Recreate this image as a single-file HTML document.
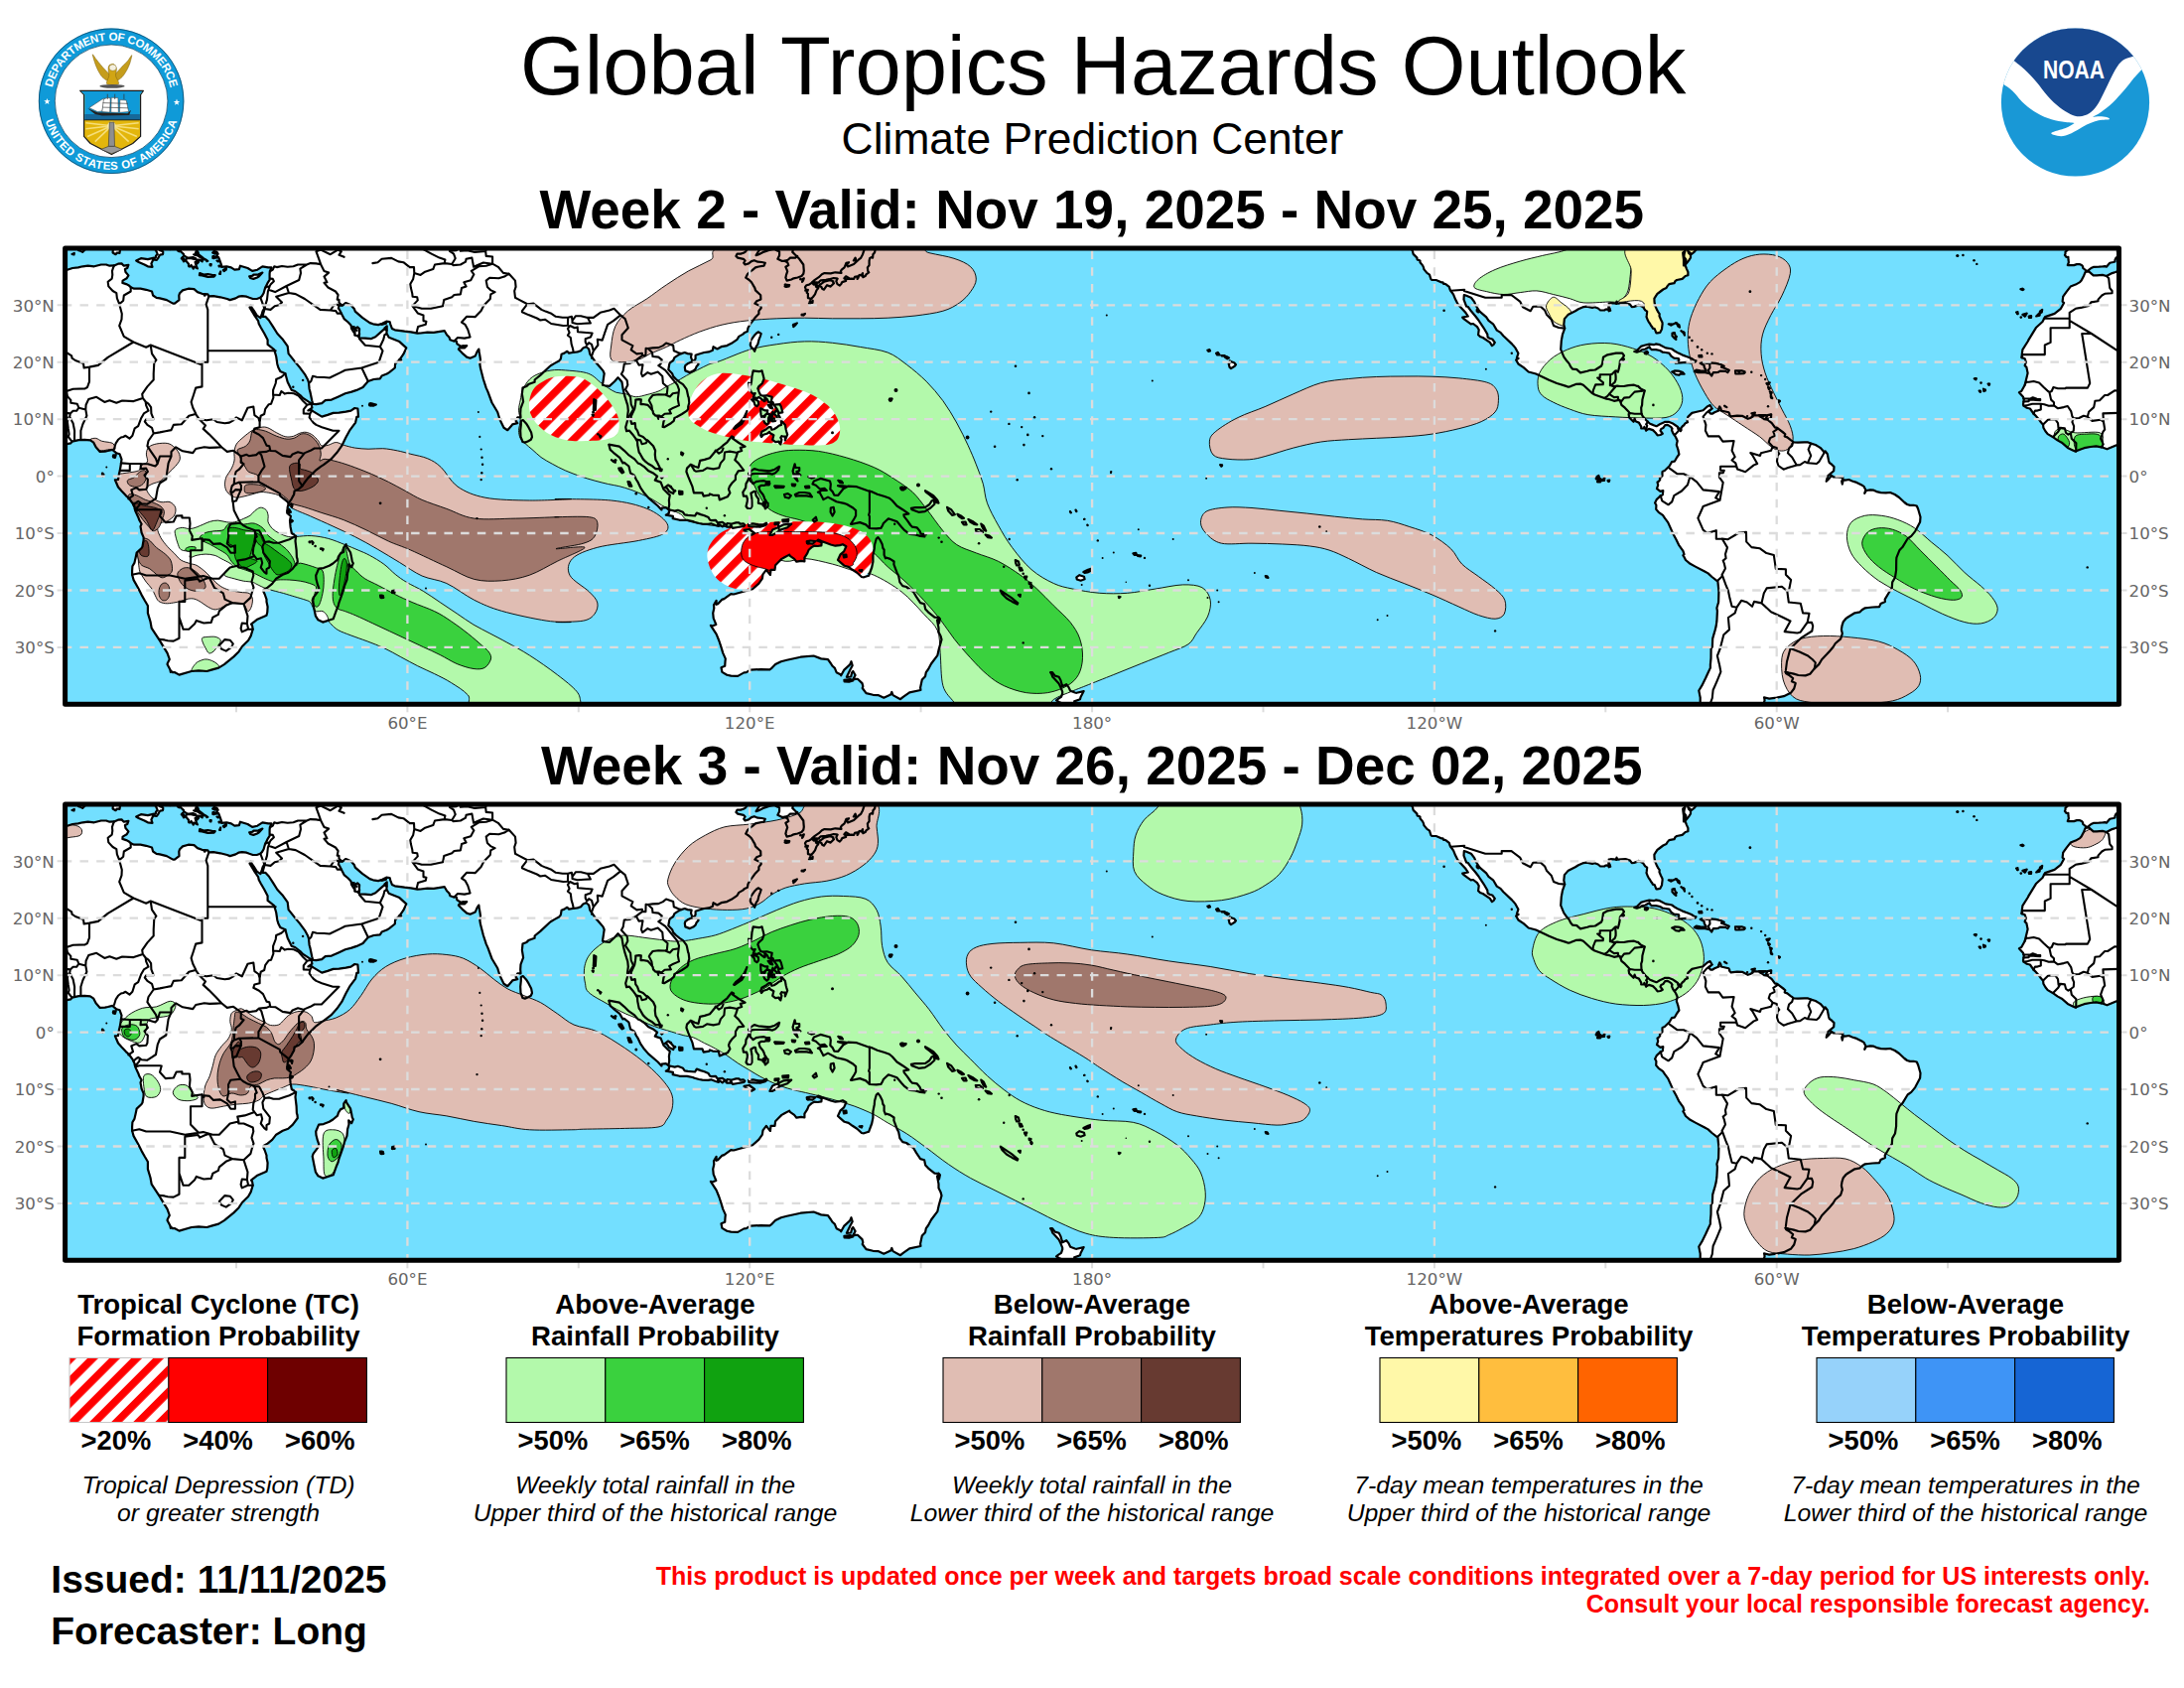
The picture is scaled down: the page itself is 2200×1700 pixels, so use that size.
<!DOCTYPE html>
<html lang="en"><head><meta charset="utf-8"><title>Global Tropics Hazards Outlook</title>
<style>
html,body{margin:0;padding:0;background:#fff}
svg{display:block}
text{font-family:"Liberation Sans",Arial,Helvetica,sans-serif;fill:#000}
.dv{font-family:"DejaVu Sans","Liberation Sans",sans-serif;fill:#666666;font-size:16.67px}
.b{font-weight:700}
.i{font-style:italic}
.m{text-anchor:middle}
.e{text-anchor:end}
</style></head><body>
<svg width="2200" height="1700" viewBox="0 0 2200 1700" xmlns="http://www.w3.org/2000/svg" xmlns:xlink="http://www.w3.org/1999/xlink">
<defs>
<clipPath id="mc"><rect x="65.6" y="249.9" width="2068.9" height="459.4"/></clipPath>
<pattern id="hz" width="15.6" height="15.6" patternUnits="userSpaceOnUse" patternTransform="rotate(-45)"><rect width="15.6" height="15.6" fill="#fff"/><rect y="0" width="15.6" height="7.6" fill="#ff0000"/></pattern>
<path id="L" d="M31.7 274 35.1 273.4 39.7 277.4 43.2 277.4 48.9 276.9 53 278 58.7 275.1 62.2 274 66.2 272.3 73.1 270 78.8 269.4 83.4 268.3 88.6 267.7 94.9 268.3 101.8 266.5 107 266.5 110.4 267.7 115 267.4 119 265.7 122.5 265.4 124.8 267.7 129.4 266.8 128.2 270 125.9 271.1 126.5 274 129.4 277.4 127.7 280.3 123.6 282.6 123.4 284.9 127.1 286.1 129.4 287.2 131.7 289.2 135.1 290.7 141.5 290.7 147.2 291.8 153 293.5 154.1 297.5 157.6 299.8 161 300.4 167.9 302.1 174.2 305.6 175.9 305.6 180.5 302.1 180.3 297.5 181.1 295.2 184 292.4 189.7 290.7 195.5 291.2 198.9 294.1 203.5 295.8 209.3 296.4 210.4 298.4 215 298.1 221.9 299.3 228.8 301 231.7 302.1 237.4 300.4 240.3 298.7 243.8 298.1 248.4 298.7 251.2 299.8 254.7 301 258.7 301 262.1 299.8 263.9 298.1 265.6 295.2 266.7 291.2 267.9 288.4 269.6 284.9 271.6 281.8 271.6 275.7 271.9 272.9 273.6 269.4 270.2 269.4 264.4 268.3 259.3 271.7 254.1 272.9 249.5 270 242 267.7 240.9 271.1 236.3 271.7 232.8 269.4 228.2 268.3 223.1 268.8 223.1 267.1 221.9 263.7 220.2 259.1 217.3 259.6 219.6 255.6 218.5 253.9 215.6 252.8 216.2 249.9 217.9 247 220.8 215.4 410.4 203.9 640.3 203.9 812.7 215.4 809.8 244.1 802.9 249.9 798.9 250.7 798.3 253.9 801.2 256.8 804.7 260.2 806.4 262.5 809.3 266.5 809.5 269.4 809.8 272.9 809.3 275.7 807.5 278 803.5 279.5 799.5 280.3 797.2 281.5 792.6 282.6 791.4 279.7 792 276.9 793.2 273.4 792.6 271.7 791.4 268.8 794.3 267.1 793.2 264.2 790.3 262.8 787.4 262.8 783.4 260.8 785.1 257.3 785.1 253.3 782.3 252.2 780 250.7 775.4 251.6 769.6 253.6 764.4 256.2 761.6 257.1 763.9 253.3 766.2 249.9 767.9 245.9 761 244.7 757 248.7 754.1 249.9 752.7 250.7 751.2 253.3 748.9 254.8 746 255.6 742.6 255.6 741.4 257.9 743.2 259.6 748.9 260.8 750.6 262.5 749.2 264.8 750.6 266.5 754.1 265.4 757 263.1 759.8 262.2 763.3 263.7 767.3 264 770.8 264.8 769.6 267.7 764.4 268.5 761 269.4 757.5 272.3 755.8 273.4 752.9 276.3 751.2 279.7 754.7 282 757 284.3 760.4 290.1 761 292.4 766.2 297.3 766.4 301.6 762.1 303.3 760.4 305.6 763.9 307.3 766.4 307.9 766.7 310.2 764.4 313.1 764.4 315.9 761 319.4 758.1 323.4 755.8 326.3 753.5 330.3 752.9 333.7 750.1 334.9 748.3 336.6 744.3 338.9 742.6 341.8 736.8 345.8 732.3 348.1 726.5 349.2 722.5 351.5 718.5 349.2 717.9 352.7 713.9 354.4 709.3 355 703.5 356.7 700.6 357.8 700.6 361.3 699.5 363 697.2 363 696 359.6 696.6 356.7 692.6 356.1 689.7 355 686.3 356.1 682.8 357.8 679.4 360.1 678.2 363 674.8 365.3 674.2 367 673.3 372.2 677.1 376.2 678.2 379.1 681.1 382 684.6 384.8 688 387.1 691.4 391.7 692 393.5 693.2 399.2 693.7 400.3 694.3 405.5 693.2 409.5 693.2 411.8 692 413.6 686.9 417 681.1 420.2 679.4 421 678.8 423.9 675.9 426.2 669 430.2 667.6 429.9 668.5 424.5 669.6 422.2 666.2 419.9 664.4 418.7 660.4 418.7 658.1 416.4 657.5 413.6 655.2 410.7 652.4 407.8 647.8 407 645.5 407.2 645.5 405.5 645.8 402.4 643.7 402.1 640.3 402.6 640.3 404.9 640 407.2 639.2 411.8 635.7 419.3 635.4 423.9 636.3 426.8 639.7 426.2 640.3 431.4 642 433.7 643.7 438.3 647.8 440 650.6 442.8 652.9 444 658.1 449.2 660.1 453.8 659.8 457.8 660.4 462.9 662.1 465.8 664.4 470.4 665 471.8 660.4 472.1 657 469.3 652.9 467 650.6 465.2 647.8 462.4 644.9 457.2 643.7 455.5 642.3 448.6 642 444.6 640.3 441.7 637.4 437.7 634 433.7 631.1 434.2 630.2 430.2 632.3 422.7 632 419.9 632.8 413.6 632.3 408.4 629.4 399.2 627.7 392.3 626.5 384.8 624.2 382 622.5 380.2 619 384.3 613.9 388.9 609.3 388.3 607 387.7 608.1 380.2 608.7 376.2 607.5 373.4 603.5 368.8 599.5 364.2 594.3 356.7 593.2 351.5 590.3 349.2 587.4 350.4 585.1 353.3 581.7 354.4 577.1 355 573.1 355.6 571.3 353.8 568.5 355.6 565.6 356.7 565 360.7 563.9 363 558.7 365.9 554.7 368.2 553.5 369.3 544.3 377.9 538.6 382.5 538.6 384.8 535.1 386 532.3 387.1 530.5 388.9 526.5 390.6 525.9 396.9 527.1 404.4 524.5 411.3 524.2 416.4 524.5 420.4 521.3 420.4 519.6 423.9 521.3 426.2 516.2 427.3 515 429.1 511.3 433.2 507.5 430.8 503.5 422.5 501.2 415 495.5 405.5 491.5 394.6 489.7 390.6 486.9 382 484 370.8 483.4 367 484 362.4 483.4 358.4 482.8 355 482.3 351.5 480.5 354.4 478.8 358.4 473.6 360.7 470.2 359.6 465.6 355.6 461.9 351.8 462.7 350.4 467.9 350.4 470.2 348.1 464.2 348.7 460.4 346.4 459.8 343.5 457 343.5 453.5 342.3 452.4 339.5 450.1 337.2 448.4 334.3 447.8 333.2 436.9 334.9 430.5 334.6 423.6 335.5 420.5 335.7 413.9 334.3 407.5 333.7 397.8 332.3 394.9 330.9 393.2 326.3 392.6 324 389.2 323.7 385.1 325.7 381.1 327.1 375.9 326.3 372.5 325.1 365 319.9 357.8 313.6 357 311.3 353.5 307.3 348.4 305 344.9 307.6 341.5 307.6 340.9 310.8 341.5 311 343.8 315.4 344.3 316.5 346.6 321.1 350.7 324.5 353.5 327.4 354.1 330.9 355.8 333.7 357.3 336 357.5 337.5 357.5 333.2 358.7 330.3 360.1 329.4 362.1 331.4 361.9 334.3 362.1 336.6 360.4 338.3 362.1 340.3 367.9 340.6 373.6 341.2 378.2 339.2 383.4 334.6 387.1 331.4 388.9 329.1 389.7 328.3 389.7 332.6 389.4 335.5 391.7 339.8 402.4 344.1 409.3 350.4 406.4 356.7 402.4 362.4 398.1 366.5 397.8 370.5 392 375.1 389.7 376.5 384.6 378.5 382.8 381.4 376.5 382 370.8 384 365.6 390 359.3 392.9 354.1 394.6 347.8 396.3 341.5 399.2 334 402.6 327.7 403.2 324.2 406.1 318.5 407.2 315.3 407 314.2 403.2 312.4 394.6 311.6 391.7 311 385.4 310.1 382.5 307 376.8 301.8 369.9 296.6 363.6 290.6 356.1 289.7 348.7 284.3 341.2 279.4 336 275.1 329.1 270.8 322.5 267.3 318.8 264.4 318.8 266.5 311.3 266.7 309.9 264.7 313.1 263.9 315.9 262.4 320.2 258.7 317.6 255.8 312.8 253.5 309.6 252.7 307.6 251.5 309.6 253.2 312.5 255.8 316.8 260.1 323.1 260.7 326 262.7 329.7 266.2 335.7 269.6 342.3 269.6 346.9 276.2 352.1 278.2 359 279.4 367 280.3 369.9 282.3 373.9 287.4 376.2 289.7 384.8 292.3 390 293.8 392.9 297.2 394 302.4 398 305.2 400.9 311.3 404.9 313.6 406.7 314.4 410.7 310.4 413.3 313.6 413 315.6 414.4 324.2 419.6 330 417.9 335.7 415.9 341.5 415.6 348.4 414.7 353.5 413.6 357.3 411 360.4 411.5 361 419.6 359.3 419.9 358.1 425.6 352.1 433.7 348.4 440.5 344.3 448.9 339.2 456.1 333.4 462.4 326.2 467.8 323.1 469.8 318.5 473.3 310.1 481.6 306.4 486.5 304.7 489.1 300.7 492.8 296.6 494.5 296.1 498 294.6 500.6 293.5 502.9 290.9 506.3 290.3 508.9 289.7 510.6 289.2 516.6 291.5 518.7 292.9 519.8 292 524.4 292.6 530.7 293.8 537 296.6 538.8 298.1 539.9 297.5 544.8 298.6 554 298.9 561.2 299.5 562.9 299.8 566 294.9 572.6 290.3 576.7 284.8 578.7 278.2 582.7 274.2 587.9 269.6 591.6 265.9 593.6 265.3 595.6 266.7 598.5 268.5 603.6 268.5 605.9 269.6 611.1 269.3 616.6 268.5 619.7 259.3 623.7 253 628.6 254.1 630.1 254.7 633.8 252.7 640.4 250.1 645 244 651 240.6 656.2 235.4 661.4 225.9 669.1 220.2 672.6 213 674.6 208.4 676 200.1 675.4 192.9 676 180.5 679.6 176.2 677.2 173.9 677.2 171.9 675.4 171.9 676.9 171.3 674.3 168.5 669.1 169 667.4 170.8 664 168.5 657.6 162.4 647.6 160.1 643.8 152.7 632.7 151.5 626 148.9 617.4 148.9 611.4 148.9 610 145.8 604.8 142.6 599.1 139.2 592.2 134.6 584.1 133.1 578.7 133.1 574.9 133.4 570.3 135.4 566.9 136.6 561.7 137.7 556.6 142.6 552 143.5 550.5 144.6 543.9 144.6 541.1 142.6 536.5 141.5 530.1 142.6 527.8 140.3 523.8 139.4 521.2 136.3 514.6 135.7 511.5 133.7 507.2 130 502 126.8 499.1 122.5 494.5 119 490.5 115.9 483.3 119 483 119.9 477.3 120.8 473.9 121.6 469 122.5 462.7 120.5 457.2 117.3 456.3 114.4 453.8 113.3 452.9 108.7 454 105.8 454.6 100.7 454.9 96.6 450.3 94.3 445.7 90.9 443.4 85.1 442.8 79.4 443.1 72.5 444.6 71.3 446.3 64.5 447.7 58.4 450.3 53.5 452.3 47.8 450.3 42.6 449.4 36.9 450 30.5 451.2 27.7 452.3 21.3 454.6 18.5 453.2 13.9 450.9 7.8 445.7 3.5 443.4 0.1 440.8 -6.2 437.1 -8.5 434.2 -10.5 430.8 -10.8 427.9 -13.1 425 -15.4 421.9 -18.9 418.1 -20.6 416.4 -24.1 411.5 -27.5 410.7 -30.4 408.7 -30.9 407.2 -30.1 402.4 -30.9 399.8 -35 395.2 -32.7 394 -29.2 387.7 -26.4 375.7 -27.5 369.9 -29.2 368.2 -28.1 364.7 -29.2 361.3 -32.4 360.1 -32.1 356.7 -31.5 352.1 -26.1 343.5 -25.2 341.8 -17.7 329.7 -11.4 324 -8.8 319.1 0.7 315.9 7 310.8 10.1 305 8.7 303.6 9.3 298.7 12.4 294.1 16.8 288.6 21.9 286.6 26.2 284.1 27.7 282.6 30.3 277.4ZM2100.6 274 2104.1 273.4 2108.7 277.4 2112.1 277.4 2117.9 276.9 2121.9 278 2127.6 275.1 2131.1 274 2135.1 272.3 2142 270 2147.7 269.4 2152.3 268.3 2157.5 267.7 2163.8 268.3 2170.7 266.5 2175.9 266.5 2179.3 267.7 2183.9 267.4 2188 265.7 2191.4 265.4 2193.7 267.7 2198.3 266.8 2197.2 270 2194.9 271.1 2195.4 274 2198.3 277.4 2196.6 280.3 2192.6 282.6 2192.3 284.9 2196 286.1 2198.3 287.2 2200.6 289.2 2204.1 290.7 2210.4 290.7 2216.1 291.8 2221.9 293.5 2223 297.5 2226.5 299.8 2229.9 300.4 2236.8 302.1 2243.1 305.6 2244.9 305.6 2249.5 302.1 2249.2 297.5 2250 295.2 2252.9 292.4 2258.7 290.7 2264.4 291.2 2267.9 294.1 2272.4 295.8 2278.2 296.4 2279.3 298.4 2283.9 298.1 2290.8 299.3 2297.7 301 2300.6 302.1 2306.4 300.4 2309.2 298.7 2312.7 298.1 2317.3 298.7 2320.1 299.8 2323.6 301 2327.6 301 2331.1 299.8 2332.8 298.1 2334.5 295.2 2335.7 291.2 2336.8 288.4 2338.5 284.9 2340.5 281.8 2340.5 275.7 2340.8 272.9 2342.6 269.4 2339.1 269.4 2333.4 268.3 2328.2 271.7 2323 272.9 2318.4 270 2311 267.7 2309.8 271.1 2305.2 271.7 2301.8 269.4 2297.2 268.3 2292 268.8 2292 267.1 2290.8 263.7 2289.1 259.1 2286.2 259.6 2288.5 255.6 2287.4 253.9 2284.5 252.8 2285.1 249.9 2286.8 247 2289.7 215.4 2479.3 203.9 2709.2 203.9 2881.6 215.4 2878.8 244.1 2871.9 249.9 2867.8 250.7 2867.3 253.9 2870.1 256.8 2873.6 260.2 2875.3 262.5 2878.2 266.5 2878.5 269.4 2878.8 272.9 2878.2 275.7 2876.5 278 2872.4 279.5 2868.4 280.3 2866.1 281.5 2861.5 282.6 2860.4 279.7 2860.9 276.9 2862.1 273.4 2861.5 271.7 2860.4 268.8 2863.2 267.1 2862.1 264.2 2859.2 262.8 2856.3 262.8 2852.3 260.8 2854 257.3 2854 253.3 2851.2 252.2 2848.9 250.7 2844.3 251.6 2838.5 253.6 2833.4 256.2 2830.5 257.1 2832.8 253.3 2835.1 249.9 2836.8 245.9 2829.9 244.7 2825.9 248.7 2823 249.9 2821.6 250.7 2820.1 253.3 2817.8 254.8 2815 255.6 2811.5 255.6 2810.4 257.9 2812.1 259.6 2817.8 260.8 2819.6 262.5 2818.1 264.8 2819.6 266.5 2823 265.4 2825.9 263.1 2828.8 262.2 2832.2 263.7 2836.2 264 2839.7 264.8 2838.5 267.7 2833.4 268.5 2829.9 269.4 2826.5 272.3 2824.7 273.4 2821.9 276.3 2820.1 279.7 2823.6 282 2825.9 284.3 2829.3 290.1 2829.9 292.4 2835.1 297.3 2835.4 301.6 2831.1 303.3 2829.3 305.6 2832.8 307.3 2835.4 307.9 2835.7 310.2 2833.4 313.1 2833.4 315.9 2829.9 319.4 2827 323.4 2824.7 326.3 2822.4 330.3 2821.9 333.7 2819 334.9 2817.3 336.6 2813.2 338.9 2811.5 341.8 2805.8 345.8 2801.2 348.1 2795.4 349.2 2791.4 351.5 2787.4 349.2 2786.8 352.7 2782.8 354.4 2778.2 355 2772.4 356.7 2769.6 357.8 2769.6 361.3 2768.4 363 2766.1 363 2765 359.6 2765.5 356.7 2761.5 356.1 2758.6 355 2755.2 356.1 2751.7 357.8 2748.3 360.1 2747.2 363 2743.7 365.3 2743.1 367 2742.3 372.2 2746 376.2 2747.2 379.1 2750 382 2753.5 384.8 2756.9 387.1 2760.4 391.7 2760.9 393.5 2762.1 399.2 2762.7 400.3 2763.2 405.5 2762.1 409.5 2762.1 411.8 2760.9 413.6 2755.8 417 2750 420.2 2748.3 421 2747.7 423.9 2744.9 426.2 2738 430.2 2736.5 429.9 2737.4 424.5 2738.5 422.2 2735.1 419.9 2733.4 418.7 2729.3 418.7 2727 416.4 2726.5 413.6 2724.2 410.7 2721.3 407.8 2716.7 407 2714.4 407.2 2714.4 405.5 2714.7 402.4 2712.7 402.1 2709.2 402.6 2709.2 404.9 2708.9 407.2 2708.1 411.8 2704.6 419.3 2704.3 423.9 2705.2 426.8 2708.6 426.2 2709.2 431.4 2710.9 433.7 2712.7 438.3 2716.7 440 2719.6 442.8 2721.9 444 2727 449.2 2729 453.8 2728.8 457.8 2729.3 462.9 2731.1 465.8 2733.4 470.4 2733.9 471.8 2729.3 472.1 2725.9 469.3 2721.9 467 2719.6 465.2 2716.7 462.4 2713.8 457.2 2712.7 455.5 2711.2 448.6 2710.9 444.6 2709.2 441.7 2706.3 437.7 2702.9 433.7 2700 434.2 2699.2 430.2 2701.2 422.7 2700.9 419.9 2701.7 413.6 2701.2 408.4 2698.3 399.2 2696.6 392.3 2695.4 384.8 2693.1 382 2691.4 380.2 2688 384.3 2682.8 388.9 2678.2 388.3 2675.9 387.7 2677 380.2 2677.6 376.2 2676.5 373.4 2672.4 368.8 2668.4 364.2 2663.2 356.7 2662.1 351.5 2659.2 349.2 2656.3 350.4 2654 353.3 2650.6 354.4 2646 355 2642 355.6 2640.3 353.8 2637.4 355.6 2634.5 356.7 2633.9 360.7 2632.8 363 2627.6 365.9 2623.6 368.2 2622.4 369.3 2613.2 377.9 2607.5 382.5 2607.5 384.8 2604 386 2601.2 387.1 2599.5 388.9 2595.4 390.6 2594.9 396.9 2596 404.4 2593.4 411.3 2593.1 416.4 2593.4 420.4 2590.3 420.4 2588.5 423.9 2590.3 426.2 2585.1 427.3 2583.9 429.1 2580.2 433.2 2576.5 430.8 2572.4 422.5 2570.1 415 2564.4 405.5 2560.4 394.6 2558.6 390.6 2555.8 382 2552.9 370.8 2552.3 367 2552.9 362.4 2552.3 358.4 2551.8 355 2551.2 351.5 2549.5 354.4 2547.7 358.4 2542.6 360.7 2539.1 359.6 2534.5 355.6 2530.8 351.8 2531.6 350.4 2536.8 350.4 2539.1 348.1 2533.1 348.7 2529.3 346.4 2528.8 343.5 2525.9 343.5 2522.4 342.3 2521.3 339.5 2519 337.2 2517.3 334.3 2516.7 333.2 2505.8 334.9 2499.5 334.6 2492.6 335.5 2489.4 335.7 2482.8 334.3 2476.5 333.7 2466.7 332.3 2463.8 330.9 2462.1 326.3 2461.5 324 2458.1 323.7 2454.1 325.7 2450 327.1 2444.9 326.3 2441.4 325.1 2433.9 319.9 2426.8 313.6 2425.9 311.3 2422.4 307.3 2417.3 305 2413.8 307.6 2410.4 307.6 2409.8 310.8 2410.4 311 2412.7 315.4 2413.2 316.5 2415.5 321.1 2419.6 324.5 2422.4 327.4 2423 330.9 2424.7 333.7 2426.2 336 2426.5 337.5 2426.5 333.2 2427.6 330.3 2429.1 329.4 2431.1 331.4 2430.8 334.3 2431.1 336.6 2429.3 338.3 2431.1 340.3 2436.8 340.6 2442.6 341.2 2447.2 339.2 2452.3 334.6 2456.1 331.4 2457.8 329.1 2458.7 328.3 2458.7 332.6 2458.4 335.5 2460.7 339.8 2471.3 344.1 2478.2 350.4 2475.3 356.7 2471.3 362.4 2467 366.5 2466.7 370.5 2460.9 375.1 2458.7 376.5 2453.5 378.5 2451.8 381.4 2445.4 382 2439.7 384 2434.5 390 2428.2 392.9 2423 394.6 2416.7 396.3 2410.4 399.2 2402.9 402.6 2396.6 403.2 2393.1 406.1 2387.4 407.2 2384.2 407 2383.1 403.2 2381.4 394.6 2380.5 391.7 2379.9 385.4 2379.1 382.5 2375.9 376.8 2370.7 369.9 2365.5 363.6 2359.5 356.1 2358.7 348.7 2353.2 341.2 2348.3 336 2344 329.1 2339.7 322.5 2336.2 318.8 2333.4 318.8 2335.4 311.3 2335.7 309.9 2333.7 313.1 2332.8 315.9 2331.4 320.2 2327.6 317.6 2324.7 312.8 2322.4 309.6 2321.6 307.6 2320.4 309.6 2322.2 312.5 2324.7 316.8 2329.1 323.1 2329.6 326 2331.6 329.7 2335.1 335.7 2338.5 342.3 2338.5 346.9 2345.1 352.1 2347.2 359 2348.3 367 2349.2 369.9 2351.2 373.9 2356.4 376.2 2358.7 384.8 2361.2 390 2362.7 392.9 2366.1 394 2371.3 398 2374.2 400.9 2380.2 404.9 2382.5 406.7 2383.4 410.7 2379.3 413.3 2382.5 413 2384.5 414.4 2393.1 419.6 2398.9 417.9 2404.6 415.9 2410.4 415.6 2417.3 414.7 2422.4 413.6 2426.2 411 2429.3 411.5 2429.9 419.6 2428.2 419.9 2427 425.6 2421 433.7 2417.3 440.5 2413.2 448.9 2408.1 456.1 2402.3 462.4 2395.1 467.8 2392 469.8 2387.4 473.3 2379.1 481.6 2375.3 486.5 2373.6 489.1 2369.6 492.8 2365.5 494.5 2365 498 2363.5 500.6 2362.4 502.9 2359.8 506.3 2359.2 508.9 2358.7 510.6 2358.1 516.6 2360.4 518.7 2361.8 519.8 2361 524.4 2361.5 530.7 2362.7 537 2365.5 538.8 2367 539.9 2366.4 544.8 2367.6 554 2367.8 561.2 2368.4 562.9 2368.7 566 2363.8 572.6 2359.2 576.7 2353.8 578.7 2347.2 582.7 2343.1 587.9 2338.5 591.6 2334.8 593.6 2334.2 595.6 2335.7 598.5 2337.4 603.6 2337.4 605.9 2338.5 611.1 2338.3 616.6 2337.4 619.7 2328.2 623.7 2321.9 628.6 2323 630.1 2323.6 633.8 2321.6 640.4 2319 645 2313 651 2309.5 656.2 2304.3 661.4 2294.9 669.1 2289.1 672.6 2281.9 674.6 2277.3 676 2269 675.4 2261.8 676 2249.5 679.6 2245.1 677.2 2242.9 677.2 2240.8 675.4 2240.8 676.9 2240.3 674.3 2237.4 669.1 2238 667.4 2239.7 664 2237.4 657.6 2231.4 647.6 2229.1 643.8 2221.6 632.7 2220.4 626 2217.9 617.4 2217.9 611.4 2217.9 610 2214.7 604.8 2211.5 599.1 2208.1 592.2 2203.5 584.1 2202 578.7 2202 574.9 2202.3 570.3 2204.3 566.9 2205.5 561.7 2206.6 556.6 2211.5 552 2212.4 550.5 2213.5 543.9 2213.5 541.1 2211.5 536.5 2210.4 530.1 2211.5 527.8 2209.2 523.8 2208.4 521.2 2205.2 514.6 2204.6 511.5 2202.6 507.2 2198.9 502 2195.7 499.1 2191.4 494.5 2188 490.5 2184.8 483.3 2188 483 2188.8 477.3 2189.7 473.9 2190.6 469 2191.4 462.7 2189.4 457.2 2186.2 456.3 2183.4 453.8 2182.2 452.9 2177.6 454 2174.7 454.6 2169.6 454.9 2165.6 450.3 2163.3 445.7 2159.8 443.4 2154.1 442.8 2148.3 443.1 2141.4 444.6 2140.3 446.3 2133.4 447.7 2127.3 450.3 2122.5 452.3 2116.7 450.3 2111.5 449.4 2105.8 450 2099.5 451.2 2096.6 452.3 2090.3 454.6 2087.4 453.2 2082.8 450.9 2076.8 445.7 2072.5 443.4 2069 440.8 2062.7 437.1 2060.4 434.2 2058.4 430.8 2058.1 427.9 2055.8 425 2053.5 421.9 2050 418.1 2048.3 416.4 2044.9 411.5 2041.4 410.7 2038.5 408.7 2038 407.2 2038.8 402.4 2038 399.8 2033.9 395.2 2036.2 394 2039.7 387.7 2042.6 375.7 2041.4 369.9 2039.7 368.2 2040.8 364.7 2039.7 361.3 2036.5 360.1 2036.8 356.7 2037.4 352.1 2042.9 343.5 2043.7 341.8 2051.2 329.7 2057.5 324 2060.1 319.1 2069.6 315.9 2075.9 310.8 2079.1 305 2077.6 303.6 2078.2 298.7 2081.4 294.1 2085.7 288.6 2090.8 286.6 2095.2 284.1 2096.6 282.6 2099.2 277.4ZM1419.6 247.3 1421.3 249.9 1423 253 1423.6 255.9 1427.4 259.6 1427.6 261.4 1430.5 262.5 1430.5 264.2 1433.1 267.4 1434 269.4 1434.5 271.4 1437.4 274.9 1440 276.6 1441.4 281.2 1442.3 281.8 1446.6 282 1448.9 282.9 1451.8 284.3 1453.5 284.3 1454.1 285.8 1455.2 285.8 1456.9 286.6 1459.8 288.9 1460.7 291.8 1461.5 293 1464.1 296.7 1466.1 301.6 1467.9 305 1469.3 307.3 1474.2 312.5 1476.5 315.1 1478.8 318.5 1473.2 319.7 1474.2 320.8 1481.7 326.3 1484 326 1488 329.1 1489.7 332 1489.1 337.2 1490.9 338.9 1493.7 340 1500.9 344.9 1502.9 348.2 1504.4 347.2 1505.8 344.9 1503.2 341.5 1500.6 340.9 1498.6 339.5 1498.3 336.6 1494.6 330.3 1491.1 325.1 1489.4 322.5 1486.5 318.8 1481.9 313.3 1478.8 309 1477.1 308.5 1474.5 301.6 1474.8 297 1476.5 297.5 1481.9 299.8 1485.1 303.9 1486.8 307.9 1489.7 312.5 1491.1 314.2 1497.2 319.4 1499.5 322.8 1504.1 326.3 1507.8 332.6 1511.5 334.9 1514.4 338.3 1523 346.4 1526.5 350.4 1529.4 355.8 1527.9 360.4 1529.6 361 1527.1 362.4 1529.4 366.5 1534.8 370.2 1539.7 374.5 1547.2 376.5 1550.9 378.2 1560.4 382.8 1568.2 386 1576.8 388.6 1579.9 389.7 1582.2 389.1 1587.4 386.9 1592 386.6 1594.9 387.7 1603.5 395.8 1606.4 397.5 1612.7 399.7 1618.2 401.6 1621.3 402.2 1625.9 403.8 1629.6 403.2 1631.7 402.9 1632.5 405.2 1633.4 407.8 1636.8 410.7 1640.9 415 1641.7 416.7 1640.6 417 1641.1 420.4 1645.5 424.8 1646.6 421.6 1646.9 422.3 1648 424.5 1650.9 425.6 1653.2 429.6 1653.2 431.4 1655.8 431.5 1656.4 429.9 1658.1 433.5 1661 431.9 1665 433.1 1667.9 436 1669.6 438.3 1672.5 438 1674.8 436.7 1672.5 433.8 1673.3 431.9 1675.3 431.1 1677.3 428.2 1679.9 427.9 1683.4 430.2 1684.5 431.6 1684 433.3 1685.4 436.5 1686.8 438.3 1688 440.3 1689.7 444 1688.8 448 1690.3 452.6 1691.4 457.5 1688.8 461.2 1686.8 464.7 1684 465.2 1681.7 469.3 1676.8 474 1674.5 474.9 1674.5 479.2 1671.9 481.7 1672.3 483 1670.6 485.1 1669.5 485.6 1670.2 488.5 1669 492.2 1672.5 494.8 1675.3 494 1674.8 498.3 1672.2 499.7 1668.7 503.1 1667.1 506.5 1668.4 508.8 1668.2 512.9 1670.7 515.8 1675 518.9 1677.2 522.1 1680.2 526.1 1682.8 531.9 1685.3 537.4 1688.4 543.3 1691.1 548.8 1695.4 554.8 1696.5 558.3 1695.4 559.4 1696.6 561.2 1698 564 1702.6 567.8 1707.8 570.6 1716.7 575.2 1720.6 577.4 1724.5 581 1730.4 585.7 1731.4 595.6 1731.1 606.5 1729.4 612.3 1729.9 615.4 1729.4 625.5 1728.6 630.9 1727.5 635.1 1725.2 643.1 1724.9 651.3 1723.6 653.3 1723.5 662.8 1722.9 669.3 1722.9 672.6 1720.7 677.2 1718.3 682.5 1714.4 690.4 1711.3 695.5 1712.1 699.6 1712.7 702.4 1712.7 708.5 1711 711 1711 738 1772.5 738 1773.6 715.4 1777.1 712.5 1776.5 709.3 1777.6 705.3 1777.1 702.4 1782.2 703.6 1789.7 702.7 1796.9 701.2 1803.9 697.8 1807.2 693.5 1808.7 688.1 1804.9 686.3 1806.1 683.2 1801.8 679.7 1799.2 678.3 1798.3 676.6 1802.1 677.6 1806.9 678.6 1811.5 680 1818.7 680.4 1823.3 678.7 1827.7 673.4 1832.2 669.1 1835.1 664.2 1840.3 658.8 1842.9 655.9 1846.5 651.8 1848.8 648 1854.2 643.3 1855.8 638.1 1854.9 634.1 1855.5 630.1 1856.7 626.3 1859.2 623.2 1861.5 621.5 1868.4 617.3 1873.6 616.3 1875.6 614.3 1878.8 612.3 1881.7 612 1886.2 611.5 1893.1 611.1 1894.4 608.1 1898.9 605.9 1898.7 603.6 1903.1 596.2 1905.8 592.2 1906.2 586.4 1909 581.5 1910.1 574.1 1910.2 564.6 1910.4 561.6 1913.3 554.3 1916.4 551.1 1921.6 542.5 1925.3 539.9 1929.2 535.1 1934.1 525.8 1934.5 520.7 1932.2 512.8 1930.8 509.5 1927.6 508.8 1924 508.9 1921.1 508 1918.4 506 1913.1 501 1908.7 498 1904.1 496 1899.8 496.3 1894.6 496.1 1890.3 495.1 1887.4 493.7 1884 493.4 1880 494 1878.2 496.8 1879.4 493.4 1877.6 489.9 1875.9 488.8 1871.3 486.5 1869.4 485.6 1865.8 484.5 1862.4 483 1858.7 483.6 1856.9 483 1855.8 487.6 1855.2 484.8 1855.8 483.6 1856.4 481 1851.2 480.5 1847.2 480.5 1844.9 479 1842.6 481.9 1839.7 484.8 1841.1 479.4 1844.9 476.2 1847.2 474.1 1847.5 470.1 1844.9 467.5 1842.6 465.8 1842 463.5 1840.8 457.2 1838.5 454.3 1837.7 455.5 1834 451.2 1831.9 449.9 1828.8 448 1824.2 446.6 1821.3 445.4 1817.6 445.4 1811 445.7 1806.9 445.4 1805.2 444 1804.1 443.4 1800.3 440.4 1797.7 439.4 1798.3 437.4 1796.9 436 1790.8 431.4 1788 430.5 1784.8 426.2 1780.5 422.7 1777.1 422.2 1774.8 420.4 1772.5 419.3 1776.5 418.9 1779.1 418 1771.9 418.1 1771 418.3 1765.3 418.4 1765.7 419.5 1763 421 1760.7 421.8 1754.9 418.8 1749.9 418.7 1743.7 419.4 1742 417.6 1742.2 416.8 1741.4 415.3 1734.7 413.8 1733.7 413.3 1733.4 411.1 1732.2 409.5 1731 412.4 1731.4 413.6 1727.1 415.3 1724.8 416.7 1723.3 416.6 1722.5 415.9 1721 414.4 1724.6 411.5 1722.6 408.1 1719.7 409.5 1715.6 413.3 1708.1 415 1704.4 415.9 1700.3 419.9 1699.5 423.9 1700 425.3 1697.7 426.2 1696 428.5 1695.3 428.8 1693.3 431.2 1693.6 433.1 1692.9 434.2 1691.7 431.9 1690.4 430.7 1689.9 429.8 1688 428.5 1684.5 426.2 1680.8 424.8 1676.8 424.8 1675.3 425.8 1671.9 427.3 1669 429.1 1667.9 429.1 1665 427.9 1662.1 426.8 1660.1 425 1657.3 422.2 1654.6 419 1653.5 416.8 1653.2 410.7 1654.1 407.8 1654.4 402.6 1655.3 399 1656.7 393.5 1652.6 391.4 1650 388.9 1648.3 388.6 1646 387.7 1640.3 388.2 1635.7 389 1631.9 389 1629.1 388.6 1625.3 389.3 1623.6 388.3 1624.2 387.1 1626.8 384.8 1627.6 382.1 1627.6 379.1 1627.1 374.2 1628.2 373.4 1629.8 374.7 1630.5 372.2 1631.4 368.5 1631.9 363.6 1634.1 361.1 1636 358.1 1634.2 355.6 1627.9 355.6 1619.3 357.3 1615 359.7 1614.2 365.6 1613.2 368.5 1606.9 372.5 1602.1 372.8 1598.9 373.8 1592 375.4 1589.7 373.4 1588.6 372.2 1584.2 371.7 1582.1 369.3 1580.5 365.9 1578.3 363.6 1575.3 359.3 1572.2 351.8 1572.8 343.2 1573.9 337.2 1576.2 330.6 1575.3 326.8 1575.9 321.1 1579.4 317.1 1586.8 313.3 1590 311.3 1595.2 309.1 1598.3 308.6 1604.1 309.9 1606.4 309.3 1609.8 310.5 1612.1 312.5 1616.1 312.5 1617.3 311.6 1619.6 311.3 1620.7 313.3 1622.2 312.8 1621.6 310.8 1620.2 309 1621.3 307.3 1620.7 305.6 1622.5 305.2 1625.6 305.3 1628.2 305.9 1628.5 303.6 1629.4 305.6 1633.4 305.3 1637.4 305.1 1642 306.6 1643.8 309.2 1646 308.9 1649.8 307.6 1650.6 306.9 1653.8 308.5 1655.2 309.3 1657.2 312.3 1659.2 313.6 1658.7 317.9 1658.5 319 1659.2 320.8 1660 322.8 1660.7 324.1 1662.1 326 1663 327.7 1664.4 329.5 1664.8 330.7 1666.7 331.1 1668.4 335.3 1669.6 335.3 1672.2 334.9 1672.7 334 1674 331.6 1674.2 329.6 1674.6 326.3 1674.5 324.8 1673 321.8 1671.5 318.3 1671.7 316.2 1670.2 314.2 1669.6 312.9 1669 311.9 1667.3 307.9 1666.7 305.3 1666.5 303.3 1666.4 300.7 1669.6 295.7 1670.7 295 1675.3 291.5 1678.5 290.1 1679.4 288.4 1681.3 286.1 1686.5 285.2 1687.4 283.2 1689.1 282 1694.6 280.9 1697.7 278 1700.4 277.3 1700.4 274 1700 273.1 1698.9 270.6 1697.9 268 1697.7 267.5 1696 267.4 1696 264.2 1696 261.4 1695.4 256.8 1695.2 254.5 1697.5 252.5 1696.6 255.6 1696.3 258.5 1698.3 261.4 1698 264.2 1697.9 266.4 1700 263.7 1701.5 261.9 1703 259.5 1703 256.8 1701.2 255 1700.3 252.8 1702.3 254.5 1703.9 256 1706.8 253.6 1708.7 251.3 1709.2 247.3 1709.2 215.4 1419.6 215.4ZM15.6 238.4 70.8 238.4 70.5 245.9 68.5 247.3 65.6 250.2 64.5 251.9 63.9 253 64.5 254.8 66.2 256.5 66.9 257.2 65 258.5 62.7 259.6 61.6 261.7 61.6 263.5 59.9 264 56.4 264.8 55.3 266 53 268.7 51.5 268.1 48.4 268.5 45.5 268.7 40.3 268.8 37.4 270 34.9 272.2 33.4 272.9 31.7 271.8 29.4 270 29.1 268.3 28 267.1 25.7 266 23.1 266.1 20.2 267.1 14.2 267.1 13.9 267 15 264.2 14.6 261.7 14.5 258.8 12.7 259 11.3 257.3 11 256.9 11.6 255.6 11.6 253.6 13.5 252.2 14.6 249ZM2084.5 238.4 2139.7 238.4 2139.4 245.9 2137.4 247.3 2134.5 250.2 2133.4 251.9 2132.8 253 2133.4 254.8 2135.1 256.5 2135.8 257.2 2133.9 258.5 2131.6 259.6 2130.5 261.7 2130.5 263.5 2128.8 264 2125.3 264.8 2124.2 266 2121.9 268.7 2120.4 268.1 2117.3 268.5 2114.4 268.7 2109.2 268.8 2106.4 270 2103.8 272.2 2102.3 272.9 2100.6 271.8 2098.3 270 2098 268.3 2096.9 267.1 2094.6 266 2092 266.1 2089.1 267.1 2083.1 267.1 2082.8 267 2083.9 264.2 2083.5 261.7 2083.4 258.8 2081.6 259 2080.2 257.3 2079.9 256.9 2080.5 255.6 2080.5 253.6 2082.4 252.2 2083.5 249ZM150.7 238.4 150.7 246.1 151.8 248.2 153.5 249.7 155.5 249.6 156.3 251 157.7 253.6 158.7 256.2 157 257.5 157 259.1 155.8 259.9 155.5 260.8 155.7 261.7 157.9 261.8 159.3 259.9 160.7 257.3 161.3 256.6 163.9 256.2 164.2 255.2 164.2 253.3 161.3 252.2 160.4 251.3 161.6 249 162.4 247.9 164.4 247.1 166.7 248.2 169 249.6 171.2 251 171.9 249 169 246.1 169 238.4ZM176.5 238.4 177.4 247.3 176.5 247.9 179.1 249.3 180.5 250.6 182 252.8 182.8 254 184.9 255.9 184.9 256.8 186.9 258.5 188.6 259.4 190.6 259.5 194.3 259.1 197.2 260.2 197.5 261.5 192.6 260.1 190.5 260.1 188.3 260.2 186.9 261.8 188 263.5 190 265.7 190 267.7 190.3 268.3 191.7 268.4 192.6 267 194.8 270.6 195.3 268.5 198.9 270.4 198.1 268.8 197.2 266.2 196.6 264 198.6 265.4 200.1 263.7 198.6 263.4 197.8 261.9 199.8 261.5 201.4 261.8 203.7 263.4 203.5 261.3 203.8 260.2 202.4 259.5 201.2 258.8 199.5 257.6 198.4 257.3 196.6 256.9 195.2 256.3 197.5 255.9 196.9 254.8 197.5 253.6 198.4 255 199.8 254.8 198.9 253 197.2 251.6 195.8 249.9 195.5 248.4 197.2 246.4 200.1 250.2 200.7 248.7 203.4 250.2 203 248.2 205.8 249.2 204.7 246.4 215 244.7 215 238.4ZM884.5 541.1 882.8 542.5 881.1 548.5 880.8 552.2 879.4 559.4 879.4 565.7 878.2 571.5 875.1 579.8 870.2 581.3 867.9 581 863.3 576.7 858.7 573.8 854.7 570.9 850.6 569.8 846.6 566.3 844 564 846.6 558.3 850.1 555.4 852.4 550.2 848.9 548.2 846 549.1 841.4 549.7 836.8 548.5 832.2 546.8 827.7 545.1 824.2 543.6 823.1 544.5 827.7 546.2 827.4 549.4 823.6 550 820.2 549.7 817.6 551.1 814.7 553.7 813.3 557.1 810.4 561.7 810.4 565.5 807 564.9 802.4 565.7 800.1 562.9 795.5 559.7 795.2 558.6 790.3 561.2 787.4 562.9 784 566.3 781.1 569.2 780.5 573.8 776.5 573.8 775.9 579 773.6 576.1 771.9 573.8 768.5 578.4 767.9 582.7 764.4 587.6 758.1 593.3 747.2 596.2 739.1 598.5 736.3 598.2 729.4 603.1 727.1 603.9 723.1 608.2 721.6 608.8 721.6 604.8 719 609.4 719.3 612.6 718.2 617.4 718.7 622.6 721.3 628.9 717.3 630.6 715.9 629.8 721.6 638.7 724.2 645 726.5 651.9 728.2 657.6 730.8 663.4 730.5 666.5 730.2 670.8 726.5 672.3 727.4 676.9 732.3 679.7 736.3 680.6 743.2 680.9 749.5 677.4 751.8 677.2 755.8 674.6 766.2 674.1 775.4 674.3 777.7 672.6 781.1 669.1 786.8 666.2 792.6 664.8 806.4 661.7 819.6 660.5 827.1 663.4 834 664.2 836.8 668 838.6 670.8 840.9 672.9 842.6 677.2 846.6 679.2 847.2 680.3 850.1 674.9 856.1 669.4 857.5 666.2 858.7 670.3 856.4 674.6 852.9 681.8 857.2 681.5 858.1 677.4 859.3 676 861.6 680 859.3 684.1 862.1 683.8 863.9 683.8 868.5 688.1 869.3 691.2 868.7 693 872.5 698.1 879.4 699.8 884.5 700.1 890.3 702.7 897.2 699.6 898.3 697 899.5 700.1 907 704.2 909.8 701.9 916.2 697.3 927.4 695 927.1 692.4 928.8 684.6 932 681.2 932.8 677.2 935.1 674 938 668.5 944.3 660.2 945.8 653.6 948.5 644.1 947.5 640.4 945.5 636.4 945.5 632.4 944 624.6 946 622 941.4 621.7 935.1 616.6 932.2 613.4 931.1 608.2 927.1 607.1 923.1 601.1 920.2 596.2 917.6 594.5 913 591 909.3 590.2 906.4 586.4 905.2 580.1 903.5 576.7 900.4 568.3 900.6 565.5 896.6 562.9 893.2 561.7 892 562.3 890.6 558.9 890.6 553.7 889.4 552 888.6 547.9 886.6 543.9ZM819.9 484.5 826.5 481.9 836 484.5 836.8 487.6 836.3 492.8 838.6 495.1 840.3 498.6 844.3 498.8 849.5 492.2 854.1 489.7 863 490.2 874.2 494.2 877.7 495.1 883.7 497.7 891.2 500 896 501.7 898.9 504.3 903.5 509.5 909.3 513.2 915.3 517.5 910.4 518.4 910.7 520.1 913.9 524.1 917.3 529 919 530.7 923.6 531.3 926.5 534.7 927.6 537.6 932.8 538.5 929.9 539.3 931.4 540.5 927.1 539.9 921.9 538.5 916.2 537.9 911.3 534.2 908.1 530.7 903.5 525.3 897.8 523.2 894.9 522.4 892 525 889.7 527.3 889.1 529 887.4 531.9 882.8 532.4 875.9 532 872.2 528.4 866.2 526.1 858.7 527.8 857 527.8 861 521.5 862.1 519.2 862.1 514.1 859.3 511.5 852.9 507.7 850.1 506.9 842.6 505.2 834 500.6 829.4 503.1 825.9 496.5 823.9 495.7 827.7 494 832.8 494 830.5 491.9 825.9 492.5 821.9 488.8 818.5 487.4ZM695.8 467.8 699.8 469.8 703.5 471 705.2 463.8 709.8 462.9 715 461.2 720.8 454.3 725.9 450.9 727.7 449.2 732.5 445.3 737.1 439.4 739.1 440.5 738 441.7 744.3 446 750.6 449.7 745.8 450.9 747.2 454 743.2 455.2 741.4 460.6 740.3 463.2 743.7 466.4 749.2 473.6 743.7 474.4 740.9 479 740.9 483 737.1 486.8 734.8 490.2 734 492.8 735.4 496.3 732.8 500.3 724.8 503.4 723.9 498.8 717.9 498.6 715 497.4 714.4 498.6 708.7 499.7 707.5 496.3 702.9 496.3 698.9 496.3 697.5 490.2 695.5 485.3 693.2 479.9 691.4 475 692 471.6ZM613.3 447.7 623.9 449.7 628.8 453.8 632.8 457.8 639.2 462.4 642.6 466.4 644.9 467.3 648.6 469.8 652.9 473.9 657.5 476.2 662.1 479.6 659.8 483.6 665.6 485.6 668.5 492.8 672.5 496.8 674.8 498.6 673.9 503.7 674.2 508.3 673.3 513.2 670.8 511.2 666.7 511.5 666.4 513.5 662.7 509.5 653.2 501.4 648.3 495.7 645.5 491.7 642.3 485.1 640.9 483 638.9 478.7 635.1 476.4 633.4 469.5 628.8 465.8 627.4 466.4 624.2 460.9 617.9 455.8 614.7 452.9ZM674.8 513.5 679.7 514.6 682.8 513.8 688 515.8 689.7 518.4 692.9 518.9 700.1 519.5 701.8 516.6 705.8 518.1 709.6 519.2 713.6 520.9 715 523.5 716.2 524.1 720.8 523.8 723.1 526.7 723.9 529.9 720.8 529 716.2 527.3 713.3 527.8 707.5 527.6 704.1 527 699.5 525.8 697.8 525 692 523.8 690 523.8 684.6 523.8 677.7 522.1 677.9 519.8 670.8 518.7 673.9 516.9 673.6 516.1ZM759.8 472.1 763.9 473.3 769.6 473.9 775.4 474.4 780.5 472.7 783.1 471 785.1 469.8 784 473.3 781.1 476.2 778.2 477.6 773.1 476.7 766.7 477 761 477 757 477.3 755.5 480.2 755.8 484.2 758.7 487.1 761.6 485.1 765 484.5 769.6 484.2 771.9 485.1 775.1 485.1 774.2 487.1 770.2 488.8 766.7 488.8 764.4 490.5 765.6 494.5 768.5 498 769.6 500.3 770.2 502.3 771.9 504.9 770.8 506.9 766.7 507.5 763.9 506.6 764.1 502.6 761.6 499.1 761 495.1 759.8 494.8 756.4 496.8 757.3 501.4 757.5 506 757.5 510 756.4 511.8 752.9 511.8 751.5 510 751.8 508.9 752.7 504.9 752.9 502.6 752.1 499.7 748.9 499.7 748.3 495.7 748.9 494.8 751.2 491.1 751.5 487.1 753.5 483.6 754.4 480.2 754.1 476.7 756.4 474.4ZM348.6 548.2 348.9 550.2 353 556.3 354.1 561.4 354.7 565.2 355.8 567.2 354.1 571.2 351.2 568.3 351.5 572.3 350.1 577.2 349.5 583.8 346.9 590.4 346.1 593.9 343.5 601.4 341.5 606.8 340.6 610.5 339.2 613.7 335.7 623.3 325.1 626.6 320.5 624.3 317.9 620.3 316.5 613.7 314.7 604.5 315.6 601.9 319.9 596.2 321.3 592.7 319.9 588.7 318.5 583.3 318.2 579.5 321.1 572.6 325.9 572.1 331.7 569.8 335.4 567.5 340 563.7 340.9 560.6 343.2 557.1 346.1 556 346.3 551.4ZM526.8 423.1 524.8 423.9 524.8 427.9 524.2 433.7 524.5 439.8 526.5 445 528.8 445.6 531.7 444.5 534.8 442.8 536 440 535.1 435.4 532.5 430.4 530 426.4ZM1058.1 677.2 1060.1 677.2 1062.7 680.6 1066.7 681.8 1068.5 685.2 1070.2 691.2 1074.2 689.2 1076.5 692.1 1078.2 695.8 1082.8 697.5 1084.5 697.8 1091.7 696.1 1088.6 701.9 1088 704.2 1082.2 706.4 1083.4 707.3 1080.5 711.6 1073 718.5 1070.2 716.8 1071.3 713.9 1072.5 710.5 1071.3 709 1066.7 707 1064.1 705.3 1065.9 703.9 1069 701.9 1070.2 698.4 1070.2 696.7 1068.5 692.4 1066.7 688.6 1062.1 683.5 1060.4 681.8 1059.3 678.9ZM1058.1 712.2 1059.8 713.9 1067.3 715.1 1067.3 720.8 1054.1 720.8ZM817.9 284.6 815 286.6 812.4 287.2 811 289.2 811.8 291.5 811.3 292.7 813.9 291.8 812.7 294.7 813.9 295.8 813.9 300.1 815.9 300.5 816.4 301.6 819 299 821 296.4 822.5 292.4 824.2 290.4 821.9 288.6 822.8 286.3 819.6 286.6ZM824.2 288.1 828.2 285.2 830 283.8 836 282.3 839.4 283.2 839.1 284.1 840 285.2 836.7 288.6 833.1 287.2 830 291.7 828.2 290.7 827.4 288.9ZM817.9 284.3 820.8 281.8 824.8 279.2 827.9 276.3 830.5 275.1 836.8 275.4 841.4 274.3 847.5 274.9 846.9 273.1 847.8 271.7 850.6 269.4 852.4 264.8 855 264.2 852.9 266.8 854.1 268.5 860.1 266 864.7 261.7 867 259.9 869 256.2 870.5 251.6 868.5 250.5 870.2 248.7 870.2 238.4 878.8 238.4 879.1 247 880.5 248.7 881.5 251.9 881.1 254.2 879.4 256.2 879.1 259.6 877.7 259.1 876.2 259.9 875.6 262.5 875.6 267.1 873.9 269.4 874.2 272.9 875.2 274.4 872.5 276.3 871.9 277.7 869.3 279.2 869 276.9 869 275.1 868.2 276.3 868.2 277.7 866.2 276.9 865.3 277.2 865 278.3 864.1 280.6 863.6 280.9 863.6 278.3 861 278.9 860 280.9 857.2 280.6 853.1 281 855 280 852.1 278.3 850.4 280.3 852.1 281.5 852.1 282.9 848.3 284.1 847.2 286.1 845.9 287.6 843.5 286.1 842.3 283.2 843.7 280.6 842.6 280.4 839.7 280 835.4 281.2 832 281.8 826.8 282.3 825.4 283.5 824.8 284.6 821.6 284.3 819.9 284.7ZM764.1 334.3 765.3 335.2 766.7 336 766 338.3 764.6 341.8 763.3 346.9 761.8 348.9 760.1 353.8 758.7 351.2 756.8 349.8 755.8 347.5 756.1 345.2 756.1 343.2 758.1 340.3 760.4 337.2 762.1 335.5ZM699.5 364.5 703.2 365 703.5 367 701.5 369.3 700.6 371.6 698.3 373.6 694.9 375.1 690.3 373.4 689.8 369.9 690.3 368.2 693.2 365.9 696 364.7ZM790.6 288.4 792.6 286.9 795.2 287.2 794.6 288.4 792 288.9ZM808.1 283.8 809 282.6 809.8 280.3 808.7 280.9ZM859.8 262.5 861.6 259.6 862.1 261.1 861.3 262.5ZM758.7 373.4 764.7 374.2 767.6 373.4 769.6 381.4 767.9 386 764.4 389.1 763.3 391.2 764.7 394.9 766.2 398 768.5 398.6 772.5 398.3 777.7 399.8 777.1 403.2 776.8 404.1 778.8 405.5 778.8 407.5 777.4 407 775.9 405.5 774.2 404.9 772.8 402.1 770.2 399.8 770.8 403.8 769.9 404.1 764.4 399.8 762.7 401.2 761.3 400.6 758.7 400.3 760.7 396 758.4 396.6 756.7 394.6 755 391.4 754.1 385.7 756.4 387.4 757 384.3 757.5 378.8 758.4 375.1ZM757 402.4 760.7 402.1 763.9 404.1 764.1 407.2 762.4 409.2 760.4 407.8 759.6 404.9ZM739.1 431.6 741.4 428.8 746 425 749.5 420.4 752.4 414.1 751.2 417.6 750.1 422.2 747.2 426.8 743.2 429.6 740 431.9ZM766.2 411.3 770.2 413.3 773.3 413.3 772.5 416.7 770.2 418.4 767 419.9 766.4 417ZM769 422.5 771.6 417 774.2 416.7 775.6 417.3 773.6 422.2 774.2 426.2 772.5 427.6 770.2 425.6ZM774.2 425.3 776.2 420.2 778.5 414.7 777.9 419.3 775.9 423.3ZM777.1 423.6 779.4 421.3 781.7 422.2 781.1 423.9 778.2 424.5ZM780 417 781.4 413.6 784 414.7 784.3 418.1 785.7 420.4 784.8 421.9 782.8 421.9 782.5 419.3ZM779.4 407.5 785.7 407.2 786.8 409.5 788.3 415.3 784.5 415.9 783.7 413.8 782.3 411.3ZM773.6 407.8 776.5 407.8 778.2 411.5 775.9 410.7ZM786.8 423.3 790.9 427.9 791.7 432.5 792.3 434.8 793.2 437.7 790.9 443.4 790.9 439.7 788 439.4 787.4 439.1 786.3 440.8 787.4 442.8 786.3 447.4 785.1 446.3 784.8 444.6 781.1 445.1 778.2 442.8 779.4 438.3 775.4 436 775.1 434.8 772.5 436.8 769 437.7 767 440 766.2 438.3 767.3 434.8 771.9 432.2 774.5 430.2 776.5 430.2 777.4 432.8 779.7 432.2 782 430.8 784.5 428.8 787.1 427.9ZM723.3 526.4 727.7 525.8 730.5 527.8 727.7 530.4 724.2 527.8ZM731.4 529.9 732.5 527 736.3 527.6 735.7 530.7 732.3 530.7ZM736.6 527.8 741.4 526.4 744.3 526.4 745.5 527.6 748.9 527.3 750.4 528.7 749.5 529.9 746.6 530.4 743.2 531 738 531.9 736.8 530.1ZM754.1 527.8 758.7 527.3 763.9 528.4 768.5 528.4 771.9 526.7 772.5 527.6 770.8 529.3 765.6 530.7 759.8 530.4 754.4 530.1ZM749.5 533.9 754.7 533 760.1 537 757 538.8 751.8 535.9ZM775.4 539 778.2 533.6 783.4 531.3 789.1 528.4 797.2 527.6 793.2 531.3 786.3 533.6 781.7 537 778.2 538.8ZM788.3 523.5 794.3 523.2 794 525.3 788.6 525.3ZM780.5 526.7 784.5 526.4 784.3 527.8 780.5 528.1ZM798.6 474.4 800.6 467.3 801.5 471 805.2 471 805.2 473.9 802.4 475 806.4 478.5 803.5 477.9 800.9 477.3 803.5 484.5 800.6 481.3 799.5 477.9ZM800.9 498 805.2 496 810.4 496 815.6 496.8 817.9 500.3 812.7 499.4 807 499.1 801.8 499.7ZM790 498 793.7 497.1 796.9 499.1 794.9 501.7 790.9 500.8ZM669.9 490.8 673.1 488.5 675.9 490.5 679.1 494.5 678.2 497.1 674.2 495.1 671.9 491.7ZM684 494.5 687.4 495.1 687.4 497.7 684.3 497.7ZM623.3 471.6 625.9 471.3 628.2 475.6 626.5 476.4 623.9 473.3ZM632.5 485.1 634.3 485.3 636.3 489.7 634 489.7ZM615.9 463.2 618.5 464.4 619.9 465.8 617.9 465ZM836.8 511.5 839.7 510.9 840.6 515.8 838.6 519.5 836.6 515.8ZM818.7 523.8 821.9 520.7 822.8 524.1 820.2 525.5ZM844.3 483.9 847.5 484.5 848.9 486.5 846.3 486.2ZM844 489.1 848.9 489.4 852.4 489.9 848.3 490.5ZM814.4 480.2 817.9 479.6 820.2 481 817.3 481.6ZM811 489.9 815 489.7 815.3 491.1 811.6 491.4ZM780.2 489.4 785.7 489.7 789.7 489.9 789.1 490.8 781.1 491.1ZM797.8 487.6 801.2 487.9 800.6 489.4 798.1 489.1ZM771.6 486.8 775.4 486.8 774.8 488.5 771.9 488.5ZM770.5 504.9 773.6 506.6 773.6 510 770.8 512.3 770.2 510ZM768.7 506.3 771 506.9 770.2 510.3 768.5 508.9ZM917.9 511.8 921.9 511.2 927.6 511.2 932.2 510.9 936.3 508 938.6 504.3 940.9 503.7 941.4 507.7 937.4 511.5 931.7 515.2 925.4 515.8 918.5 513.2ZM932 494.2 935.1 496 940.3 499.1 944.3 503.7 945.5 506.6 943.2 506 941.4 502.6 936.8 498.6 932.8 495.7ZM954.1 510.9 958.1 513.2 961.8 518.1 959.3 518.9 955.2 514.6ZM907.8 491.1 912.7 491.1 912.1 492.2 908.1 492.2ZM964.4 517.8 967.9 519.5 971 521.8 969 522.1 965.6 519.8ZM969 525.8 972.5 525.5 973.6 528.4 970.8 528.4ZM975.4 523 980.5 525.5 984.3 528.4 981.1 527.8 977.1 525.5ZM982.8 533 986.8 533 990 535.9 986.8 536.5 983.4 535.3ZM988.3 527.6 990.9 529.6 993.2 534.7 990.9 533.6 989.1 530.1ZM992.6 538.5 996.6 539.6 998.9 541.6 994.9 541.1ZM1022.8 564 1025.9 565.5 1026.8 568.9 1024.2 569.5 1023.1 566.9ZM1026.5 571.2 1028.8 572.1 1029.9 574.4 1027.6 574.6ZM1032 580.7 1034.3 580.7 1034 581.8 1032.2 581.8ZM1036.6 586.7 1038.6 587 1038 588.7 1036.8 588.1ZM1038.3 591 1039.7 591.3 1039.1 592.4ZM1007.8 594.7 1012.7 597.9 1019 602.2 1025.3 607.4 1024.8 608.5 1019.6 605.9 1013.9 602.5 1009.3 597.9ZM1025.9 599.1 1027.9 598.8 1027.6 600.8ZM1084.3 581.3 1087.4 579.2 1092 580.7 1092.6 583.3 1088.6 584.7 1084.8 583.5ZM1091.4 576.1 1096 573.8 1099.8 572.6 1099.5 574.6 1095.5 576.4 1092.6 576.9ZM1141.4 557.4 1144.3 556.8 1144.9 558.6 1142.6 558.9ZM1145.7 559.1 1149.2 559.7 1148.9 560.3 1146 560ZM1238.6 369.9 1240 371.1 1243.7 368.8 1244.9 367.3 1243.2 365.3 1240.3 364.2 1238.6 363.3 1239.1 365.3 1237.7 366.2ZM1234 359.6 1235.4 359 1238 360.4 1236.3 361.3 1234.8 360.4ZM1225.1 355.8 1226.8 355 1228.5 357.3 1225.9 357.3ZM1216.4 352.7 1218.4 352.1 1219 353.5 1217.3 353.8ZM1230.5 358.1 1233.7 358.1 1233.4 358.7 1230.8 358.5ZM1608.7 479.9 1610.4 479 1611.5 482.5 1612.1 485.3 1609 485.3 1609.8 483ZM1614.4 482.8 1616.1 482.8 1616.1 483.9 1614.4 483.9ZM1607.8 481.3 1609 481.3 1609 482.5 1607.8 482.5ZM1619.6 483.9 1621.3 483.6 1620.7 485.1ZM1646.3 354 1648.9 353 1652.9 348.9 1656.4 347.8 1661.3 346.6 1665.9 347.2 1667.9 346.4 1671.9 347.2 1677.9 350.4 1682.2 351 1684.2 351.5 1687.4 353.8 1690.6 355.6 1694.9 357.6 1697.2 358.4 1699.5 359.3 1703.8 361 1706.4 362.7 1708.5 363.3 1707.8 364.5 1702.6 365.3 1698.6 364.9 1692.6 365.3 1687.8 365.6 1691.4 362.7 1690.9 361 1686.3 360.7 1683.4 358.7 1681.4 355.6 1677.6 355 1674.9 354.7 1672.2 353 1667.9 352.1 1663.8 352.1 1662.4 351 1661.5 349.2 1657.5 351.5 1655.2 352.1 1654.1 352.1 1651.8 353.8 1648.9 354.7ZM1656.9 354.7 1659.2 353.8 1660.1 355.3 1658.7 356.4 1656.9 356.1ZM1684.2 374.5 1686.8 373.4 1690.9 373.6 1695.2 375.1 1696.6 376.7 1693.2 376.5 1691.1 377.8 1688 377.1 1685.4 375.1ZM1712.7 365.9 1715.9 365 1719.6 366 1722.7 365.4 1728.2 365.9 1732.8 366.8 1736.8 368.8 1734 369.6 1735.7 370.2 1741.8 372.8 1740.3 375.1 1738.3 373.9 1732.8 373.6 1730.5 375 1728.8 375.1 1725.9 375.1 1724.2 378.5 1722.2 376.1 1717.6 375.1 1710.7 375.1 1706.7 374.2 1708.7 372.5 1712.7 373.4 1714.4 373.6 1717 373.4 1718.7 373.1 1716.7 369.9 1716.7 367.9 1714.4 366.8ZM1748 373.4 1754.6 373.4 1757.5 374.2 1756.7 376.2 1751.8 376.5 1748.3 376.5ZM1778.8 421.6 1780.5 418.1 1784.2 417.3 1784 421.3 1781.1 421.9ZM1684.5 335.5 1686.8 335.2 1687.7 338.3 1688.3 341.8 1686.3 340.3 1684.5 338.3ZM1680.8 326.3 1684.5 326.5 1686.8 326 1682.8 327.4ZM1687.7 325.1 1691.4 327.1 1692 329.7 1690.3 328.6 1688.8 325.4ZM1711.3 358.1 1714.1 357.8 1714.4 359.3 1711.5 359.3ZM1693.4 333.2 1696.6 334.9 1696.9 337.7 1696 335.5ZM137.2 262.5 142 260.2 148.9 261.1 155.3 259.6 152.4 265.4 153.5 268.8 148.9 268.3 145.5 266.5 139.7 264ZM112.4 244.4 113.9 250.5 113.6 254.5 116.5 256.2 117.9 254.5 120.5 254.8 121.3 249.9 121.9 246.4 118.5 242.7 115 244.7ZM200.9 277.2 201.2 275.1 205.3 276.6 209.3 276.2 213.6 276.9 216.7 277.2 215.6 278.6 209.3 279 203.5 277.4ZM251.2 278.3 254.7 277.7 255.3 276.6 260.4 276.3 264.4 274.6 261 278.3 259 279.5 255.3 280.9 252.1 280ZM197.5 256.5 199.5 255.5 201.2 257.1 205 260.2 207 261.4 205.3 261.4 203.5 259.4 201.2 258.8 199.2 257.3ZM224.8 272 228 270.3 227.7 271.7 225.7 273.1ZM214.2 254.5 216.2 253.3 218.5 255 216.2 255.6ZM214.4 258.2 215.9 258.2 215.6 260.2 214.4 259.9ZM218.5 262.5 221.1 262.8 219.6 263.4ZM209.6 250.2 211.6 249.9 211.3 251 209.8 251ZM182.8 260.2 184 258.8 185.1 260.8 183.7 261.1ZM184.3 261.9 186 262.8 185.1 263.4ZM178.5 251.3 180.3 251 181.1 253.3 179.7 253ZM211.6 266 212.7 266.2 212.4 267.4 211.6 267.1ZM207.6 261.7 209.3 262.8 208.4 263.1ZM220.5 267.7 222.8 268 220.8 268.5ZM221.1 276 222.2 273.4 221.9 276ZM79.1 252.2 83.4 250.2 85.4 251.6 83.1 253.9 81.1 252.8ZM72.5 255.9 74.8 255 74.5 256.5ZM87.4 249.6 90.3 250.2 88.6 250.7ZM372.2 407.5 375.9 406.7 378.8 407.5 375.9 408.7ZM290.9 512.6 291.7 513.5 292.9 515.8 291.5 516.4ZM293.5 507.7 294.6 508.3 294 510.9ZM293.5 523.8 294.9 524.7 293.8 525.5ZM314.2 545.1 315.6 546.5 315 547.9ZM324.5 552.5 325.7 553.1 325.1 554.3ZM383.1 599.6 385.7 599.9 386.3 601.9 384 602.2ZM395.2 595 397.5 594.5 397.5 597 395.2 597ZM114.2 458.4 116.7 458.1 115.9 460.9 114.2 460.4ZM103 477.6 104.4 477.9 103.5 479.6ZM2037.4 316.8 2041.7 315.6 2039.7 318.5ZM2043.7 318.5 2046 318.2 2046 319.9 2044 319.9ZM2051.2 318.5 2054.9 314.8 2054.6 317.6ZM2054.9 313.6 2057.2 311.9 2056.9 313.3ZM2031.1 314.5 2032.5 314.2 2032.2 316.2ZM1998 391.7 1999.8 393.5 1998.3 394ZM1988.8 381.4 1990.8 381.1 1990.3 382.3ZM2002.6 386.6 2004.1 386.9 2003.5 387.8ZM1993.7 393.5 1994.9 393.5 1994.3 394.3ZM2035.4 291.2 2038.5 291.5 2037.4 292.1ZM355.5 329.1 356.7 329.1 356.4 331.1ZM383.4 326.5 388.6 324.8 388.9 325.7 385.1 326.8ZM402.4 361.9 404.1 362.4 402.9 363.6ZM598.3 402.1 600.4 403.2 599.8 413 597.8 413 598.1 407.8ZM596.6 417.6 597.8 417.9 597.5 419ZM603.8 438.3 605.5 439.4 604.7 440.5ZM662.4 419.6 663.6 420.2 663.3 421.9ZM686.3 455.5 688.3 456.6 687.4 458.4ZM799.2 329.1 800.9 326.3 802.9 325.4 800.9 327.7ZM808.4 317.1 811 315.9 809.5 317.6ZM815 305.3 816.4 305.3 815.9 306.2ZM817.6 305 818.7 302.7 818.5 305ZM896.9 403.5 898.6 401.5 897.8 403.2ZM1274.8 580.1 1276.5 580.4 1277.4 581.8 1275.3 581.5ZM1126.8 600.8 1128.5 601.1 1127.6 601.6ZM1229.1 468.1 1231.1 468.4 1230.2 469.5ZM850.4 684.9 856.4 684.1 859.3 685.5 855.2 686.6 850.6 686.3ZM813 545.1 816.2 544.5 821.3 545.1 818.5 547.7 815 547.1ZM812.7 545.4 814.7 545.9 813.9 547.7 813 547.1ZM849.5 558.9 852.4 558.6 852.7 560.9 850.1 561.4ZM865.6 574.4 868.5 574.1 867.9 575.5ZM945.5 621.7 946.9 623.2 946 627.5 944.9 626ZM664.4 472.7 666.7 472.7 666.4 474.1 665 474.1ZM665.9 480.5 667.9 480.2 666.7 481.6ZM1487.7 311.9 1489.4 312.8 1489.1 314.5 1487.7 313.3ZM1634.5 361.6 1636 361.6 1635.1 363ZM1764.4 416.4 1767.9 415.6 1767.3 417ZM1737.1 408.7 1739.4 410.1 1738 409.5ZM1779.4 386 1782.8 385.4 1780.8 387.7ZM1782.8 394.3 1784.8 395.2 1784 396.6ZM1781.1 390 1782.5 390.6 1781.9 392ZM1783.7 398.9 1784.5 399.2 1784 400.6ZM1791.7 403.2 1792.9 403.8 1792.3 404.7ZM1708.1 719.7 1712.1 719.7 1711.5 723.7Z"/>
<path id="B" d="M2121.9 278 2124.2 280.3 2124.8 286.1 2125.3 290.1 2127.6 293 2127.6 295.2 2120.2 295.8 2117.3 297.5 2113.5 301.6 2113.5 303.3 2106.4 304.4 2104.1 307.9 2096 309.9 2090.8 310.8 2084.7 314.8 2084.7 322.8M2058.8 320.7 2084.7 320.7M2036.5 360.1 2037.4 357.1 2059.8 357.1 2059.8 347.5 2065.6 344.9 2065.6 330.3 2084.7 330.3 2084.7 322.8M15.8 322.8 37.8 336 72.2 358.4 72.5 360.7 75.9 363 84 365.9 84.6 370.5 90 369.6 98.9 367.9 108.7 359.9 134.4 344.5M2084.7 322.8 2106.8 336 2141.1 358.4 2141.4 360.7 2144.9 363 2152.9 365.9 2153.5 370.5 2158.9 369.6 2167.9 367.9 2177.6 359.9 2203.3 344.5M2106.8 336 2097.2 336 2105.2 386 2102.9 390.6 2081.1 390.6 2080.5 391.2 2073 391.2 2068.4 390 2066.7 394 2064.4 394.9M2039.7 387.7 2040.8 384.8 2043.7 384.8 2048.6 384 2054.1 385.4 2058.4 389.7 2063 394 2064.4 394.9M2064.4 394.9 2065 397.5 2066.1 402.6 2069 405.2 2069 408.4M2038.3 401.5 2045.4 401.5 2047.7 400.3 2051.8 401.8 2055.2 402.1 2055.2 403.2 2050.6 402.9 2047.2 402.4 2043.7 402.9 2043.7 404.1 2038.3 404.5M2038.5 408.7 2042.6 408.1 2047.2 406.8 2055.8 406.8M2055.8 406.8 2059.2 407.2 2063.8 408.7 2069 408.4M2055.8 406.8 2055.8 412.4 2052.3 413.6 2050 413.6 2048.3 416.7M2058.1 427.6 2063 422.7 2070.2 422.2 2073 426.2 2073.6 431.9 2075.5 430.9M2075.5 430.9 2073 435.1 2068.4 439.8M2075.5 430.9 2079.9 431.4 2081.1 436 2083.4 437.7 2085.8 436.2M2085.8 436.2 2086.8 441.7 2091.4 446.3 2091.2 454.6M2085.8 436.2 2088.8 433.7 2089.1 429.1 2087.4 425 2088.7 421.2M2069 408.4 2073 411.3 2078.8 410.1 2082.8 409 2086.2 414.1 2087.4 419.3 2088.7 421.2M2088.7 421.2 2094.3 421 2098.9 418.7 2102.8 419.7M33.9 419.7 35.1 414.7 40.3 410.1 41.5 403.8 46.1 403.2 51.2 398 54.1 398 61.6 393.2 66.9 394M2102.8 419.7 2104.1 414.7 2109.2 410.1 2110.4 403.8 2115 403.2 2120.2 398 2123 398 2130.5 393.2 2135.8 394M2102.8 419.7 2107.5 423.9 2116.1 422.7 2119 425M2119 425 2120.2 432.5 2118.4 434.8 2116.1 441.7 2118.7 447.4 2116.7 450.3M50.1 425 49.5 416.4 64.7 415.9 65.6 415.9M2119 425 2118.4 416.4 2133.7 415.9 2134.5 415.9M65.6 415.9 68.5 422.2 67.9 425 68.8 431.9 69.6 437.1 68.8 440 72.5 444.6M2134.5 415.9 2137.4 422.2 2136.8 425 2137.7 431.9 2138.5 437.1 2137.7 440 2141.4 444.6M70.8 416.4 70.2 419.9 73.6 426.2 75.1 433.7 75 444M2139.7 416.4 2139.1 419.9 2142.6 426.2 2144 433.7 2143.9 444M65.6 415.9 70.8 416.4M2134.5 415.9 2139.7 416.4M70.8 416.4 73.6 413.8 77.1 413.8 79.4 410.7 86.3 412.4M2139.7 416.4 2142.6 413.8 2146 413.8 2148.3 410.7 2155.2 412.4M86.3 412.4 87.4 418.7 83.4 427.3 81.4 433.7 81.4 442.8M66.9 394 67.9 399.2 71.3 402.9 71.3 405.8 77.7 406.7 79.4 410.7M2135.8 394 2136.8 399.2 2140.3 402.9 2140.3 405.8 2146.6 406.7 2148.3 410.7M66.9 394 73.6 391.7 85.7 391.4 88 390 90 384.3 90 369.6M2135.8 394 2142.6 391.7 2154.6 391.4 2156.9 390 2158.9 384.3 2158.9 369.6M86.3 412.4 86.6 407.8 89.2 402.1 97.2 399.8 105.3 404.9 110.4 403.2 117.3 405.8 123.1 403.5 134.6 404.1 143.8 400.9M143.8 400.9 143.2 396.9 148.4 389.4 154.7 382.5 154.7 376.2 155.3 365.3 157.4 362.7 153 356.1 151.7 347.5M134.4 344.5 147.2 349.8 151.7 347.5M134.4 344.5 124.8 338.9 120.2 328 122.5 321.7 122.8 315.9 120.2 306.2M120.2 306.2 117.9 300.4 117.3 295.2 113.6 293 109.3 288.4 108.7 283.8 112.7 280.6 113.3 276.9 113 272.9 113.9 270 115 267.4M120.2 306.2 124.2 302.7 124.8 297.5 131.7 293.5 131.7 289.2M210.4 298.4 207.6 306.7 209.3 311.9 209.3 353.3M151.7 347.5 203.5 367.6 203.5 364.7 209.3 364.7 209.3 353.3M209.3 353.3 277.7 353.3M203.5 367.6 203.5 389.4 197.2 390.6 194.9 398 192.6 404.9 194.3 410.7 197.2 416.4 197 416.9M197 416.9 190.3 418.7 182.8 427.3 174.8 427.9 172.5 433.1 166.7 434.2 161 435.4 154.7 436.5M154.7 436.5 153 430.8 148.4 427.9 145.8 424.5 147.2 422.2 154.7 422.2 152.4 416.4 152.1 410.1 149.5 406.7 146.6 404.5M143.8 400.9 146.6 404.5M146.6 404.5 147.2 408.4 149.5 413.6 144.9 416.4 142 421.6 139.2 429.1 135.7 431.4 133.4 438.8 130.5 441.7 126.5 438.8 124.2 440 121.9 440.5 119 442.8 116.7 446.3 115 452M154.7 436.5 149.5 444 148.4 449.2 151.8 454.3 157 461.8 158.7 467M158.7 467 156.4 469.5 148.9 467.3 142 467 130.8 467 121.9 466.4M130.8 467 130.8 473.9 121.9 473.9M142 467 141.5 472.1 147.2 471.6 148.9 475 145.5 478.5 148.9 483 148.4 490.5 147.2 492.8 140.3 493.4 137.4 491.1 132.3 493.4 134 499.1 129.4 502.3M158.7 467 161 459.5 172.5 459.5M172.5 459.5 169.6 466.4 168.5 473.9 167.3 482.5 161 486.5 158.7 492.2 157 502 153.5 504.3 148.4 507.7 142.6 507.2 140.9 506M134.6 508.5 137.4 506 139.2 504.9 140.9 506 140.3 508.9 137.4 512.3 135.7 512.7M172.5 459.5 172.5 454.9 177.1 450.3 184 454.3 194.3 456.1 197.2 452 205.8 450.3 211 450.9 217.9 450.6 223.1 450.3M223.1 450.3 217.3 444 210.4 437.1 204.7 431.9 207 428.5 200.7 422.2 197 416.9M200.7 422.2 208.1 423.3 215 422.2 218.5 425 226.5 426.2 231.1 425.6 235.1 423.3 238 420.4 243.8 423.3 249.5 410.7 255.3 409.5 256.4 418.1 260.4 421 261.6 425M287.4 376.2 283.4 379.7 278.2 382 277.7 386 275.1 392.9 275.1 397.5M275.1 397.5 281.7 398 283.4 394 286.9 396.6 290.3 395.8 296.1 396.3 300.7 398.6 305.2 403.8 309.3 407.8 313.5 406.7M309.3 407.8 305.8 412.4 305.8 416.4 311.6 416.7 312.4 416.4 314.2 413.7M312.4 416.4 311.6 420.4 315.6 425.6 318.5 427.9 324.2 430.2 335.4 433.7 341.5 433.7 323.9 451.5 316.7 451.5 312.7 453.8 307 456.1 306.4 456.9M306.4 456.9 301.1 463.3 301.2 479.6 301.2 484.5 304.4 489.1M306.4 456.9 300.1 455.2 294.6 457.5 292.6 460.1 284.6 458.9 277.7 454.3 272.5 454 272.2 453.2M272.2 453.2 268.5 454.9 261 455.5M261 455.5 263.3 458.4 266.5 469.8 263.9 473.3 261.6 477.3 260.4 479 260.4 485.3M260.4 485.3 281.7 496.8 282.3 499.7 290.9 506.3M261 455.5 258.1 458.1 250.7 459.2 248.4 457.8 242.9 459.5M242.9 459.5 235.1 453.8 228.8 454.9 223.1 450.3M272.2 453.2 271.3 449.2 268.5 448.6 265 441.1 261 437.7 255.3 434.8 256.4 431.4 261.6 430.2 261.6 425M261.6 425 262.7 418.7 266.2 417 267.3 411.8 270.8 407.2 273.1 406.7 275.4 400.3 275.1 397.5M242.9 459.5 242.6 465.8 245.5 467.3 240.9 472.7 237.7 475 236.3 480.2 235.7 487.6M235.7 487.6 240.9 485.7 260.4 485.3M235.7 487.6 233.7 489.4 233.1 491.7 232.3 495.4M240.9 485.7 242.9 488.8 242.9 493.1M232.3 495.4 234.6 495.7 237.4 493.1 240.9 493.4 242.9 493.1M232.3 495.4 233.7 498.6 234.3 505.2M242.9 493.1 240.3 498.6 238 504.3 234.6 505.2M234.6 505.2 235.7 514.1 239.2 520.9 242.3 526.7M242.3 526.7 244.9 529 249.5 531.6 255 533.6M255 533.6 257 534.2 261 534.2 264.2 539.9 266.6 546M266.6 546 271.3 545.4 275.4 546.8 281.1 546.8 286.9 544.8 291.5 543.3 298.1 539.9M266.6 546 264.4 550.2 265.3 556.6 271.9 565.2 271.3 571.5 268.5 573.2 268.5 577.8 266.2 576.1 262.7 571.5 264.2 566.9 263 562.3 258.7 563.2 256.4 560M256.4 560 254.7 557.7 255.3 551.4 257 546.2 257 541.6 258.7 540.5 256.7 535.3 255 533.6M256.4 560 246.6 563.4 239.2 564.6 240.4 569.4M242.3 526.7 232.3 527.8 230 532.4 230.3 539.9 228.8 547.4 232.3 550.8 236.9 549.4 236.9 556.8 232.3 556.6 228.8 551.4 221.9 547.4 215 547.9 211 543.9 205.8 543.3 205.3 545.1 203.5 542.2M203.5 542.2 193.2 543.9 193.8 539.9 190.9 534.2 191.5 527.3 190.9 521.5 183.4 521.5 183.4 519.2 177.7 519.5 174.8 525.5 166.7 526.1 161 519.8 162.7 513.5 161 513.2 140.3 513.2 136.9 514.3M203.5 542.2 203.5 554.3 192 554.3 192 572.6 200.1 580.7M133.1 578.7 140.3 577.2 147.2 579.5 171.3 579.5 186.3 582.7 200.1 580.7M200.1 580.7 204.7 580.1 210.8 581.8M210.8 581.8 206.4 583.3 201.2 585.6 199.5 583 186.3 584.7 186.3 605.9 180.5 605.9 180.5 621.7M180.5 621.7 180.5 642.7 174.8 645.6 169 645.3 165.6 644.4 160.1 643.8M180.5 621.7 184.6 633.8 190.3 633.8 196.1 628.3 197.8 624.9 205.3 627.5 212.7 626.9 214.4 621.7 219.9 618.9 220.8 615.4 228.2 609.4 234.3 607.1M234.3 607.1 226.5 603.6 224.8 597.3 216.2 592.2 210.8 581.8M210.8 581.8 214.2 582.7 220.8 582.7 231.7 571.5 240.4 569.4M240.4 569.4 240.3 571.5 245.5 571.5 254.7 575.5 255.3 579.5 253.5 585.8 255.5 591.6 254.1 595.6 252.4 601.9 245.5 608.2M234.3 607.1 245.5 608.2M245.5 608.2 249.5 620.3 248.9 628.1M250.1 633.5 254.7 633.8M243.8 627.5 248.9 628.1 250.1 633.5 243.8 636.4 242.6 632.9ZM220.8 649.9 226.5 644.1 231.7 644.7 234.8 648.4 233.1 651.9 227.7 655.6 223.1 653.6ZM262.4 299.8 266.2 310.2M266.6 309.9 269 301.6 269.9 293.5 270.5 291.8M267.3 289.5 270.2 288.6 271.6 288.4M270.5 291.8 271.6 288.4M272.3 280.6 274.8 280.9 275.9 283.2 272.5 286.6 271.6 288.4M270.5 291.8 277.1 294.1 288.6 288M272 273.3 274.8 271.7 276.2 268.3 278.8 269.1 284 268 289.7 268.8 295.5 268.3 300.1 266.5 309 266.5M309 266.5 302.4 270.6 303 275.1 301.2 282 288.6 288M288.6 288 290.9 295 278.2 298.7 284 304.4 281.1 307.3 276.8 308.2 272.5 311.9 266.5 311M290.9 295 297.8 296.1 307 301 322.5 311.9 332.8 312.5M332.8 312.5 336.3 307.3 339.7 306.7 341.5 307.4M332.8 312.5 338.3 313.1 339.7 315.6 343.8 315.6M309 266.5 312.7 265.1 318.5 265.4 323.1 266.2M323.1 266.2 326.5 272.9 331.1 274.6 326.5 278.6 329.4 284.3 326.5 284.9 330.5 289.5 338 293.5 340.6 297 339.7 301.6 341.5 301.9 341.5 304.7 344.6 307.6M323.1 266.2 320.8 259.6 318.5 253.3 323.1 251.6M323.1 251.6 332.8 256.2 340.3 251.6 343.8 253.3 341.5 256.8 346.6 258.8M323.1 251.6 327.1 247M375.4 265.1 380.5 264.2 384.6 260.8 394.3 259.9 401.2 263.4 406.4 264.2 412.7 269.1 417 269.1 417.3 275.1M417.3 275.1 416.2 280.9 413.3 286.1 413.9 290.1 415.3 295.8 415.6 298.7 420.2 299.3 420.8 302.4 415.4 308.1M415.4 308.1 420.8 315.4 426.5 317.4 426.5 323.1 429.4 323.7 428.8 326.8 421.1 329.1 419.6 334.9M415.4 308.1 424.8 310.8 434 310.8 446.1 308.2 447.2 302.1 455.2 299.3 457.5 297 463.9 296.4 465 290.1 469.6 288.4 467.3 284.3 474.2 282.3 477.4 276.3 474.8 272.9 482.3 268.3 489.7 267.7 496.1 265.7M417.3 275.1 423.6 276.9 428.2 273.7 436.3 271.1 438 266.5 447.8 265.1M447.8 265.1 455.2 266 456.4 267.1 463.9 266.5 469 263.7 469.6 260.8 475.4 259.6 477.1 268.8 486.9 264.5 496.1 265.7M447.8 265.1 448.4 261.4 442.6 259.6 434.6 255.6 424.2 249.9 421.3 244.1M455.2 266 458.7 260.2 457 255.6 452.9 252.8 459.8 252.2 462.1 248.7 470.8 248.2 470.2 244.1M489.2 253 478.2 253.9 470.8 252.2 463.9 252.8 465 249.3 470.8 248.2M496.1 265.7 496.1 258.5 489.7 257.9 489.2 253 490.3 249.9 495.5 247M370.8 384 364.4 370.5M364.4 370.5 381.7 364.7 385.5 353.3 382.8 349.2M364.4 370.5 347.8 372.8 342.6 375.4 332 380.5 326.5 380 319 379.7 315 378.8 313.3 384 311.6 385.4M382.8 349.2 367.9 347.8 362.1 341.2M382.8 349.2 386.3 341.8 387.4 337.2 389.4 336.3M387.7 330 388.3 332.3 389.4 332.6M357.5 337.5 359.8 338.3 362.1 338M457.5 343.5 461 340 467.9 340.6 473.6 339.5 471.3 332 468.5 326.8 465 324.5 470.2 318.8 478.8 319.1 484.6 313.1 487.4 307.6 493.8 301 494.3 296.4 498.6 294.1 494.6 292.4 490.9 288.9 489.7 282.6 493.2 279.7 502.4 280.3 508.1 278.6 512.7 275.7M496.1 265.7 501.8 268.8 507 274.9 512.7 275.7M512.7 275.7 519 282.6 519.6 288.9 518.2 293 519 299.8 522.5 301.6 531.3 306.2M531.3 306.2 537.4 305.6 545.5 311.9 549.5 313.6 554.7 315.4 559.8 318.8 566.7 319.7 572.2 319.7M531.3 306.2 525.9 313.1 525.9 314.2 532.3 317.1 540.9 320.5 544.3 322.5 548.9 321.7 555.2 326 559.8 326.8 567.3 328 571.9 327.7 572.2 319.7M572.2 319.7 575.9 318.8 576.5 322.8M576.5 322.8 580 318.2 585.1 318.2 592 319.9M576.5 322.8 576.5 325.1 581.7 326.3 588.6 325.7 594.9 325.4 592 319.9M592 319.9 597.8 319.9 604.7 314.8 613.9 312.5 618.5 310.8 625.1 317.4M625.1 317.4 629.7 321.1 632.8 330.3 626.5 337.2 626.5 342.3 634 346.4 637.4 348.1 635.7 352.4 641.4 356.4 646.9 355.8 646.9 358.1M646.9 358.1 650.4 358.1 650.6 350.7 652.7 351M652.7 351 657.5 350.4 663.3 350.1 667.9 348.1 671 345.5 678.2 348.1 678.8 353.3 683.4 355.3 686.3 356.1M625.1 317.4 618.2 322.8 612.1 326.8 609.3 334.9 606.7 342.6 601.8 341.8 602.4 347.5 597.8 353.4M597.8 353.4 596 358.7 596 360.7M577.7 355 577.1 351.5 575.6 346.4 574.8 340 571.9 337.7 573.6 334.9 571.9 330.9 574.2 328 578.8 330.3 581.7 329.4 582 334.3 596.6 335.5 594.9 339.5 589.7 341.2 589.7 344.6 591.2 347.5 593.2 345.2 596 346.9 597.8 353.4M646.9 358.1 640.9 362.7M640.9 362.7 634.6 365.9 628.8 366.5 627.7 373.4 625.9 376.8 631.7 383.1 632.3 387.7 630 392.3 635.1 399.8 635.7 407.2 638 412.4 633.1 420.2 632 422.3M640.9 362.7 643.5 367.6 647.5 367.3 646 376.2 647.2 379.1 652.4 375.1 655.8 376.8 662.7 374.5 667.3 379.1 667.9 386 672.5 390 671.9 396.3 670.2 397.5M670.2 397.5 663.3 397.2 657.5 398 654.7 401.5 653.8 403.2 656.4 408.4 657 412.7M652.7 351 657 355 657.5 359 663.3 359.6 666.7 362.4 665.6 366.5 663.3 368.2 670.2 372.8 677.7 382 682.3 387.7 684 392.3 683.7 395.2M670.2 397.5 674.8 399.5 677.7 396.3 683.7 395.2M683.7 395.2 682.8 402.1 684 408.4 677.1 411.3 674.2 413 675.9 416.4 669.6 416.7 665.9 419.8M640.9 442.6 645.2 443.4 646.6 447.2 650.6 446.3 652.4 443.7M695.8 467.8 699.5 473.9 700.9 474.7 708.1 473.9 712.1 471.3 718.5 472.4 724.2 471.3 725.9 466.4 729.4 462.4 730 455.5 735.1 454.6 741.4 455.7M720.8 453.5 724.2 456.6 727.1 454.9 728.5 451.5M875.9 494.5 875.9 515.8 875.1 518.7 875.9 519.8 875.9 532M784 529.3 784.8 533.9M790.3 262.8 793.7 261.7 796 259.6 801.2 259.6 803.2 257.9M780.2 250.2 784 247 789.7 244.1M1461.4 292.8 1475.2 291.7 1474.8 293 1496.2 299.7 1512.7 299.7 1512.7 297.1 1522.5 297.1 1531.1 303.6 1534 309.3 1541.7 313.2 1544.3 308.7 1551.8 308.6 1556.1 312.5 1558.1 317.1 1562.7 321.7 1565 328 1570.2 330 1576.2 330.6M1604.4 396 1604.9 393.2 1607.2 387.4 1614.7 387.3 1615 385.4 1609.2 380.5 1611.7 380.5 1611.7 377.3 1622.2 377.3 1623.9 376.8 1627.1 373.5M1622.2 377.3 1621.9 388.3 1623.6 388.3M1627.5 389.3 1622.2 395.5 1621 396.8M1621 396.8 1619 399.2 1616.7 400.6M1621 396.8 1625.9 400.1 1629.9 399.8 1629.9 402.6M1632.8 404.9 1636 400.6 1641.4 400.1 1646.6 394.6 1656.7 393.5M1642 416 1646.6 416.7 1653.8 416.8M1660 424.6 1658.1 427.3 1659.2 428.5 1658.1 433.5M1689.9 429.8 1690.9 433.9 1686.8 438.3M1724.6 411.5 1719 415.6 1715.6 419.6 1718.4 427.9 1717.9 433.7 1720.7 439.4 1731.7 439.4 1735.4 444.6 1746.6 444 1744.6 453.8 1747.7 460.1 1744.6 463.5 1748.3 466.4 1750.2 472.6M1750.2 472.6 1748.9 469.5 1733.1 469.8 1733.1 473.6 1736.8 473.9 1735.7 476.2 1731.9 476.4 1731.9 480.7 1735.7 485.9 1732.5 503.8M1732.5 503.8 1728.2 501.4 1731.9 495.1 1715.6 493.4 1709.2 485.3 1702.3 480.2M1702.3 480.2 1696 477.3 1689.7 477.3 1681.4 471.3M1702.3 480.2 1700 488.2 1694 494.5 1686.3 499.1 1684.2 505.4 1680.5 508.3 1674.2 504.3 1672.7 499.1M1732.5 503.8 1715.6 510 1713.8 514.3 1710.4 521.8 1715.6 533.6 1719.6 537 1728.8 534.2 1728.8 542.8 1734.7 542.5M1734.7 542.5 1740 551.4 1738 558 1738.6 562.3 1735.7 564.6 1736.8 567.5 1738 572.6 1734.5 579 1735.2 580.1M1735.2 580.1 1730 585M1735.2 580.1 1738.3 588.7 1740.9 595 1742.6 603.1 1744.6 610.8 1749.5 611.7M1749.5 611.7 1747.7 617.4 1740.9 622 1742 634.1 1736.3 639.3 1732.8 653 1729.9 660.5 1732.2 670.3 1733.4 676.6 1729.4 686.3 1725.6 695 1724.8 703 1721.9 711M1749.5 611.7 1754.1 604.8 1759.8 606.5 1765 610.8 1767 605.9 1774.5 607.4M1774.5 607.4 1776.8 597.6 1779.6 592.4 1794.9 590.7 1800.3 595.3M1800.3 595.3 1802.1 594.2 1804.1 584.1 1798.9 578.7 1798.9 573.2 1788.8 572.9 1786.8 558.9 1779.4 557.1 1772.5 552.2 1764.4 551.1 1759.2 545.6 1759 535.9 1751.8 536.5 1740.3 543.3 1734.7 542.5M1800.3 595.3 1801.8 606.5 1813.8 607.7 1816.1 617.4 1822.5 617.7 1820.7 626.6M1774.5 607.4 1784 616.3 1795.4 621.5 1803.5 625.5 1797.7 636.1 1810.4 637.5 1813.6 636.7 1820.7 626.6M1820.7 626.6 1825 626.9 1826.2 630.4 1825.3 635.5 1814.1 642.7 1803.5 653M1803.5 653 1800 666.2 1798.9 674.9M1803.5 653 1812.7 656.5 1820.7 660.2 1825.6 664 1828.8 667.4 1827.7 673.4M1750.2 472.6 1758.1 475.3 1766.7 468.4 1770.2 467 1765.6 458.9 1763.3 456.1 1773 458.9 1773.9 456.3 1784 453.8 1785.7 449.7M1785.7 449.7 1781.7 445.4 1783.1 441.1 1788 438.8 1786.3 434.8 1790.8 431.9 1789.7 430.5M1785.7 449.7 1789.7 450.9 1790 453.8 1792.3 456.9 1790.6 458.9 1790 464.7 1791.4 469 1796.6 472.7 1801.2 471 1809.8 468.4M1809.8 468.4 1805.2 460.4 1800.9 456.3 1802.1 451.5 1805.2 448.9 1806.1 445.4M1809.8 468.4 1813.3 468.1 1817.9 465 1821 466.2 1829.9 467 1832.2 465.2 1837.7 455.8M1821 466.2 1824.2 458.9 1821.6 452.6 1824.2 446.6M1722.2 366.5 1722.5 370.5 1720.7 372.8 1722.2 376.1"/>
<g id="DT"><circle cx="1114.8" cy="317.4" r="1.0"/><circle cx="1160.8" cy="383.4" r="1.0"/><circle cx="1230.4" cy="469.2" r="1.3"/><circle cx="1215.1" cy="481.7" r="1.0"/><circle cx="1119.0" cy="476.2" r="1.0"/><circle cx="1084.2" cy="514.6" r="1.0"/><circle cx="1092.5" cy="522.7" r="1.0"/><circle cx="1095.3" cy="528.5" r="1.0"/><circle cx="1146.8" cy="533.2" r="1.0"/><circle cx="1181.7" cy="543.0" r="1.0"/><circle cx="1121.8" cy="556.4" r="1.0"/><circle cx="1110.6" cy="561.9" r="1.0"/><circle cx="1153.0" cy="561.9" r="1.2"/><circle cx="1089.7" cy="588.9" r="1.0"/><circle cx="1134.3" cy="586.2" r="0.8"/><circle cx="1158.0" cy="589.8" r="1.2"/><circle cx="1197.0" cy="584.2" r="1.0"/><circle cx="1127.3" cy="602.0" r="1.2"/><circle cx="1226.2" cy="594.5" r="1.0"/><circle cx="1216.5" cy="602.0" r="1.0"/><circle cx="1227.6" cy="606.2" r="1.0"/><circle cx="1263.8" cy="577.0" r="1.0"/><circle cx="1329.3" cy="530.5" r="1.3"/><circle cx="1336.2" cy="535.2" r="1.0"/><circle cx="1387.7" cy="624.3" r="1.0"/><circle cx="1397.5" cy="620.1" r="1.0"/><circle cx="1506.1" cy="635.4" r="1.2"/><circle cx="1454.6" cy="312.7" r="1.3"/><circle cx="1522.8" cy="355.8" r="1.2"/><circle cx="1496.9" cy="371.7" r="1.0"/><circle cx="1611.9" cy="483.1" r="2.0"/><circle cx="1616.1" cy="481.7" r="1.4"/><circle cx="1609.1" cy="481.2" r="1.2"/><circle cx="902.5" cy="392.9" r="2.0"/><circle cx="896.9" cy="402.5" r="2.2"/><circle cx="1023.0" cy="368.7" r="1.3"/><circle cx="1036.5" cy="395.9" r="1.3"/><circle cx="998.2" cy="414.6" r="1.2"/><circle cx="1042.1" cy="420.2" r="1.2"/><circle cx="1016.4" cy="426.9" r="1.2"/><circle cx="1029.2" cy="430.1" r="1.2"/><circle cx="1035.3" cy="437.9" r="1.3"/><circle cx="1050.3" cy="439.1" r="1.2"/><circle cx="974.6" cy="440.5" r="1.9"/><circle cx="1031.4" cy="448.1" r="1.3"/><circle cx="1002.1" cy="449.8" r="1.3"/><circle cx="1059.0" cy="472.3" r="1.2"/><circle cx="1024.7" cy="483.2" r="1.2"/><circle cx="1119.2" cy="475.1" r="1.2"/><circle cx="925.0" cy="488.4" r="2.0"/><circle cx="909.3" cy="492.0" r="2.6"/><circle cx="1078.7" cy="516.2" r="1.2"/><circle cx="1084.3" cy="515.0" r="1.2"/><circle cx="1092.2" cy="522.9" r="1.2"/><circle cx="1095.6" cy="529.1" r="1.2"/><circle cx="838.5" cy="435.8" r="1.5"/><circle cx="686.7" cy="457.2" r="1.6"/><circle cx="799.5" cy="327.2" r="1.6"/><circle cx="807.9" cy="316.9" r="1.5"/><circle cx="777.2" cy="339.7" r="1.2"/><circle cx="784.2" cy="336.9" r="1.2"/><circle cx="908.1" cy="491.5" r="2.0"/><circle cx="924.8" cy="488.7" r="1.3"/><circle cx="1083.6" cy="513.7" r="1.2"/><circle cx="1078.0" cy="515.1" r="1.2"/><circle cx="901.2" cy="527.7" r="1.2"/><circle cx="1105.8" cy="544.4" r="1.2"/><circle cx="1030.7" cy="647.4" r="1.2"/><circle cx="791.2" cy="286.8" r="1.6"/><circle cx="806.5" cy="281.2" r="1.4"/><circle cx="816.2" cy="303.5" r="1.5"/><circle cx="672.8" cy="462.2" r="1.2"/><circle cx="711.8" cy="511.8" r="1.2"/><circle cx="729.9" cy="519.3" r="1.2"/><circle cx="685.3" cy="497.0" r="1.8"/><circle cx="679.8" cy="494.3" r="1.5"/><circle cx="675.6" cy="490.1" r="1.3"/><circle cx="948.5" cy="545.8" r="1.3"/><circle cx="945.7" cy="541.6" r="1.2"/><circle cx="986.1" cy="547.2" r="1.3"/><circle cx="1011.2" cy="570.8" r="1.2"/><circle cx="1023.7" cy="565.3" r="1.2"/><circle cx="1030.7" cy="577.8" r="1.3"/><circle cx="1033.4" cy="583.4" r="1.2"/><circle cx="1039.0" cy="590.3" r="1.3"/><circle cx="1016.7" cy="543.0" r="1.2"/><circle cx="619.9" cy="463.6" r="1.6"/><circle cx="625.4" cy="473.4" r="1.8"/><circle cx="633.8" cy="487.3" r="1.6"/><circle cx="640.8" cy="497.0" r="1.5"/><circle cx="653.3" cy="511.0" r="1.2"/><circle cx="602.3" cy="437.2" r="1.3"/><circle cx="597.6" cy="414.9" r="1.5"/><circle cx="599.0" cy="406.5" r="1.5"/><circle cx="1762.9" cy="293.7" r="1.4"/><circle cx="1971.8" cy="257.5" r="1.6"/><circle cx="1977.4" cy="257.0" r="1.3"/><circle cx="1988.5" cy="262.3" r="1.3"/><circle cx="1991.3" cy="265.9" r="1.2"/><circle cx="2037.2" cy="291.0" r="1.6"/><circle cx="2032.5" cy="316.0" r="1.3"/><circle cx="2035.8" cy="319.6" r="1.3"/><circle cx="2040.0" cy="318.0" r="1.4"/><circle cx="2045.6" cy="318.8" r="1.6"/><circle cx="2056.2" cy="314.1" r="1.8"/><circle cx="1683.5" cy="327.2" r="1.4"/><circle cx="1689.1" cy="325.8" r="1.3"/><circle cx="1686.3" cy="335.5" r="1.5"/><circle cx="1688.6" cy="339.1" r="1.4"/><circle cx="1696.1" cy="334.7" r="1.2"/><circle cx="1701.7" cy="339.7" r="1.2"/><circle cx="1704.4" cy="343.0" r="1.2"/><circle cx="1710.0" cy="349.4" r="1.3"/><circle cx="1714.2" cy="352.2" r="1.2"/><circle cx="1719.8" cy="355.8" r="1.2"/><circle cx="1724.5" cy="356.4" r="1.2"/><circle cx="1712.8" cy="358.6" r="1.2"/><circle cx="1751.8" cy="374.5" r="1.5"/><circle cx="1757.3" cy="375.3" r="1.3"/><circle cx="1764.3" cy="374.8" r="1.2"/><circle cx="1774.1" cy="378.1" r="1.2"/><circle cx="1778.2" cy="382.0" r="1.2"/><circle cx="1781.0" cy="387.0" r="1.4"/><circle cx="1782.4" cy="391.2" r="1.3"/><circle cx="1783.8" cy="396.8" r="1.4"/><circle cx="1785.2" cy="401.0" r="1.2"/><circle cx="1781.0" cy="409.3" r="1.2"/><circle cx="1792.2" cy="404.3" r="1.2"/><circle cx="1783.8" cy="417.7" r="1.3"/><circle cx="1767.1" cy="417.7" r="1.2"/><circle cx="1760.1" cy="419.1" r="1.2"/><circle cx="1665.4" cy="407.9" r="1.3"/><circle cx="1658.5" cy="355.8" r="1.5"/><circle cx="1669.1" cy="364.8" r="1.2"/><circle cx="1989.9" cy="381.5" r="1.4"/><circle cx="1995.5" cy="385.6" r="1.3"/><circle cx="2003.8" cy="387.0" r="1.4"/><circle cx="1999.6" cy="392.6" r="1.3"/><circle cx="1994.9" cy="394.6" r="1.3"/><circle cx="2102.7" cy="571.4" r="1.2"/><circle cx="1609.7" cy="481.7" r="1.8"/><circle cx="1613.9" cy="483.9" r="1.4"/><circle cx="1620.1" cy="484.5" r="1.2"/><circle cx="383.1" cy="506.8" r="1.4"/><circle cx="480.5" cy="522.1" r="1.2"/><circle cx="312.0" cy="545.8" r="1.6"/><circle cx="317.6" cy="550.0" r="1.3"/><circle cx="323.2" cy="552.7" r="1.4"/><circle cx="331.5" cy="534.6" r="1.0"/><circle cx="384.4" cy="600.9" r="2.2"/><circle cx="395.6" cy="596.5" r="1.7"/><circle cx="429.0" cy="592.6" r="1.0"/><circle cx="373.3" cy="407.4" r="2.4"/><circle cx="365.0" cy="408.8" r="1.0"/><circle cx="481.9" cy="414.9" r="1.0"/><circle cx="483.3" cy="439.9" r="1.1"/><circle cx="484.7" cy="452.5" r="1.1"/><circle cx="485.5" cy="460.8" r="1.2"/><circle cx="486.1" cy="467.8" r="1.2"/><circle cx="485.3" cy="476.2" r="1.2"/><circle cx="484.7" cy="483.1" r="1.2"/><circle cx="103.2" cy="477.0" r="1.4"/><circle cx="107.3" cy="470.6" r="1.0"/><circle cx="206.2" cy="297.4" r="1.4"/><circle cx="114.3" cy="459.4" r="1.5"/><circle cx="292.5" cy="508.2" r="1.5"/><circle cx="289.8" cy="514.6" r="1.6"/><circle cx="293.4" cy="524.3" r="1.3"/><circle cx="359.4" cy="332.7" r="1.3"/><circle cx="466.6" cy="348.6" r="1.3"/><circle cx="305.1" cy="382.9" r="1.2"/><circle cx="295.3" cy="389.8" r="1.2"/></g>
<path id="K" d=""/>
<clipPath id="lc"><use href="#L"/></clipPath>
<mask id="om" maskUnits="userSpaceOnUse" x="0" y="0" width="2200" height="1300"><rect x="0" y="0" width="2200" height="1300" fill="#fff"/><use href="#L" fill="#000"/></mask>
</defs>
<g id="doc">
<circle cx="112.1" cy="101.8" r="73.2" fill="#0f9ad8"/>
<circle cx="112.1" cy="101.8" r="72.8" fill="none" stroke="#0b3d5c" stroke-width="0.7"/>
<circle cx="112.1" cy="101.8" r="56.8" fill="#fff" stroke="#0b3d5c" stroke-width="0.7"/>
<path id="dt" d="M51.2 101.8A60.9 60.9 0 1 1 173.0 101.8" fill="none"/>
<path id="db" d="M42.9 101.8A69.2 69.2 0 1 0 181.3 101.8" fill="none"/>
<text style="font-size:11.5px;font-weight:700;fill:#fff;letter-spacing:-0.28px" text-anchor="middle"><textPath href="#dt" startOffset="50%">DEPARTMENT OF COMMERCE</textPath></text>
<text style="font-size:11.5px;font-weight:700;fill:#fff;letter-spacing:0.5px" text-anchor="middle"><textPath href="#db" startOffset="50%">UNITED STATES OF AMERICA</textPath></text>
<polygon points="47.4,98.9 48.2,101.2 50.6,101.2 48.7,102.7 49.4,105.1 47.4,103.7 45.4,105.1 46.1,102.7 44.2,101.2 46.6,101.2" fill="#fff"/>
<polygon points="178.0,99.6 178.8,101.9 181.2,101.9 179.3,103.4 180.0,105.8 178.0,104.4 176.0,105.8 176.7,103.4 174.8,101.9 177.2,101.9" fill="#fff"/>
<path d="M80.7 91.3 L144.4 91.3 L141.6 95.3 L141.6 137.4 L133.7 144.5 L112.4 155.5 L91.1 144.5 L84.6 137.4 L84.6 95.3Z" fill="#e3b60c" stroke="#1a1a1a" stroke-width="1.2" stroke-linejoin="round"/>
<path d="M81.6 92.0 L143.5 92.0 L140.9 95.5 L140.9 120.8 L85.3 120.8 L85.3 95.5Z" fill="#0f9ad8"/>
<path d="M85.3 114.9 L140.9 114.9 L140.9 120.8 L85.3 120.8Z" fill="#16689a"/>
<path d="M85.3 120.8 L140.9 120.8" stroke="#1a1a1a" stroke-width="0.9" fill="none"/>
<path d="M112.4 126.7L86.4 123.7M112.4 126.7L86.4 129.7M112.4 126.7L88.1 137.4M112.4 126.7L95.8 142.7M112.4 126.7L139.7 123.7M112.4 126.7L139.7 129.7M112.4 126.7L137.9 137.4M112.4 126.7L129.6 142.7" stroke="#f6de7a" stroke-width="1.6" fill="none"/>
<circle cx="112.4" cy="126.7" r="4.2" fill="#fbeeb0"/>
<path d="M110.3 123.2 L114.8 123.2 L115.5 147.4 L109.3 147.4Z" fill="#8f8f8f" stroke="#333" stroke-width="0.6"/>
<path d="M109.3 147.4 L115.5 147.4 L123.1 150.4 L112.4 154.8 L101.8 150.4Z" fill="#9a9a9a" stroke="#333" stroke-width="0.6"/>
<path d="M88.1 108.9 L98.2 113.3 L128.4 114.3 L132.0 110.7 L130.2 116.0 L102.9 116.6 L95.8 114.9Z" fill="#222"/>
<path d="M89.9 108.6 L102.9 100.0 L105.3 98.9 L102.9 111.9 L98.2 112.5Z" fill="#fff" stroke="#333" stroke-width="0.5"/>
<path d="M102.9 112.5 L104.4 100.0 L108.3 98.3 L111.2 98.9 L110.6 113.1Z" fill="#fff" stroke="#333" stroke-width="0.5"/>
<path d="M111.8 113.1 L112.2 98.3 L118.9 98.6 L119.3 113.3Z" fill="#fff" stroke="#333" stroke-width="0.5"/>
<path d="M120.5 113.3 L120.9 100.6 L127.2 101.0 L129.6 112.5Z" fill="#fff" stroke="#333" stroke-width="0.5"/>
<path d="M103.5 103.6L129.0 104.3M103.5 108.1L129.0 108.8" stroke="#444" stroke-width="0.7" fill="none"/>
<path d="M108.3 94.7L108.3 100.0M115.7 94.7L115.7 100.0M124.9 94.7L124.9 100.0" stroke="#333" stroke-width="0.7" fill="none"/>
<path d="M111.2 76.4C111.1 75.1 108.3 73.0 107.1 71.6C105.8 70.2 103.1 67.3 101.8 65.7C100.4 64.1 98.2 61.2 97.0 59.8C95.9 58.3 93.4 54.2 93.2 54.8C93.1 55.3 95.0 61.7 95.8 63.9C96.6 66.2 98.2 69.8 99.1 71.6C100.1 73.4 101.7 76.3 102.9 77.5C104.2 78.8 107.2 81.2 108.3 81.1C109.4 80.9 111.4 77.6 111.2 76.4Z" fill="#c59d1c" stroke="#7a5f0d" stroke-width="0.5"/>
<path d="M114.8 76.4C114.9 75.1 117.7 73.0 118.9 71.6C120.2 70.2 122.9 67.1 124.3 65.7C125.6 64.3 127.9 62.3 129.0 60.9C130.1 59.6 132.6 55.2 132.8 55.6C133.0 56.0 131.5 61.8 130.8 63.9C130.0 66.0 128.3 69.8 127.2 71.6C126.2 73.4 124.3 76.3 123.1 77.5C121.8 78.8 118.9 81.2 117.7 81.1C116.6 80.9 114.6 77.6 114.8 76.4Z" fill="#c59d1c" stroke="#7a5f0d" stroke-width="0.5"/>
<path d="M110.0 65.7C110.8 65.0 113.8 64.3 114.8 64.7C115.8 65.2 117.2 67.7 117.4 69.2C117.6 70.8 116.3 74.3 116.6 76.4C116.8 78.4 120.7 83.5 119.5 84.6C118.3 85.8 109.0 85.8 107.7 84.6C106.4 83.5 109.6 78.3 109.8 76.4C110.0 74.4 109.1 71.3 109.1 69.8C109.1 68.4 109.3 66.4 110.0 65.7Z" fill="#d1a514" stroke="#7a5f0d" stroke-width="0.5"/>
<ellipse cx="113.6" cy="68.1" rx="3.6" ry="3.2" fill="#f4f0e0" stroke="#7a5f0d" stroke-width="0.4"/>
<ellipse cx="113.0" cy="86.8" rx="12.6" ry="1.9" fill="#555"/>
</g>
<g id="noaa">
<clipPath id="nc"><circle cx="2090.5" cy="103.0" r="74.6"/></clipPath>
<circle cx="2090.5" cy="103.0" r="74.6" fill="#1998d6"/>
<g clip-path="url(#nc)">
<path d="M2013.2 82.3C2013.9 82.7 2015.3 83.1 2017.7 84.6C2020.0 86.2 2024.2 88.8 2027.4 91.8C2030.6 94.7 2033.3 99.1 2036.9 102.4C2040.4 105.8 2044.4 109.1 2048.7 111.9C2053.1 114.7 2058.2 117.2 2062.9 119.0C2067.7 120.8 2072.7 121.7 2077.2 122.6C2081.6 123.4 2087.5 123.7 2089.6 124.0C2088.1 124.8 2084.6 127.4 2080.7 129.1C2076.9 130.7 2067.9 132.5 2066.5 133.8C2065.1 135.1 2070.0 136.3 2072.4 136.8C2074.8 137.2 2077.4 137.5 2080.7 136.5C2084.1 135.6 2089.0 132.7 2092.6 130.9C2096.1 129.0 2099.1 126.9 2102.0 125.5C2105.0 124.1 2107.8 123.1 2110.3 122.3C2112.9 121.5 2115.0 121.1 2117.4 120.8C2119.8 120.4 2124.0 120.6 2124.8 120.2C2125.6 119.7 2123.8 118.6 2122.2 118.1C2120.6 117.6 2117.4 117.3 2115.1 117.2C2112.7 117.2 2109.1 117.7 2108.0 117.8C2109.3 117.0 2112.9 115.5 2116.3 113.1C2119.6 110.7 2124.2 107.4 2128.1 103.6C2132.1 99.8 2136.4 94.7 2140.0 90.6C2143.5 86.4 2146.6 82.1 2149.4 78.7C2152.3 75.4 2155.0 72.6 2157.1 70.4C2159.3 68.3 2161.6 66.5 2162.5 65.7L2180 0L2000 0Z" fill="#fff"/>
<path d="M2025.0 57.4C2025.7 58.1 2026.8 59.5 2029.2 61.5C2031.5 63.6 2035.6 66.4 2039.2 69.8C2042.9 73.3 2047.1 77.7 2051.1 82.3C2055.0 86.8 2059.0 92.7 2062.9 97.1C2066.9 101.4 2071.0 105.4 2074.8 108.3C2078.5 111.3 2082.1 113.4 2085.5 114.9C2088.8 116.3 2091.8 117.3 2094.9 117.2C2098.1 117.1 2101.5 116.0 2104.4 114.3C2107.3 112.5 2109.6 110.0 2112.1 106.6C2114.6 103.1 2116.9 98.0 2119.2 93.5C2121.5 89.1 2123.5 84.3 2125.7 79.9C2128.0 75.5 2130.5 70.2 2132.8 66.9C2135.2 63.5 2137.2 61.4 2140.0 59.8C2142.7 58.1 2146.9 57.5 2149.4 56.8C2152.0 56.1 2154.4 55.8 2155.4 55.6L2180 0L2000 0Z" fill="#18488f"/>
</g>
<text x="2089" y="78.6" text-anchor="middle" textLength="62" lengthAdjust="spacingAndGlyphs" style="font-size:25.6px;font-weight:700;fill:#fff">NOAA</text>
</g>
<text x="524" y="95.1" style="font-size:83.2px">Global Tropics Hazards Outlook</text>
<text class="m" x="1100.5" y="155.2" style="font-size:44.4px">Climate Prediction Center</text>
<text class="b" x="543.5" y="229.6" style="font-size:54.9px">Week 2 - Valid: Nov 19, 2025 - Nov 25, 2025</text>
<text class="b" x="545" y="789.6" style="font-size:54.9px">Week 3 - Valid: Nov 26, 2025 - Dec 02, 2025</text>
<rect x="65.6" y="249.9" width="2068.9" height="459.4" fill="#73dfff"/>
<g transform="translate(0,0)" clip-path="url(#mc)">
<use href="#L" fill="#fff"/>
<use href="#K" fill="#73dfff"/>
<g>
<path d="M254.0 433.6C257.0 432.0 260.4 430.7 263.0 430.3C265.7 429.8 267.2 429.9 269.8 430.8C272.4 431.8 275.8 434.4 278.8 435.9C281.8 437.4 285.0 439.3 287.8 439.8C290.6 440.4 293.4 439.8 295.7 439.3C297.9 438.7 299.2 437.1 301.3 436.5C303.4 435.8 305.8 435.0 308.1 435.3C310.3 435.6 312.8 436.7 314.8 438.1C316.9 439.5 318.9 442.0 320.5 443.8C322.0 445.6 322.1 448.1 323.8 448.8C325.5 449.6 328.1 448.8 330.6 448.3C333.0 447.7 335.8 445.5 338.5 445.5C341.1 445.5 343.2 447.3 346.3 448.3C349.5 449.2 353.5 450.4 357.6 451.1C361.7 451.7 366.4 452.1 371.1 452.2C375.8 452.3 380.9 451.4 385.7 451.7C390.6 451.9 395.7 453.0 400.4 453.9C405.1 454.8 408.8 456.0 413.9 457.3C418.9 458.6 425.7 459.6 430.8 461.8C435.8 464.0 439.3 465.9 444.3 470.6C449.4 475.3 453.6 485.0 461.0 490.1C468.5 495.2 476.8 498.9 488.9 501.2C500.9 503.5 519.1 503.8 533.4 504.0C547.8 504.2 570.8 502.8 575.2 502.6C579.6 502.4 553.3 502.4 560.0 502.6C566.7 502.8 600.4 502.4 615.7 504.0C631.0 505.6 642.6 508.6 651.9 512.4C661.2 516.1 668.6 522.1 671.4 526.3C674.2 530.5 673.3 534.4 668.6 537.4C664.0 540.4 654.7 542.1 643.5 544.4C632.4 546.7 612.9 548.3 601.8 551.3C590.6 554.4 581.4 557.8 576.7 562.5C572.1 567.1 571.1 573.6 573.9 579.2C576.7 584.8 588.8 591.3 593.4 595.9C598.1 600.5 600.8 603.3 601.8 607.0C602.7 610.8 601.3 615.2 599.0 618.2C596.7 621.2 594.3 623.8 587.8 625.1C581.4 626.5 562.1 626.3 560.0 626.5C557.9 626.8 576.9 626.8 575.2 626.5C573.6 626.3 561.8 627.0 550.1 625.1C538.5 623.3 517.7 618.9 505.6 615.4C493.5 611.9 487.0 608.9 477.7 604.3C468.5 599.6 458.7 591.6 449.9 587.5C441.1 583.5 433.0 583.5 425.1 580.0C417.3 576.5 410.1 571.0 402.6 566.5C395.1 562.0 387.6 557.3 380.1 553.0C372.6 548.6 365.1 544.4 357.6 540.6C350.1 536.7 342.6 533.4 335.1 529.9C327.6 526.4 319.5 522.9 312.6 519.8C305.6 516.7 297.6 514.0 293.4 511.3C289.3 508.6 289.9 505.5 287.8 503.4C285.7 501.4 283.5 500.1 281.1 498.9C278.6 497.8 276.2 497.2 273.2 496.7C270.2 496.1 266.2 495.4 263.0 495.6C259.8 495.7 257.0 497.1 254.0 497.8C251.0 498.6 247.7 499.5 245.0 500.1C242.4 500.6 240.3 501.4 238.3 501.2C236.2 501.0 234.3 500.1 232.6 498.9C231.0 497.8 229.2 496.3 228.1 494.4C227.1 492.6 226.5 490.1 226.5 487.7C226.5 485.2 227.1 482.2 228.1 479.8C229.2 477.4 231.3 475.7 232.6 473.0C234.0 470.4 235.5 467.0 236.0 464.0C236.6 461.0 235.6 457.8 236.0 455.0C236.4 452.2 236.8 449.6 238.3 447.1C239.8 444.7 242.4 442.6 245.0 440.4C247.7 438.1 251.0 435.3 254.0 433.6Z" fill="#e0bdb3" stroke="#000" stroke-width="0.9"/>
<path d="M738.2 247.8C706.2 250.1 723.4 257.5 716.0 261.7C708.5 265.9 701.1 268.7 693.7 272.8C686.3 277.0 678.4 282.1 671.4 286.8C664.4 291.4 658.4 296.3 651.9 300.7C645.4 305.1 637.7 308.6 632.4 313.2C627.1 317.9 622.7 322.7 619.9 328.5C617.1 334.4 616.4 342.5 615.7 348.0C615.0 353.6 613.8 359.2 615.7 362.0C617.6 364.8 622.2 364.8 626.8 364.8C631.5 364.8 638.9 363.4 643.5 362.0C648.2 360.6 650.0 358.5 654.7 356.4C659.3 354.3 666.3 351.8 671.4 349.4C676.5 347.1 679.8 345.0 685.3 342.5C690.9 339.9 697.9 336.7 704.8 334.1C711.8 331.6 719.2 329.0 727.1 327.2C735.0 325.3 742.9 324.0 752.2 323.0C761.4 321.9 773.0 321.2 782.8 320.8C792.5 320.3 801.4 320.2 810.6 320.2C819.9 320.2 829.2 320.7 838.5 320.8C847.8 320.8 857.1 320.8 866.3 320.8C875.6 320.7 884.9 320.7 894.2 320.2C903.5 319.7 912.8 319.1 922.0 318.0C931.3 316.8 942.5 315.4 949.9 313.2C957.3 311.0 962.0 308.1 966.6 304.9C971.2 301.6 975.0 297.7 977.7 293.7C980.5 289.8 983.3 285.4 983.3 281.2C983.3 277.0 981.5 272.2 977.7 268.7C974.0 265.2 968.0 262.6 961.0 260.3C954.1 258.0 944.8 256.8 936.0 254.7C927.1 252.7 941.1 248.9 908.1 247.8C875.2 246.6 770.3 245.5 738.2 247.8Z" fill="#e0bdb3" stroke="#000" stroke-width="0.9"/>
<path d="M1218.4 444.1C1218.9 440.2 1220.0 438.3 1224.8 434.4C1229.6 430.4 1238.7 424.6 1247.1 420.5C1255.5 416.3 1265.7 413.3 1274.9 409.3C1284.2 405.4 1293.5 400.7 1302.8 396.8C1312.1 392.8 1321.4 388.2 1330.6 385.6C1339.9 383.1 1349.2 382.5 1358.5 381.5C1367.8 380.4 1377.1 379.9 1386.3 379.5C1395.6 379.1 1404.9 379.0 1414.2 379.0C1423.5 378.9 1432.8 378.9 1442.0 379.2C1451.3 379.6 1460.6 379.9 1469.9 380.9C1479.2 381.9 1491.5 383.1 1497.7 385.1C1504.0 387.0 1505.5 389.5 1507.5 392.6C1509.4 395.7 1509.7 400.0 1509.4 403.7C1509.2 407.5 1509.0 411.4 1506.1 414.9C1503.2 418.4 1498.2 421.8 1492.2 424.6C1486.1 427.4 1478.2 429.5 1469.9 431.6C1461.5 433.7 1451.3 435.8 1442.0 437.2C1432.8 438.6 1423.5 439.2 1414.2 439.9C1404.9 440.6 1395.6 440.9 1386.3 441.3C1377.1 441.8 1367.8 442.1 1358.5 442.7C1349.2 443.3 1339.9 443.6 1330.6 445.0C1321.4 446.4 1312.1 448.7 1302.8 451.1C1293.5 453.5 1282.4 457.5 1274.9 459.4C1267.5 461.4 1264.7 462.3 1258.2 462.8C1251.7 463.2 1242.0 463.0 1236.0 462.2C1229.9 461.4 1225.0 461.1 1222.0 458.0C1219.1 455.0 1217.9 448.1 1218.4 444.1Z" fill="#e0bdb3" stroke="#000" stroke-width="0.9"/>
<path d="M1209.5 526.3C1209.5 522.6 1210.7 517.7 1215.1 515.1C1219.5 512.6 1228.3 511.6 1236.0 511.0C1243.6 510.4 1252.2 511.0 1261.0 511.5C1269.8 512.1 1279.6 513.4 1288.9 514.3C1298.2 515.2 1307.4 516.1 1316.7 517.1C1326.0 518.1 1335.3 519.2 1344.6 520.2C1353.9 521.1 1363.6 522.2 1372.4 522.9C1381.2 523.6 1389.6 523.1 1397.5 524.3C1405.4 525.6 1412.3 528.0 1419.8 530.5C1427.2 532.9 1435.1 535.1 1442.0 538.8C1449.0 542.5 1456.4 547.9 1461.5 552.7C1466.6 557.6 1468.0 563.4 1472.7 568.1C1477.3 572.7 1483.8 576.4 1489.4 580.6C1495.0 584.8 1501.7 589.2 1506.1 593.1C1510.5 597.1 1514.3 600.1 1515.8 604.3C1517.4 608.4 1516.9 615.0 1515.3 618.2C1513.7 621.3 1510.4 623.0 1506.1 623.2C1501.8 623.4 1495.4 621.6 1489.4 619.6C1483.4 617.6 1477.8 614.7 1469.9 611.2C1462.0 607.7 1451.3 602.6 1442.0 598.7C1432.8 594.7 1423.5 591.3 1414.2 587.5C1404.9 583.8 1395.6 580.6 1386.3 576.4C1377.1 572.2 1366.4 566.2 1358.5 562.5C1350.6 558.8 1345.5 556.2 1339.0 554.1C1332.5 552.0 1327.4 551.0 1319.5 550.0C1311.6 548.9 1301.4 548.5 1291.7 548.0C1281.9 547.5 1271.2 547.3 1261.0 547.2C1250.8 547.0 1238.0 548.8 1230.4 547.2C1222.7 545.5 1218.6 540.9 1215.1 537.4C1211.6 533.9 1209.5 530.0 1209.5 526.3Z" fill="#e0bdb3" stroke="#000" stroke-width="0.9"/>
<path d="M1772.7 256.1C1778.2 255.7 1784.7 256.1 1789.4 257.5C1794.0 258.9 1798.2 261.5 1800.5 264.5C1802.8 267.5 1804.2 270.1 1803.3 275.6C1802.4 281.2 1798.2 291.0 1794.9 297.9C1791.7 304.9 1787.1 310.9 1783.8 317.4C1780.6 323.9 1777.1 330.4 1775.5 336.9C1773.8 343.4 1773.6 349.9 1774.1 356.4C1774.5 362.9 1776.1 369.4 1778.2 375.9C1780.3 382.4 1783.8 389.4 1786.6 395.4C1789.4 401.4 1792.2 406.5 1794.9 412.1C1797.7 417.7 1801.4 423.7 1803.3 428.8C1805.2 433.9 1806.5 438.8 1806.1 442.7C1805.6 446.7 1802.8 450.6 1800.5 452.5C1798.2 454.3 1794.9 454.3 1792.2 453.9C1789.4 453.4 1787.1 452.0 1783.8 449.7C1780.6 447.4 1777.3 443.4 1772.7 439.9C1768.0 436.5 1761.5 432.5 1756.0 428.8C1750.4 425.1 1744.1 420.9 1739.2 417.7C1734.4 414.4 1730.4 413.0 1726.7 409.3C1723.0 405.6 1720.2 401.0 1717.0 395.4C1713.7 389.8 1709.8 382.4 1707.2 375.9C1704.7 369.4 1702.8 362.9 1701.7 356.4C1700.5 349.9 1700.0 342.9 1700.3 336.9C1700.5 330.9 1701.2 326.2 1703.0 320.2C1704.9 314.2 1708.1 306.7 1711.4 300.7C1714.6 294.7 1717.9 289.1 1722.5 284.0C1727.2 278.9 1733.7 274.0 1739.2 270.1C1744.8 266.1 1750.4 262.6 1756.0 260.3C1761.5 258.0 1767.1 256.6 1772.7 256.1Z" fill="#e0bdb3" stroke="#000" stroke-width="0.9"/>
<path d="M1794.9 662.7C1795.6 657.2 1797.3 654.9 1800.5 651.6C1803.8 648.4 1808.4 645.1 1814.4 643.2C1820.5 641.4 1828.4 640.7 1836.7 640.5C1845.1 640.2 1855.3 640.9 1864.6 641.9C1873.9 642.8 1884.5 643.9 1892.4 646.0C1900.3 648.1 1906.1 651.1 1911.9 654.4C1917.7 657.6 1923.5 661.3 1927.2 665.5C1930.9 669.7 1933.3 675.3 1934.2 679.5C1935.1 683.6 1934.7 687.3 1932.8 690.6C1930.9 693.8 1927.5 696.4 1923.1 698.9C1918.6 701.5 1913.8 704.3 1906.3 705.9C1898.9 707.5 1887.8 708.2 1878.5 708.7C1869.2 709.2 1859.9 708.9 1850.6 708.7C1841.4 708.5 1830.2 708.5 1822.8 707.3C1815.4 706.1 1810.5 705.4 1806.1 701.7C1801.7 698.0 1798.2 691.5 1796.3 685.0C1794.5 678.5 1794.2 668.3 1794.9 662.7Z" fill="#e0bdb3" stroke="#000" stroke-width="0.9"/>
<path d="M254.0 434.2C255.2 432.3 256.3 432.5 258.5 432.5C260.8 432.5 264.2 433.1 267.5 434.2C270.9 435.3 275.2 438.0 278.8 439.3C282.4 440.6 285.9 441.8 288.9 442.1C291.9 442.4 294.4 441.8 296.8 441.0C299.2 440.1 301.3 437.6 303.6 437.0C305.8 436.5 308.1 436.6 310.3 437.6C312.6 438.5 315.2 440.7 317.1 442.6C318.9 444.6 320.5 447.0 321.6 449.4C322.6 451.8 323.2 454.8 323.3 457.3C323.4 459.7 321.5 463.2 322.1 464.0C322.8 464.9 324.1 462.2 327.2 462.3C330.3 462.5 335.6 463.8 340.7 465.2C345.8 466.6 352.0 468.7 357.6 470.8C363.2 472.9 368.9 475.1 374.5 477.5C380.1 480.0 385.7 482.6 391.4 485.4C397.0 488.2 402.6 491.4 408.3 494.4C413.9 497.4 418.2 500.4 425.1 503.4C432.1 506.4 441.1 509.2 449.9 512.4C458.7 515.5 466.1 520.5 477.7 522.1C489.3 523.7 505.6 522.3 519.5 522.1C533.4 521.9 554.5 520.9 561.3 520.7C568.0 520.5 554.6 520.7 560.0 520.7C565.4 520.7 586.5 519.8 593.4 520.7C600.4 521.6 600.8 523.0 601.8 526.3C602.7 529.5 601.3 536.7 599.0 540.2C596.7 543.7 594.3 545.1 587.8 547.2C581.4 549.3 559.8 552.0 560.0 552.7C560.2 553.4 588.9 549.3 589.1 551.3C589.4 553.4 570.6 560.6 561.3 565.3C552.0 569.9 542.7 575.9 533.4 579.2C524.2 582.4 514.9 584.1 505.6 584.8C496.3 585.5 487.0 585.7 477.7 583.4C468.5 581.0 460.5 575.7 449.9 570.8C439.2 566.0 423.6 558.4 413.9 554.1C404.1 549.8 398.9 548.5 391.4 545.1C383.9 541.7 376.4 537.4 368.9 533.8C361.4 530.3 353.8 526.6 346.3 523.7C338.8 520.8 330.4 518.5 323.8 516.4C317.3 514.2 311.8 512.3 306.9 510.8C302.1 509.2 297.4 508.6 294.6 507.4C291.7 506.2 291.6 504.7 290.1 503.4C288.6 502.1 287.4 500.9 285.6 499.5C283.7 498.1 281.1 496.4 278.8 495.0C276.5 493.6 274.1 492.3 272.0 491.1C270.0 489.8 268.3 488.8 266.4 487.7C264.5 486.5 261.9 485.8 260.8 484.3C259.7 482.8 261.4 480.2 259.7 478.7C258.0 477.2 252.7 476.6 250.7 475.3C248.6 474.0 248.6 472.9 247.3 470.8C246.0 468.7 243.9 465.2 242.8 462.9C241.7 460.7 241.1 459.0 240.5 457.3C240.0 455.6 238.3 454.1 239.4 452.8C240.5 451.5 245.2 450.9 247.3 449.4C249.3 447.9 250.7 446.3 251.8 443.8C252.9 441.2 252.9 436.1 254.0 434.2Z" fill="#a0776c" stroke="#000" stroke-width="0.9"/>
<path d="M247.3 488.8C248.4 488.0 250.3 487.7 252.9 487.7C255.5 487.7 260.6 488.0 263.0 488.8C265.5 489.5 267.5 491.1 267.5 492.2C267.5 493.2 265.3 494.2 263.0 495.0C260.8 495.7 256.7 496.5 254.0 496.7C251.4 496.9 248.6 496.9 247.3 496.1C246.0 495.4 246.2 493.4 246.2 492.2C246.2 491.0 246.2 489.5 247.3 488.8Z" fill="#a0776c" stroke="#000" stroke-width="0.9"/>
<path d="M292.3 468.5C293.3 467.2 296.2 466.5 297.9 466.3C299.6 466.1 301.7 466.5 302.4 467.4C303.2 468.3 301.5 470.9 302.4 471.9C303.4 472.9 306.0 472.9 308.1 473.6C310.1 474.4 312.8 474.8 314.8 476.4C316.9 478.0 320.1 481.1 320.5 483.2C320.8 485.2 319.1 487.1 317.1 488.8C315.0 490.5 310.9 492.4 308.1 493.3C305.3 494.2 302.3 494.8 300.2 494.4C298.1 494.1 296.8 493.1 295.7 491.1C294.6 489.0 294.1 484.9 293.4 482.0C292.8 479.2 291.9 476.4 291.7 474.2C291.6 471.9 291.3 469.8 292.3 468.5Z" fill="#673a31" stroke="#000" stroke-width="0.9"/>
<path d="M524.2 423.3C524.2 419.9 522.5 416.5 522.5 413.2C522.5 409.8 523.5 406.4 524.2 403.0C524.9 399.7 524.9 396.5 526.5 392.9C528.0 389.3 530.7 384.6 533.8 381.7C536.9 378.7 540.9 377.0 545.0 375.5C549.2 374.0 553.8 373.0 558.5 372.6C563.2 372.3 568.3 372.8 573.2 373.2C578.0 373.6 583.9 374.1 587.8 374.9C591.7 375.7 594.0 376.6 596.8 378.3C599.6 380.0 602.1 383.0 604.7 385.0C607.3 387.1 609.9 389.0 612.6 390.7C615.2 392.3 617.4 394.1 620.5 395.2C623.5 396.2 627.2 396.1 630.6 396.8C634.0 397.6 637.1 399.6 640.7 399.7C644.3 399.8 648.2 398.3 652.0 397.4C655.7 396.5 660.0 395.3 663.2 394.0C666.4 392.7 668.3 391.0 671.1 389.5C673.9 388.0 676.7 386.9 680.1 385.0C683.5 383.2 687.6 380.3 691.4 378.3C695.1 376.2 698.9 374.5 702.6 372.6C706.4 370.8 710.1 368.5 713.9 367.0C717.6 365.5 718.3 366.1 725.1 363.6C732.0 361.2 745.3 355.1 754.9 352.2C764.6 349.4 773.5 348.0 782.8 346.7C792.1 345.3 801.4 344.1 810.6 343.9C819.9 343.6 829.2 344.3 838.5 345.3C847.8 346.2 857.1 347.8 866.3 349.4C875.6 351.1 886.3 352.0 894.2 355.0C902.1 358.0 907.2 362.7 913.7 367.5C920.2 372.4 927.1 378.2 933.2 384.2C939.2 390.3 944.8 396.8 949.9 403.7C955.0 410.7 959.6 418.6 963.8 426.0C968.0 433.4 971.7 441.3 975.0 448.3C978.2 455.3 980.8 461.3 983.3 467.8C985.9 474.3 988.4 480.8 990.3 487.3C992.1 493.8 991.9 499.8 994.5 506.8C997.0 513.7 1001.4 521.6 1005.6 529.1C1009.8 536.5 1013.9 543.9 1019.5 551.3C1025.1 558.8 1032.0 567.6 1039.0 573.6C1046.0 579.7 1054.3 584.3 1061.3 587.5C1068.3 590.8 1073.0 591.5 1080.8 593.1C1088.5 594.7 1098.7 596.6 1107.8 597.3C1117.0 598.0 1126.4 598.0 1135.7 597.3C1145.0 596.6 1154.3 594.5 1163.5 593.1C1172.8 591.7 1183.5 589.2 1191.4 588.9C1199.3 588.7 1206.3 589.2 1210.9 591.7C1215.5 594.3 1218.3 599.4 1219.2 604.3C1220.2 609.1 1218.8 615.4 1216.5 621.0C1214.1 626.5 1208.6 633.0 1205.3 637.7C1202.1 642.3 1201.6 645.6 1197.0 648.8C1192.3 652.1 1185.4 653.9 1177.5 657.2C1169.6 660.4 1158.9 664.6 1149.6 668.3C1140.3 672.0 1131.1 675.7 1121.8 679.5C1112.5 683.2 1100.9 687.8 1093.9 690.6C1087.0 693.4 1085.4 693.8 1079.9 696.2C1074.5 698.5 1066.7 700.8 1061.3 704.5C1055.9 708.2 1062.7 716.1 1047.4 718.4C1032.0 720.8 983.8 720.3 969.4 718.4C955.0 716.6 964.3 711.9 961.0 707.3C957.8 702.7 952.2 698.9 949.9 690.6C947.6 682.2 948.0 666.5 947.1 657.2C946.2 647.9 947.1 641.4 944.3 634.9C941.5 628.4 936.4 624.7 930.4 618.2C924.4 611.7 916.5 602.4 908.1 595.9C899.8 589.4 888.2 582.7 880.3 579.2C872.4 575.7 867.7 576.9 860.8 575.0C853.8 573.2 846.8 570.1 838.5 568.1C830.1 566.0 818.5 562.9 810.6 562.5C802.8 562.0 797.6 566.2 791.2 565.3C784.7 564.3 777.7 561.1 771.7 556.9C765.6 552.7 760.5 544.4 754.9 540.2C749.4 536.0 744.7 533.7 738.2 531.8C731.7 530.0 723.4 530.2 716.0 529.1C708.5 527.9 698.7 526.8 693.7 524.9C688.6 523.0 688.8 519.8 685.7 517.9C682.7 515.9 678.8 514.9 675.6 513.4C672.4 511.9 669.6 510.5 666.6 508.9C663.6 507.2 661.0 505.1 657.6 503.2C654.2 501.4 650.1 499.3 646.3 497.6C642.6 495.9 638.8 494.4 635.1 493.1C631.3 491.8 627.6 490.7 623.8 489.7C620.1 488.8 616.7 488.4 612.6 487.5C608.4 486.5 603.8 485.4 599.1 484.1C594.4 482.8 589.3 481.3 584.4 479.6C579.5 477.9 574.5 476.0 569.8 474.0C565.1 471.9 560.4 469.5 556.3 467.2C552.2 465.0 548.4 462.9 545.0 460.5C541.7 458.0 538.6 454.8 536.0 452.6C533.4 450.3 531.2 448.8 529.3 446.9C527.3 445.1 525.3 443.6 524.2 441.3C523.1 439.1 522.5 436.4 522.5 433.4C522.5 430.4 524.2 426.7 524.2 423.3Z" fill="#b3f9ab" stroke="#000" stroke-width="0.9"/>
<path d="M1485.2 289.6C1483.8 287.5 1485.9 284.2 1489.4 281.2C1492.9 278.2 1499.1 274.5 1506.1 271.5C1513.1 268.4 1523.3 265.4 1531.2 263.1C1539.1 260.8 1546.9 259.1 1553.4 257.5C1559.9 256.0 1563.2 255.5 1570.1 253.9C1577.1 252.3 1583.5 248.8 1595.2 247.8C1606.9 246.8 1632.4 245.5 1640.4 247.8C1648.4 250.1 1642.9 256.1 1643.2 261.7C1643.4 267.3 1642.5 275.6 1641.8 281.2C1641.1 286.8 1640.8 291.4 1639.0 295.1C1637.1 298.8 1633.8 302.0 1630.6 303.5C1627.5 305.0 1625.9 303.8 1620.0 304.0C1614.1 304.3 1601.7 305.4 1595.2 304.9C1588.8 304.3 1586.4 302.1 1581.3 300.7C1576.2 299.3 1570.1 297.8 1564.6 296.5C1559.0 295.2 1553.4 293.2 1547.9 292.9C1542.3 292.6 1536.7 294.0 1531.2 294.6C1525.6 295.2 1520.0 296.7 1514.5 296.5C1508.9 296.4 1502.6 294.9 1497.7 293.7C1492.9 292.6 1486.6 291.6 1485.2 289.6Z" fill="#b3f9ab" stroke="#000" stroke-width="0.9"/>
<path d="M1549.3 389.8C1548.8 386.1 1548.6 380.5 1550.7 375.9C1552.7 371.3 1557.2 365.9 1561.8 362.0C1566.4 358.0 1572.5 354.8 1578.5 352.2C1584.5 349.7 1590.7 347.7 1598.0 346.7C1605.3 345.6 1614.5 345.1 1622.3 345.8C1630.0 346.5 1637.6 348.6 1644.6 350.8C1651.5 353.1 1658.0 355.5 1664.1 359.2C1670.1 362.9 1676.1 368.0 1680.8 373.1C1685.4 378.2 1689.6 384.7 1691.9 389.8C1694.2 394.9 1695.2 399.6 1694.7 403.7C1694.2 407.9 1691.9 412.1 1689.1 414.9C1686.3 417.7 1683.5 419.4 1678.0 420.5C1672.4 421.5 1664.1 421.1 1655.7 421.0C1647.3 420.9 1637.1 420.5 1627.8 419.9C1618.6 419.3 1607.7 419.0 1599.9 417.7C1592.2 416.4 1587.2 414.2 1581.3 412.1C1575.4 410.0 1569.2 407.5 1564.6 405.1C1559.9 402.8 1556.0 400.7 1553.4 398.2C1550.9 395.6 1549.7 393.5 1549.3 389.8Z" fill="#b3f9ab" stroke="#000" stroke-width="0.9"/>
<path d="M1860.4 540.2C1860.4 535.1 1861.6 529.8 1864.6 526.3C1867.6 522.8 1873.4 520.5 1878.5 519.3C1883.6 518.2 1889.6 518.6 1895.2 519.3C1900.8 520.0 1906.3 521.4 1911.9 523.5C1917.5 525.6 1923.1 528.1 1928.6 531.8C1934.2 535.6 1939.8 541.1 1945.3 545.8C1950.9 550.4 1956.5 554.6 1962.0 559.7C1967.6 564.8 1973.2 571.3 1978.8 576.4C1984.3 581.5 1990.8 586.2 1995.5 590.3C2000.1 594.5 2003.8 597.8 2006.6 601.5C2009.4 605.2 2011.9 609.1 2012.2 612.6C2012.4 616.1 2010.8 619.8 2008.0 622.4C2005.2 624.9 2000.3 627.2 1995.5 627.9C1990.6 628.6 1985.3 628.2 1978.8 626.5C1972.3 624.9 1963.9 621.4 1956.5 618.2C1949.0 614.9 1941.6 610.8 1934.2 607.0C1926.8 603.3 1918.9 599.6 1911.9 595.9C1905.0 592.2 1898.5 588.9 1892.4 584.8C1886.4 580.6 1880.4 575.5 1875.7 570.8C1871.1 566.2 1867.1 562.0 1864.6 556.9C1862.0 551.8 1860.4 545.3 1860.4 540.2Z" fill="#b3f9ab" stroke="#000" stroke-width="0.9"/>
<path d="M176.7 533.7C177.8 532.4 181.0 531.6 183.4 531.4C185.9 531.3 188.9 532.7 191.3 532.6C193.8 532.5 195.8 531.6 198.1 530.9C200.3 530.1 202.6 529.0 204.8 528.1C207.1 527.1 209.1 525.9 211.6 525.3C214.0 524.6 216.6 524.0 219.5 524.1C222.3 524.2 225.6 525.5 228.5 525.8C231.3 526.1 233.5 526.4 236.3 525.8C239.2 525.3 242.7 523.6 245.3 522.4C248.0 521.3 250.2 520.4 252.1 519.1C254.0 517.7 254.9 515.9 256.6 514.6C258.3 513.2 260.4 511.4 262.2 511.2C264.1 511.0 266.5 512.1 267.9 513.4C269.2 514.7 269.7 517.0 270.1 519.1C270.5 521.1 269.4 523.6 270.1 525.8C270.9 528.1 272.7 530.7 274.6 532.6C276.5 534.4 278.7 535.8 281.4 537.1C284.0 538.4 287.6 539.9 290.4 540.5C293.2 541.0 294.4 540.6 298.3 540.5C302.2 540.3 308.4 539.2 313.8 539.6C319.2 539.9 325.0 540.9 330.7 542.4C336.3 543.9 342.5 546.6 347.5 548.6C352.6 550.5 356.9 552.4 361.1 554.2C365.2 556.0 368.0 556.9 372.3 559.3C376.6 561.6 382.6 565.1 386.9 568.3C391.3 571.5 394.4 575.4 398.2 578.4C402.0 581.4 404.8 583.5 409.5 586.3C414.1 589.1 420.7 591.9 426.3 595.3C432.0 598.7 437.6 602.8 443.2 606.5C448.9 610.3 454.5 614.1 460.1 617.8C465.7 621.6 471.4 625.7 477.0 629.1C482.6 632.4 488.3 635.1 493.9 638.1C499.5 641.1 504.2 643.4 510.8 647.1C517.4 650.7 525.0 654.6 533.4 660.0C541.9 665.4 553.4 673.4 561.3 679.5C569.2 685.5 576.8 691.5 580.8 696.2C584.7 700.8 584.0 703.6 585.0 707.3C585.9 711.0 603.3 716.6 586.4 718.4C569.4 720.3 502.5 721.5 483.3 718.4C464.1 715.4 476.2 705.1 471.4 700.0C466.6 694.8 460.1 691.2 454.5 687.6C448.9 684.0 443.2 681.4 437.6 678.6C432.0 675.8 426.3 673.5 420.7 670.7C415.1 667.9 409.5 664.7 403.8 661.7C398.2 658.7 392.6 655.3 386.9 652.7C381.3 650.1 375.7 648.1 370.1 645.9C364.4 643.8 358.0 641.6 353.2 639.8C348.3 637.9 344.0 636.5 340.8 634.7C337.6 632.9 335.6 630.6 334.0 629.1C332.4 627.6 332.0 627.2 331.2 625.7C330.5 624.2 330.6 621.7 329.5 620.1C328.5 618.4 326.9 616.3 325.0 615.6C323.2 614.8 320.0 616.3 318.3 615.6C316.6 614.8 315.8 612.6 314.9 611.1C314.0 609.5 313.8 607.7 312.6 606.5C311.5 605.4 310.8 605.2 308.1 604.3C305.5 603.4 300.6 602.0 296.9 600.9C293.1 599.8 290.3 598.9 285.6 597.5C281.0 596.2 273.4 594.5 269.0 593.0C264.5 591.5 261.3 589.7 258.9 588.5C256.4 587.4 256.6 586.8 254.4 586.3C252.1 585.7 248.3 585.7 245.3 585.2C242.3 584.6 239.5 583.8 236.3 582.9C233.2 582.0 227.5 581.0 226.2 579.5C224.9 578.0 227.1 575.6 228.5 573.9C229.8 572.2 235.0 571.3 234.1 569.4C233.2 567.5 225.8 564.3 222.8 562.6C219.8 561.0 218.7 560.0 216.1 559.3C213.5 558.5 210.1 558.1 207.1 558.1C204.1 558.1 200.7 558.7 198.1 559.3C195.4 559.8 192.4 562.1 191.3 561.5C190.2 561.0 192.8 557.2 191.3 555.9C189.8 554.6 184.4 555.1 182.3 553.6C180.2 552.1 179.9 549.3 178.9 546.9C178.0 544.4 177.1 541.2 176.7 539.0C176.3 536.8 175.6 535.0 176.7 533.7Z" fill="#b3f9ab" stroke="#000" stroke-width="0.9"/>
<path d="M756.3 467.8C758.2 465.2 761.7 462.9 766.1 460.8C770.5 458.7 777.2 456.5 782.8 455.3C788.4 454.0 792.5 453.5 799.5 453.3C806.5 453.2 815.8 453.2 824.6 454.4C833.4 455.7 843.1 458.1 852.4 460.8C861.7 463.5 872.4 467.1 880.3 470.6C888.2 474.1 893.3 477.5 899.8 481.7C906.3 485.9 913.7 490.5 919.3 495.6C924.8 500.8 928.1 505.9 933.2 512.4C938.3 518.9 944.8 528.6 949.9 534.6C955.0 540.7 958.2 544.8 963.8 548.6C969.4 552.3 976.3 554.1 983.3 556.9C990.3 559.7 998.2 561.6 1005.6 565.3C1013.0 569.0 1021.4 574.6 1027.9 579.2C1034.4 583.8 1039.0 588.0 1044.6 593.1C1050.1 598.2 1055.7 604.3 1061.3 609.8C1066.9 615.4 1073.6 621.0 1078.0 626.5C1082.4 632.1 1085.7 637.2 1087.7 643.2C1089.8 649.3 1090.8 656.7 1090.5 662.7C1090.3 668.8 1088.9 674.8 1086.4 679.5C1083.8 684.1 1080.3 687.6 1075.2 690.6C1070.1 693.6 1062.7 696.4 1055.7 697.6C1048.8 698.7 1040.9 698.7 1033.4 697.6C1026.0 696.4 1017.7 693.6 1011.2 690.6C1004.7 687.6 1000.0 684.1 994.5 679.5C988.9 674.8 983.3 668.8 977.7 662.7C972.2 656.7 966.1 649.7 961.0 643.2C955.9 636.7 952.2 630.3 947.1 623.8C942.0 617.3 936.4 610.8 930.4 604.3C924.4 597.8 916.9 590.3 910.9 584.8C904.9 579.2 899.3 575.5 894.2 570.8C889.1 566.2 884.9 560.9 880.3 556.9C875.6 553.0 871.0 550.0 866.3 547.2C861.7 544.4 857.1 542.3 852.4 540.2C847.8 538.1 843.6 536.5 838.5 534.6C833.4 532.8 827.4 530.9 821.8 529.1C816.2 527.2 810.6 525.1 805.1 523.5C799.5 521.9 793.5 521.2 788.4 519.3C783.3 517.5 778.2 515.4 774.4 512.4C770.7 509.3 768.6 505.4 766.1 501.2C763.5 497.0 761.0 491.5 759.1 487.3C757.3 483.1 755.4 479.4 754.9 476.2C754.5 472.9 754.5 470.3 756.3 467.8Z" fill="#3ad13e" stroke="#000" stroke-width="0.9"/>
<path d="M1875.7 547.2C1875.7 543.2 1878.5 538.6 1881.3 536.0C1884.1 533.5 1888.2 532.3 1892.4 531.8C1896.6 531.4 1901.7 531.8 1906.3 533.2C1911.0 534.6 1915.6 536.7 1920.3 540.2C1924.9 543.7 1929.1 549.0 1934.2 554.1C1939.3 559.2 1945.8 565.7 1950.9 570.8C1956.0 575.9 1960.9 580.8 1964.8 584.8C1968.8 588.7 1972.7 591.7 1974.6 594.5C1976.4 597.3 1977.1 599.8 1976.0 601.5C1974.8 603.1 1971.8 604.3 1967.6 604.3C1963.4 604.3 1957.4 603.3 1950.9 601.5C1944.4 599.6 1935.6 596.4 1928.6 593.1C1921.7 589.9 1915.2 585.7 1909.1 582.0C1903.1 578.3 1897.1 574.6 1892.4 570.8C1887.8 567.1 1884.1 563.6 1881.3 559.7C1878.5 555.8 1875.7 551.1 1875.7 547.2Z" fill="#3ad13e" stroke="#000" stroke-width="0.9"/>
<path d="M201.4 541.0C201.8 539.6 204.6 537.5 207.1 536.5C209.5 535.5 213.1 535.3 216.1 534.8C219.1 534.4 222.8 534.8 225.1 533.7C227.3 532.6 227.7 529.2 229.6 528.1C231.5 526.9 233.7 526.9 236.3 526.9C239.0 526.9 242.5 528.1 245.3 528.1C248.2 528.1 251.0 526.9 253.2 526.9C255.5 526.9 256.8 527.1 258.9 528.1C260.9 529.0 263.7 530.7 265.6 532.6C267.5 534.4 267.9 537.1 270.1 539.3C272.4 541.6 276.1 543.8 279.1 546.1C282.1 548.3 285.5 550.2 288.1 552.8C290.8 555.5 293.2 559.0 294.9 561.8C296.6 564.7 297.0 568.8 298.3 569.7C299.5 570.6 299.2 566.8 302.5 567.1C305.9 567.5 314.5 570.3 318.3 571.7C322.0 573.0 323.7 572.6 325.0 575.0C326.3 577.5 326.2 582.5 326.2 586.3C326.2 590.0 325.8 593.8 325.0 597.5C324.3 601.3 322.8 606.5 321.7 608.8C320.5 611.1 319.2 611.4 318.3 611.1C317.3 610.7 316.2 608.8 316.0 606.5C315.8 604.3 316.8 600.2 317.1 597.5C317.5 594.9 319.2 592.5 318.3 590.8C317.3 589.1 314.1 588.3 311.5 587.4C308.9 586.5 305.9 585.7 302.5 585.2C299.1 584.6 295.0 584.2 291.3 584.0C287.5 583.8 282.8 583.8 280.0 584.0C277.2 584.3 277.0 585.8 274.6 585.5C272.2 585.2 268.6 583.4 265.6 582.1C262.6 580.8 259.6 578.9 256.6 577.6C253.6 576.3 250.6 575.3 247.6 574.2C244.6 573.1 241.0 572.3 238.6 570.8C236.2 569.3 234.7 567.3 233.0 565.2C231.3 563.2 230.7 560.5 228.5 558.5C226.2 556.4 222.3 554.5 219.5 552.8C216.6 551.1 214.0 549.6 211.6 548.3C209.1 547.0 206.5 546.2 204.8 545.0C203.1 543.7 201.1 542.4 201.4 541.0Z" fill="#3ad13e" stroke="#000" stroke-width="0.9"/>
<path d="M347.5 550.3C349.0 551.8 350.2 563.0 352.0 567.1C353.9 571.3 356.2 572.4 358.8 575.0C361.4 577.7 364.1 580.5 367.8 582.9C371.6 585.3 376.2 587.0 381.3 589.7C386.4 592.3 392.6 595.9 398.2 598.7C403.8 601.5 408.5 603.7 415.1 606.5C421.7 609.4 431.0 612.4 437.6 615.6C444.2 618.7 448.9 621.9 454.5 625.7C460.1 629.4 466.1 633.9 471.4 638.1C476.6 642.2 482.4 647.3 486.0 650.5C489.6 653.6 491.4 655.0 492.8 657.2C494.2 659.5 495.2 661.4 494.4 664.0C493.7 666.5 491.2 670.8 488.3 672.4C485.3 674.0 481.7 674.2 477.0 673.5C472.3 672.9 465.7 670.8 460.1 668.5C454.5 666.1 448.9 662.3 443.2 659.5C437.6 656.6 432.0 654.2 426.3 651.6C420.7 648.9 415.1 646.3 409.5 643.7C403.8 641.1 398.2 638.4 392.6 635.8C386.9 633.2 381.3 630.6 375.7 627.9C370.1 625.3 363.5 622.1 358.8 620.1C354.1 618.0 350.5 616.7 347.5 615.6C344.5 614.4 342.7 614.6 340.8 613.3C338.9 612.0 337.2 610.3 336.3 607.7C335.3 605.0 335.1 601.5 335.2 597.5C335.3 593.6 336.1 588.7 336.8 584.0C337.6 579.3 338.6 573.7 339.7 569.4C340.7 565.1 341.7 561.3 343.0 558.1C344.4 555.0 346.0 548.8 347.5 550.3Z" fill="#3ad13e" stroke="#000" stroke-width="0.9"/>
<path d="M186.8 552.8C187.2 552.1 189.6 550.9 191.3 550.6C193.0 550.3 196.2 550.6 196.9 551.1C197.7 551.7 197.1 553.3 195.8 554.0C194.5 554.6 190.6 555.3 189.1 555.1C187.6 554.9 186.4 553.6 186.8 552.8Z" fill="#3ad13e" stroke="#000" stroke-width="0.9"/>
<path d="M229.6 541.6C229.6 539.1 229.6 534.3 230.7 532.6C231.8 530.9 233.9 531.3 236.3 531.4C238.8 531.6 242.7 533.1 245.3 533.7C248.0 534.3 250.2 534.3 252.1 534.8C254.0 535.4 256.0 535.2 256.6 537.1C257.2 538.9 256.0 543.1 255.5 546.1C254.9 549.1 253.8 552.5 253.2 555.1C252.7 557.7 251.2 560.2 252.1 561.8C253.0 563.5 258.9 563.9 258.9 565.2C258.9 566.5 254.4 568.6 252.1 569.7C249.8 570.8 247.6 572.7 245.3 572.0C243.1 571.2 240.1 567.5 238.6 565.2C237.1 563.0 236.9 560.9 236.3 558.5C235.8 556.0 236.2 552.5 235.2 550.6C234.3 548.7 231.7 548.7 230.7 547.2C229.8 545.7 229.6 544.0 229.6 541.6Z" fill="#10a210" stroke="#000" stroke-width="0.9"/>
<path d="M256.6 537.1C257.2 535.9 260.7 537.8 262.2 539.3C263.7 540.8 263.9 544.2 265.6 546.1C267.3 548.0 269.7 548.7 272.4 550.6C275.0 552.5 278.6 555.3 281.4 557.3C284.2 559.4 287.2 561.1 289.2 563.0C291.3 564.8 293.4 566.7 293.8 568.6C294.1 570.5 293.0 572.7 291.5 574.2C290.0 575.7 286.8 576.8 284.7 577.6C282.7 578.3 280.8 579.3 279.1 578.7C277.4 578.2 276.1 576.3 274.6 574.2C273.1 572.2 271.6 569.0 270.1 566.3C268.6 563.7 266.7 561.1 265.6 558.5C264.5 555.8 264.5 552.6 263.4 550.6C262.2 548.5 260.0 548.3 258.9 546.1C257.7 543.8 256.0 538.2 256.6 537.1Z" fill="#10a210" stroke="#000" stroke-width="0.9"/>
<path d="M346.4 562.6C347.3 562.3 348.9 563.6 349.2 566.0C349.6 568.5 349.2 573.2 348.7 577.3C348.1 581.4 346.9 587.0 345.9 590.8C344.8 594.5 343.2 599.4 342.5 599.8C341.7 600.2 341.4 596.4 341.4 593.0C341.4 589.7 342.0 583.7 342.5 579.5C342.9 575.4 343.5 571.1 344.2 568.3C344.8 565.5 345.6 563.0 346.4 562.6Z" fill="#10a210" stroke="#000" stroke-width="0.9"/>
</g>
<g clip-path="url(#lc)">
<path d="M91.1 442.5C91.7 441.6 94.9 441.1 96.8 441.4C98.6 441.7 100.3 443.5 102.4 444.2C104.4 444.9 107.2 444.9 109.1 445.3C111.1 445.8 113.1 445.8 114.2 447.0C115.3 448.2 116.5 451.7 115.9 452.6C115.2 453.6 112.5 452.5 110.3 452.6C108.0 452.8 104.6 453.9 102.4 453.8C100.1 453.7 98.3 453.2 96.8 452.1C95.3 451.0 94.3 448.6 93.4 447.0C92.4 445.4 90.6 443.5 91.1 442.5Z" fill="#e0bdb3" stroke="#000" stroke-width="0.9"/>
<path d="M149.7 450.4C151.4 448.7 154.4 447.7 157.5 447.0C160.7 446.4 165.8 445.9 168.8 446.5C171.8 447.0 173.7 448.8 175.6 450.4C177.4 452.0 179.1 454.0 180.1 456.0C181.0 458.1 181.7 460.5 181.2 462.8C180.6 465.0 178.6 467.3 176.7 469.5C174.8 471.8 172.4 473.8 169.9 476.3C167.5 478.7 164.9 482.3 162.0 484.2C159.2 486.0 155.5 486.2 153.0 487.5C150.6 488.9 147.4 489.8 147.4 492.0C147.4 494.3 150.6 498.8 153.0 501.1C155.5 503.3 159.0 504.8 162.0 505.6C165.0 506.3 168.6 504.6 171.1 505.6C173.5 506.5 175.9 508.9 176.7 511.2C177.4 513.4 176.9 516.8 175.6 519.1C174.2 521.3 171.1 523.4 168.8 524.7C166.5 526.0 163.7 525.6 162.0 526.9C160.4 528.3 158.7 530.1 158.7 532.6C158.7 535.0 160.4 538.6 162.0 541.6C163.7 544.6 166.5 548.0 168.8 550.6C171.1 553.2 173.3 555.1 175.6 557.3C177.8 559.6 179.7 562.4 182.3 564.1C184.9 565.8 188.7 566.6 191.3 567.5C193.9 568.4 195.6 568.1 198.1 569.4C200.5 570.7 203.7 573.2 205.9 575.0C208.2 576.9 209.7 578.8 211.6 580.7C213.5 582.5 215.3 584.6 217.2 586.3C219.1 588.0 220.6 589.5 222.8 590.8C225.1 592.1 227.5 593.2 230.7 594.2C233.9 595.1 238.6 595.9 242.0 596.4C245.3 597.0 248.9 596.4 251.0 597.5C253.0 598.7 254.0 600.9 254.4 603.2C254.7 605.4 254.0 609.0 253.2 611.1C252.5 613.1 251.2 615.9 249.8 615.6C248.5 615.2 247.6 610.1 245.3 608.8C243.1 607.5 239.2 607.7 236.3 607.7C233.5 607.7 230.7 608.0 228.5 608.8C226.2 609.5 224.9 611.3 222.8 612.2C220.8 613.0 218.3 614.1 216.1 613.9C213.8 613.7 211.6 612.3 209.3 611.1C207.1 609.8 204.8 607.9 202.6 606.5C200.3 605.2 198.1 603.7 195.8 603.2C193.6 602.6 191.3 602.8 189.1 603.2C186.8 603.5 184.7 604.8 182.3 605.4C179.9 606.1 177.1 606.7 174.4 607.1C171.8 607.5 169.0 608.0 166.5 607.7C164.1 607.4 161.5 606.7 159.8 605.4C158.1 604.1 157.5 601.9 156.4 599.8C155.3 597.7 154.5 595.3 153.0 593.0C151.5 590.8 149.1 588.5 147.4 586.3C145.7 584.0 144.0 581.4 142.9 579.5C141.8 577.7 141.2 577.1 140.7 575.0C140.1 573.0 139.9 569.8 139.5 567.1C139.2 564.5 139.5 560.8 138.4 559.3C137.3 557.8 133.7 560.7 132.8 558.1C131.8 555.6 133.7 550.0 132.8 543.8C131.8 537.7 129.6 528.8 127.1 521.3C124.7 513.8 121.0 505.2 118.1 498.8C115.3 492.4 110.9 486.4 110.3 483.0C109.6 479.7 111.4 479.7 114.2 478.5C117.0 477.4 122.9 477.0 127.1 476.3C131.4 475.5 136.9 475.3 139.5 474.0C142.2 472.7 141.4 469.9 142.9 468.4C144.4 466.9 147.8 466.9 148.5 465.0C149.3 463.2 147.2 459.6 147.4 457.1C147.6 454.7 148.0 452.1 149.7 450.4Z" fill="#e0bdb3" stroke="#000" stroke-width="0.9"/>
<path d="M129.4 483.0C130.5 482.3 133.2 482.1 135.0 480.8C136.9 479.5 138.8 476.3 140.7 475.2C142.5 474.0 145.2 473.1 146.3 474.0C147.4 475.0 147.8 478.5 147.4 480.8C147.0 483.0 145.7 485.9 144.0 487.5C142.3 489.1 139.5 490.2 137.3 490.4C135.0 490.5 132.0 489.5 130.5 488.7C129.0 487.8 128.5 486.2 128.3 485.3C128.1 484.4 128.3 483.8 129.4 483.0Z" fill="#a0776c" stroke="#000" stroke-width="0.9"/>
<path d="M130.5 497.7C131.8 497.1 134.7 497.9 137.3 498.8C139.9 499.7 143.7 502.2 146.3 503.3C148.9 504.4 150.4 504.4 153.0 505.6C155.7 506.7 160.0 508.4 162.0 510.1C164.1 511.7 165.2 513.4 165.4 515.7C165.6 517.9 164.1 520.9 163.2 523.6C162.2 526.2 161.3 529.6 159.8 531.4C158.3 533.3 155.9 535.0 154.2 534.8C152.5 534.6 151.4 532.2 149.7 530.3C148.0 528.4 145.9 526.0 144.0 523.6C142.2 521.1 140.1 518.3 138.4 515.7C136.7 513.1 135.4 510.1 133.9 507.8C132.4 505.6 130.0 503.9 129.4 502.2C128.8 500.5 129.2 498.2 130.5 497.7Z" fill="#a0776c" stroke="#000" stroke-width="0.9"/>
<path d="M142.9 542.4C144.4 541.6 147.2 542.0 149.7 543.5C152.1 545.0 154.7 548.9 157.5 551.4C160.4 553.8 164.1 555.9 166.5 558.1C169.0 560.4 171.1 562.1 172.2 564.9C173.3 567.7 173.9 572.6 173.3 575.0C172.7 577.5 170.5 578.4 168.8 579.5C167.1 580.7 165.0 582.0 163.2 581.8C161.3 581.6 159.6 579.9 157.5 578.4C155.5 576.9 153.2 574.3 150.8 572.8C148.3 571.3 144.8 570.9 142.9 569.4C141.0 567.9 140.3 566.0 139.5 563.8C138.8 561.5 138.2 558.5 138.4 555.9C138.6 553.3 139.9 550.3 140.7 548.0C141.4 545.8 141.4 543.1 142.9 542.4Z" fill="#a0776c" stroke="#000" stroke-width="0.9"/>
<path d="M178.9 577.3C179.5 575.6 181.7 573.7 183.4 572.8C185.1 571.8 187.2 571.5 189.1 571.7C190.9 571.8 192.8 572.8 194.7 573.9C196.6 575.0 198.6 576.7 200.3 578.4C202.0 580.1 203.7 582.0 204.8 584.0C205.9 586.1 207.3 589.1 207.1 590.8C206.9 592.5 205.4 593.4 203.7 594.2C202.0 594.9 199.4 595.5 196.9 595.3C194.5 595.1 191.3 594.2 189.1 593.0C186.8 591.9 184.9 590.2 183.4 588.5C181.9 586.8 180.8 584.8 180.1 582.9C179.3 581.0 178.4 579.0 178.9 577.3Z" fill="#a0776c" stroke="#000" stroke-width="0.9"/>
<path d="M160.4 593.0C160.8 591.1 162.0 588.9 163.2 588.0C164.4 587.0 166.5 586.8 167.7 587.4C168.9 588.1 170.0 589.8 170.5 591.9C171.0 594.0 171.0 597.7 170.5 599.8C170.0 601.9 168.9 603.5 167.7 604.3C166.5 605.0 164.4 605.0 163.2 604.3C162.0 603.5 160.8 601.7 160.4 599.8C159.9 597.9 159.9 595.0 160.4 593.0Z" fill="#a0776c" stroke="#000" stroke-width="0.9"/>
<path d="M134.5 506.1C135.6 505.7 140.2 508.0 144.0 508.9C147.9 509.9 154.4 510.6 157.5 511.7C160.7 512.9 162.8 514.1 163.2 515.7C163.5 517.3 160.7 519.4 159.8 521.3C158.9 523.2 158.5 524.9 157.5 526.9C156.6 529.0 155.2 532.9 154.2 533.7C153.1 534.4 152.5 533.1 151.4 531.4C150.2 529.8 149.0 526.0 147.4 523.6C145.8 521.1 143.5 518.9 141.8 516.8C140.1 514.7 138.5 513.0 137.3 511.2C136.1 509.4 133.3 506.5 134.5 506.1Z" fill="#673a31" stroke="#000" stroke-width="0.9"/>
<path d="M142.9 546.9C144.0 545.6 146.3 544.1 147.4 544.6C148.5 545.2 149.3 547.8 149.7 550.3C150.0 552.7 150.4 557.6 149.7 559.3C148.9 561.0 146.6 560.6 145.2 560.4C143.8 560.2 142.0 559.5 141.2 558.1C140.5 556.8 140.4 554.4 140.7 552.5C140.9 550.6 141.8 548.2 142.9 546.9Z" fill="#673a31" stroke="#000" stroke-width="0.9"/>
<path d="M203.7 642.6C204.5 641.6 207.1 641.6 209.3 641.4C211.6 641.3 215.0 640.9 217.2 641.4C219.4 642.0 221.9 643.3 222.3 644.8C222.6 646.3 220.7 648.6 219.5 650.5C218.2 652.3 216.5 654.9 215.0 656.1C213.5 657.3 211.8 658.3 210.5 657.8C209.1 657.2 208.1 654.5 207.1 652.7C206.0 650.9 204.8 648.8 204.3 647.1C203.7 645.4 202.9 643.5 203.7 642.6Z" fill="#b3f9ab" stroke="#000" stroke-width="0.9"/>
<path d="M193.0 676.3C192.1 674.5 195.3 670.3 196.9 668.5C198.5 666.6 200.7 665.8 202.6 665.1C204.4 664.3 206.1 663.8 208.2 664.0C210.3 664.1 212.9 665.1 215.0 666.2C217.0 667.3 219.3 668.6 220.6 670.7C221.9 672.8 225.8 677.1 222.8 678.6C219.8 680.1 207.5 680.1 202.6 679.7C197.6 679.3 193.9 678.2 193.0 676.3Z" fill="#b3f9ab" stroke="#000" stroke-width="0.9"/>
<path d="M2069.3 437.2C2069.7 433.4 2072.7 431.8 2076.2 431.6C2079.7 431.4 2083.7 435.1 2090.1 435.8C2096.6 436.5 2110.6 434.1 2115.2 435.8C2119.9 437.4 2118.0 442.0 2118.0 445.5C2118.0 449.0 2119.9 454.3 2115.2 456.7C2110.6 459.0 2097.1 459.9 2090.1 459.4C2083.2 459.0 2076.9 457.6 2073.4 453.9C2070.0 450.2 2068.8 440.9 2069.3 437.2Z" fill="#b3f9ab" stroke="#000" stroke-width="0.9"/>
<path d="M2073.4 439.9C2074.1 438.1 2077.2 436.2 2079.0 437.2C2080.9 438.1 2084.1 443.2 2084.6 445.5C2085.0 447.8 2083.4 450.6 2081.8 451.1C2080.2 451.5 2076.2 450.2 2074.8 448.3C2073.4 446.4 2072.7 441.8 2073.4 439.9Z" fill="#3ad13e" stroke="#000" stroke-width="0.9"/>
<path d="M2090.1 439.9C2091.5 437.2 2097.1 437.4 2101.3 437.2C2105.5 436.9 2112.7 436.2 2115.2 438.6C2117.8 440.9 2120.3 448.5 2116.6 451.1C2112.9 453.6 2097.3 455.7 2092.9 453.9C2088.5 452.0 2088.8 442.7 2090.1 439.9Z" fill="#3ad13e" stroke="#000" stroke-width="0.9"/>
<path d="M1641.8 247.8C1654.1 243.6 1704.4 232.9 1717.0 247.8C1729.5 262.6 1727.2 322.1 1717.0 336.9C1706.8 351.8 1665.9 342.2 1655.7 336.9C1645.5 331.6 1659.9 310.4 1655.7 304.9C1651.5 299.4 1633.2 305.7 1630.6 304.0C1628.1 302.4 1638.3 300.3 1640.4 295.1C1642.5 289.9 1642.9 280.7 1643.2 272.8C1643.4 265.0 1629.5 252.0 1641.8 247.8Z" fill="#fff8a8" stroke="#000" stroke-width="0.9"/>
<path d="M1557.6 307.7C1558.3 304.9 1562.0 299.8 1564.6 299.3C1567.1 298.8 1570.1 302.8 1572.9 304.9C1575.7 307.0 1579.4 309.3 1581.3 311.8C1583.1 314.4 1584.5 317.4 1584.1 320.2C1583.6 323.0 1581.5 327.9 1578.5 328.5C1575.5 329.2 1569.0 326.5 1566.0 324.4C1563.0 322.3 1561.8 318.8 1560.4 316.0C1559.0 313.2 1556.9 310.4 1557.6 307.7Z" fill="#fff8a8" stroke="#000" stroke-width="0.9"/>
</g>
<g mask="url(#om)">
<path d="M533.2 412.0C532.8 408.9 532.9 404.4 533.8 400.8C534.6 397.2 536.0 393.5 538.3 390.7C540.5 387.8 543.9 385.8 547.3 383.9C550.7 382.0 554.4 380.2 558.5 379.4C562.7 378.6 567.5 378.6 572.0 378.8C576.5 379.0 581.4 379.1 585.6 380.5C589.7 381.9 593.2 384.7 596.8 387.3C600.4 389.9 603.8 392.9 606.9 396.3C610.1 399.7 613.4 403.8 615.9 407.5C618.5 411.3 620.8 415.2 622.1 418.8C623.5 422.4 623.9 425.9 623.8 428.9C623.7 431.9 623.1 434.7 621.6 436.8C620.1 438.9 617.8 440.2 614.8 441.3C611.8 442.4 607.7 443.1 603.6 443.6C599.4 444.0 594.6 444.0 590.1 444.1C585.6 444.2 581.1 444.6 576.5 444.1C572.0 443.7 567.4 442.7 563.0 441.3C558.7 439.9 554.2 437.9 550.7 435.7C547.1 433.4 544.1 430.4 541.7 427.8C539.2 425.2 537.4 422.6 536.0 419.9C534.6 417.3 533.6 415.2 533.2 412.0Z" fill="url(#hz)"/>
<path d="M693.5 417.7C693.2 415.0 693.3 411.1 694.1 407.5C694.8 404.0 696.2 399.8 698.0 396.3C699.8 392.7 702.1 389.0 704.8 386.2C707.4 383.3 710.4 381.1 713.8 379.4C717.1 377.7 720.9 376.5 725.0 376.0C729.2 375.5 734.0 375.9 738.5 376.2C743.0 376.6 747.5 377.5 752.0 378.3C756.5 379.1 760.7 380.0 765.6 381.1C770.4 382.2 775.9 383.5 781.3 385.0C786.8 386.5 792.6 388.2 798.2 390.1C803.8 392.0 810.0 393.9 815.1 396.3C820.2 398.6 824.8 401.5 828.6 404.2C832.3 406.8 835.2 409.2 837.6 412.0C840.0 414.9 841.8 418.0 843.2 421.1C844.6 424.1 845.7 427.2 846.0 430.1C846.4 432.9 846.1 435.6 845.5 437.9C844.8 440.3 843.8 442.5 842.1 444.1C840.4 445.7 838.9 446.8 835.3 447.5C831.8 448.3 826.0 448.5 820.7 448.6C815.5 448.7 809.5 448.3 803.8 448.1C798.2 447.8 792.6 447.3 786.9 446.9C781.3 446.6 775.7 446.3 770.1 445.8C764.4 445.3 758.4 444.9 753.2 444.1C747.9 443.4 743.2 442.3 738.5 441.3C733.8 440.3 729.5 439.2 725.0 437.9C720.5 436.6 715.5 435.1 711.5 433.4C707.6 431.7 704.0 429.5 701.4 427.8C698.8 426.1 697.1 425.0 695.8 423.3C694.4 421.6 693.8 420.3 693.5 417.7Z" fill="url(#hz)"/>
<path d="M712.4 560.8C712.2 556.8 712.9 553.1 714.6 549.5C716.3 546.0 719.3 542.2 722.5 539.4C725.7 536.6 729.6 534.5 733.8 532.6C737.9 530.8 741.7 529.2 747.3 528.1C752.9 527.1 760.4 526.9 767.5 526.5C774.7 526.0 782.6 525.5 790.1 525.3C797.6 525.1 805.1 525.1 812.6 525.3C820.1 525.5 828.0 525.6 835.1 526.5C842.2 527.3 849.7 528.8 855.3 530.4C861.0 532.0 865.3 533.8 868.9 536.0C872.4 538.3 875.0 540.9 876.7 543.9C878.5 546.9 879.3 550.5 879.5 554.0C879.8 557.6 879.3 561.5 878.4 565.3C877.6 569.0 876.1 573.7 874.5 576.5C872.9 579.4 871.7 579.9 868.9 582.2C866.0 584.4 867.0 588.7 857.6 590.1C848.2 591.4 825.7 590.4 812.6 590.1C799.4 589.7 787.1 587.8 778.8 587.8C770.5 587.8 767.2 589.2 763.0 590.1C758.9 590.9 757.4 592.3 754.0 592.9C750.7 593.4 746.3 593.9 742.8 593.4C739.2 593.0 736.0 591.7 732.6 590.1C729.3 588.4 725.3 586.1 722.5 583.3C719.7 580.5 717.4 576.9 715.8 573.2C714.1 569.4 712.6 564.7 712.4 560.8Z" fill="url(#hz)"/>
<path d="M746.7 556.3C746.7 553.7 747.2 549.9 748.4 547.3C749.6 544.7 751.6 542.3 754.0 540.5C756.5 538.7 758.9 537.4 763.0 536.6C767.2 535.7 772.4 535.6 778.8 535.5C785.2 535.3 793.8 535.4 801.3 535.5C808.8 535.5 817.3 535.5 823.8 535.8C830.4 536.1 835.8 536.2 840.7 537.1C845.6 538.1 849.7 539.6 853.1 541.7C856.5 543.7 859.3 546.7 861.0 549.5C862.7 552.3 863.4 555.7 863.2 558.5C863.0 561.4 861.4 564.4 859.8 566.4C858.3 568.5 862.1 568.9 854.2 570.9C846.3 573.0 823.3 577.5 812.6 578.8C801.9 580.1 797.2 579.8 790.1 578.8C782.9 577.8 774.3 573.9 769.8 572.6C765.3 571.3 765.7 571.8 763.0 570.9C760.4 570.1 756.5 568.9 754.0 567.5C751.6 566.2 749.6 564.9 748.4 563.0C747.2 561.2 746.7 558.9 746.7 556.3Z" fill="#ff0000" stroke="#000" stroke-width="0.9"/>
</g>
<use href="#L" fill="none" stroke="#000" stroke-width="2.2" stroke-linejoin="round"/>
<use href="#K" fill="none" stroke="#000" stroke-width="1.4" stroke-linejoin="round"/>
<use href="#DT" fill="#000"/>
<use href="#B" fill="none" stroke="#000" stroke-width="2.1" stroke-linejoin="round" stroke-linecap="round"/>
</g>
<g transform="translate(0,0)">
<g stroke="#dcdcdc" stroke-width="2.3" stroke-dasharray="8.5 8.18" fill="none">
<path d="M63.8 307.3H2134.5"/><path d="M63.8 364.7H2134.5"/><path d="M63.8 422.2H2134.5"/><path d="M63.8 479.6H2134.5"/><path d="M63.8 537H2134.5"/><path d="M63.8 594.5H2134.5"/><path d="M63.8 651.9H2134.5"/><path d="M410.4 711.4V249.9"/><path d="M755.2 711.4V249.9"/><path d="M1100.1 711.4V249.9"/><path d="M1444.9 711.4V249.9"/><path d="M1789.7 711.4V249.9"/>
</g>
<g stroke="#dcdcdc" stroke-width="2" fill="none"><path d="M63.6 307.3h-6M2136.5 307.3h6"/><path d="M63.6 364.7h-6M2136.5 364.7h6"/><path d="M63.6 422.2h-6M2136.5 422.2h6"/><path d="M63.6 479.6h-6M2136.5 479.6h6"/><path d="M63.6 537h-6M2136.5 537h6"/><path d="M63.6 594.5h-6M2136.5 594.5h6"/><path d="M63.6 651.9h-6M2136.5 651.9h6"/><path d="M238 711.3v6"/><path d="M410.4 711.3v6"/><path d="M582.8 711.3v6"/><path d="M755.2 711.3v6"/><path d="M927.6 711.3v6"/><path d="M1100.1 711.3v6"/><path d="M1272.5 711.3v6"/><path d="M1444.9 711.3v6"/><path d="M1617.3 711.3v6"/><path d="M1789.7 711.3v6"/><path d="M1962.1 711.3v6"/></g>
<rect x="65.6" y="249.9" width="2068.9" height="459.4" fill="none" stroke="#000" stroke-width="5" stroke-linejoin="round"/>
<g class="dv"><text class="dv e" x="54.8" y="313.5">30°N</text><text class="dv" x="2144.6" y="313.5">30°N</text><text class="dv e" x="54.8" y="370.9">20°N</text><text class="dv" x="2144.6" y="370.9">20°N</text><text class="dv e" x="54.8" y="428.4">10°N</text><text class="dv" x="2144.6" y="428.4">10°N</text><text class="dv e" x="54.8" y="485.8">0°</text><text class="dv" x="2144.6" y="485.8">0°</text><text class="dv e" x="54.8" y="543.2">10°S</text><text class="dv" x="2144.6" y="543.2">10°S</text><text class="dv e" x="54.8" y="600.7">20°S</text><text class="dv" x="2144.6" y="600.7">20°S</text><text class="dv e" x="54.8" y="658.1">30°S</text><text class="dv" x="2144.6" y="658.1">30°S</text><text class="dv m" x="410.4" y="733.6">60°E</text><text class="dv m" x="755.2" y="733.6">120°E</text><text class="dv m" x="1100.1" y="733.6">180°</text><text class="dv m" x="1444.9" y="733.6">120°W</text><text class="dv m" x="1789.7" y="733.6">60°W</text></g>
</g>
<rect x="65.6" y="809.9" width="2068.9" height="459.4" fill="#73dfff"/>
<g transform="translate(0,560)" clip-path="url(#mc)">
<use href="#L" fill="#fff"/>
<use href="#K" fill="#73dfff"/>
<g>
<path d="M338.5 465.0C343.2 463.0 348.2 460.4 352.4 456.7C356.6 452.9 359.8 447.8 363.6 442.7C367.3 437.6 370.5 430.9 374.7 426.0C378.9 421.1 383.1 417.0 388.6 413.5C394.2 410.0 401.2 407.2 408.1 405.1C415.1 403.0 423.4 401.6 430.4 401.0C437.4 400.4 443.9 400.8 449.9 401.5C455.9 402.2 461.0 402.9 466.6 405.1C472.2 407.4 478.2 411.4 483.3 414.9C488.4 418.4 492.6 422.5 497.2 426.0C501.9 429.5 506.1 433.0 511.2 435.8C516.3 438.6 522.3 440.4 527.9 442.7C533.4 445.1 539.0 446.7 544.6 449.7C550.1 452.7 555.7 457.1 561.3 460.8C566.9 464.5 571.3 469.0 578.0 472.0C584.7 475.0 593.2 475.0 601.8 478.9C610.4 482.9 621.3 490.1 629.6 495.6C638.0 501.2 645.4 506.8 651.9 512.4C658.4 517.9 664.4 524.0 668.6 529.1C672.8 534.2 675.6 538.3 677.0 543.0C678.4 547.6 677.9 552.7 677.0 556.9C676.0 561.1 673.7 565.0 671.4 568.1C669.1 571.1 670.0 573.6 663.0 575.0C656.1 576.4 642.2 576.0 629.6 576.4C617.1 576.8 596.9 577.0 587.8 577.2C578.8 577.5 584.3 577.7 575.2 577.8C566.1 577.9 545.0 578.5 533.4 577.8C521.8 577.1 514.9 575.0 505.6 573.6C496.3 572.2 487.0 571.1 477.7 569.4C468.5 567.8 459.2 565.5 449.9 563.9C440.6 562.3 431.3 561.8 422.0 559.7C412.8 557.6 403.5 553.9 394.2 551.3C384.9 548.8 375.6 546.7 366.3 544.4C357.1 542.1 341.0 538.0 338.5 537.4C336.0 536.9 352.4 540.9 351.2 541.0C349.9 541.1 337.7 539.2 331.0 538.0C324.3 536.8 316.9 535.0 310.9 534.0C304.8 533.0 299.0 531.8 294.8 532.0C290.6 532.1 288.9 533.8 285.7 535.0C282.5 536.1 278.8 537.7 275.6 539.0C272.4 540.3 269.1 541.5 266.6 543.0C264.0 544.5 263.2 546.7 260.5 548.1C257.8 549.4 254.1 550.4 250.4 551.1C246.7 551.8 242.5 551.6 238.3 552.1C234.2 552.6 229.5 553.4 225.3 554.1C221.1 554.8 216.2 556.3 213.2 556.1C210.1 556.0 208.5 554.8 207.1 553.1C205.8 551.4 205.2 549.2 205.1 546.1C205.0 542.9 205.6 537.7 206.6 534.0C207.6 530.3 209.9 527.3 211.2 523.9C212.4 520.5 213.2 517.3 214.2 513.8C215.2 510.3 215.7 506.1 217.2 502.7C218.7 499.4 221.1 496.5 223.2 493.7C225.4 490.8 228.6 488.5 230.3 485.6C232.0 482.8 233.1 479.4 233.3 476.6C233.6 473.7 231.8 471.2 231.8 468.5C231.8 465.8 232.2 462.3 233.3 460.4C234.4 458.6 236.7 458.2 238.3 457.4C240.0 456.7 241.4 455.4 243.4 455.9C245.4 456.4 247.9 458.8 250.4 460.4C253.0 462.0 255.8 464.0 258.5 465.5C261.2 467.0 264.2 468.3 266.6 469.5C268.9 470.7 270.2 472.1 272.6 472.5C274.9 472.9 278.5 472.9 280.7 472.0C282.8 471.2 284.0 469.1 285.7 467.5C287.4 465.9 288.9 463.8 290.7 462.5C292.6 461.1 294.8 460.1 296.8 459.4C298.8 458.8 300.8 458.4 302.8 458.4C304.8 458.4 307.0 458.6 308.9 459.4C310.7 460.3 312.6 461.8 313.9 463.5C315.2 465.1 314.7 468.7 316.4 469.5C318.1 470.3 320.3 469.2 324.0 468.5C327.6 467.7 333.8 467.0 338.5 465.0Z" fill="#e0bdb3" stroke="#000" stroke-width="0.9"/>
<path d="M672.8 325.8C673.7 321.6 676.3 314.6 679.8 309.1C683.2 303.5 688.6 297.0 693.7 292.3C698.8 287.7 704.4 284.5 710.4 281.2C716.4 278.0 722.5 274.7 729.9 272.8C737.3 271.0 746.1 271.2 754.9 270.1C763.8 268.9 774.4 267.7 782.8 265.9C791.2 264.0 799.0 261.9 805.1 258.9C811.1 255.9 806.5 249.6 819.0 247.8C831.5 245.9 869.6 243.6 880.3 247.8C890.9 252.0 882.4 265.9 883.1 272.8C883.7 279.8 884.9 284.9 884.4 289.6C884.0 294.2 882.8 297.0 880.3 300.7C877.7 304.4 873.8 308.4 869.1 311.8C864.5 315.3 858.5 319.0 852.4 321.6C846.4 324.1 839.9 325.8 832.9 327.2C826.0 328.5 817.6 328.8 810.6 329.9C803.7 331.1 796.7 332.3 791.2 334.1C785.6 336.0 781.4 338.5 777.2 341.1C773.0 343.6 770.3 347.1 766.1 349.4C761.9 351.8 757.7 353.8 752.2 355.0C746.6 356.2 739.6 356.4 732.7 356.4C725.7 356.4 717.3 355.9 710.4 355.0C703.4 354.1 696.0 352.9 690.9 350.8C685.8 348.7 682.5 345.3 679.8 342.5C677.0 339.7 675.3 336.9 674.2 334.1C673.0 331.3 671.9 329.9 672.8 325.8Z" fill="#e0bdb3" stroke="#000" stroke-width="0.9"/>
<path d="M973.6 412.1C973.1 408.4 973.3 404.0 975.0 401.0C976.6 397.9 979.1 395.8 983.3 394.0C987.5 392.2 992.6 391.2 1000.0 390.4C1007.4 389.6 1017.7 389.4 1027.9 389.3C1038.1 389.2 1049.4 388.6 1061.3 389.8C1073.2 391.1 1087.1 394.9 1099.5 396.8C1111.9 398.6 1122.7 399.1 1135.7 401.0C1148.7 402.8 1163.5 405.8 1177.5 407.9C1191.4 410.0 1205.8 411.4 1219.2 413.5C1232.7 415.6 1245.2 418.4 1258.2 420.5C1271.2 422.5 1285.2 424.4 1297.2 426.0C1309.3 427.6 1320.4 428.8 1330.6 430.2C1340.9 431.6 1350.1 432.8 1358.5 434.4C1366.8 435.9 1375.2 438.1 1380.8 439.4C1386.3 440.7 1389.4 440.2 1391.9 442.2C1394.5 444.1 1395.9 448.0 1396.1 451.1C1396.3 454.2 1397.3 458.5 1393.3 460.8C1389.4 463.2 1382.9 464.0 1372.4 465.0C1362.0 466.0 1344.6 466.5 1330.6 467.0C1316.7 467.4 1302.8 467.4 1288.9 467.8C1274.9 468.2 1258.7 468.5 1247.1 469.2C1235.5 469.9 1228.1 470.8 1219.2 472.0C1210.4 473.1 1200.0 473.6 1194.2 476.2C1188.4 478.7 1184.9 483.8 1184.4 487.3C1184.0 490.8 1187.9 493.8 1191.4 497.0C1194.9 500.3 1199.8 503.5 1205.3 506.8C1210.9 510.0 1217.9 513.5 1224.8 516.5C1231.8 519.5 1238.7 521.9 1247.1 524.9C1255.5 527.9 1266.6 531.6 1274.9 534.6C1283.3 537.7 1290.7 540.2 1297.2 543.0C1303.7 545.8 1310.2 548.8 1313.9 551.3C1317.6 553.9 1319.7 555.5 1319.5 558.3C1319.3 561.1 1315.8 565.9 1312.5 568.1C1309.3 570.2 1304.4 570.6 1300.0 571.4C1295.6 572.2 1292.6 573.2 1286.1 573.1C1279.6 573.0 1269.8 571.7 1261.0 570.8C1252.2 570.0 1242.5 569.2 1233.2 568.1C1223.9 566.9 1213.2 565.3 1205.3 563.9C1197.4 562.5 1191.9 561.8 1185.8 559.7C1179.8 557.6 1175.2 554.6 1169.1 551.3C1163.1 548.1 1156.1 543.9 1149.6 540.2C1143.1 536.5 1137.1 533.2 1130.1 529.1C1123.2 524.9 1114.3 519.3 1107.8 515.1C1101.4 511.0 1099.4 509.1 1091.1 504.0C1082.9 498.9 1066.7 489.6 1058.5 484.5C1050.3 479.4 1047.4 477.1 1041.8 473.4C1036.2 469.7 1031.1 466.4 1025.1 462.2C1019.1 458.0 1011.6 452.9 1005.6 448.3C999.6 443.7 993.5 438.6 988.9 434.4C984.2 430.2 980.3 426.9 977.7 423.2C975.2 419.5 974.0 415.8 973.6 412.1Z" fill="#e0bdb3" stroke="#000" stroke-width="0.9"/>
<path d="M1756.8 662.7C1756.8 656.9 1758.9 649.3 1761.5 643.2C1764.2 637.2 1768.0 631.2 1772.7 626.5C1777.3 621.9 1782.9 618.4 1789.4 615.4C1795.9 612.4 1803.8 609.9 1811.7 608.4C1819.5 606.9 1828.8 606.7 1836.7 606.5C1844.6 606.3 1852.5 605.6 1859.0 607.0C1865.5 608.5 1870.6 611.7 1875.7 615.4C1880.8 619.1 1885.5 624.7 1889.6 629.3C1893.8 634.0 1898.0 638.6 1900.8 643.2C1903.6 647.9 1905.2 652.5 1906.3 657.2C1907.5 661.8 1908.7 666.9 1907.7 671.1C1906.8 675.3 1904.3 679.0 1900.8 682.2C1897.3 685.5 1892.4 688.0 1886.8 690.6C1881.3 693.1 1874.3 695.7 1867.4 697.6C1860.4 699.4 1852.5 700.7 1845.1 701.7C1837.6 702.8 1830.2 703.7 1822.8 704.0C1815.4 704.2 1807.5 703.7 1800.5 703.1C1793.6 702.5 1786.1 702.4 1781.0 700.3C1775.9 698.2 1773.1 694.3 1769.9 690.6C1766.6 686.9 1763.7 682.7 1761.5 678.1C1759.3 673.4 1756.8 668.5 1756.8 662.7Z" fill="#e0bdb3" stroke="#000" stroke-width="0.9"/>
<path d="M237.3 459.4C238.3 458.8 240.2 459.4 242.4 460.4C244.6 461.4 247.4 463.8 250.4 465.5C253.5 467.2 257.5 469.0 260.5 470.5C263.5 472.0 266.4 472.9 268.6 474.5C270.7 476.2 272.3 478.2 273.6 480.6C274.9 482.9 275.5 486.8 276.6 488.6C277.8 490.5 279.1 491.8 280.7 491.7C282.2 491.5 284.0 489.5 285.7 487.6C287.4 485.8 289.0 482.8 290.7 480.6C292.4 478.4 294.3 476.2 295.8 474.5C297.3 472.9 298.3 471.5 299.8 470.5C301.3 469.5 303.5 468.5 304.8 468.5C306.2 468.5 307.2 469.2 307.9 470.5C308.5 471.9 307.9 474.4 308.9 476.6C309.9 478.7 312.6 481.3 313.9 483.6C315.2 486.0 316.1 488.0 316.4 490.7C316.7 493.3 316.5 496.7 315.9 499.7C315.3 502.7 314.4 506.1 312.9 508.8C311.4 511.5 309.0 513.8 306.8 515.8C304.7 517.9 302.1 519.4 299.8 520.9C297.4 522.4 295.3 524.1 292.7 524.9C290.2 525.7 287.4 525.7 284.7 525.9C282.0 526.1 279.3 525.6 276.6 525.9C273.9 526.2 271.3 526.9 268.6 527.9C265.9 528.9 263.2 530.9 260.5 532.0C257.8 533.0 254.3 532.5 252.5 534.0C250.6 535.5 251.1 539.5 249.4 541.0C247.8 542.5 245.1 543.0 242.4 543.0C239.7 543.0 236.2 540.9 233.3 541.0C230.5 541.2 227.3 544.4 225.3 544.0C223.2 543.7 222.2 541.4 221.2 539.0C220.2 536.7 219.5 533.0 219.2 529.9C218.9 526.9 218.9 524.1 219.2 520.9C219.5 517.7 220.2 514.2 221.2 510.8C222.2 507.4 223.4 504.1 225.3 500.7C227.1 497.4 230.8 493.7 232.3 490.7C233.8 487.6 233.8 485.6 234.3 482.6C234.8 479.6 235.0 475.5 235.3 472.5C235.7 469.5 236.0 466.6 236.3 464.5C236.7 462.3 236.3 460.1 237.3 459.4Z" fill="#a0776c" stroke="#000" stroke-width="0.9"/>
<path d="M1022.3 423.2C1021.8 420.7 1023.2 418.2 1025.1 416.3C1026.9 414.3 1028.3 412.6 1033.4 411.5C1038.5 410.5 1048.3 410.1 1055.7 409.9C1063.1 409.6 1070.7 409.5 1078.0 409.9C1085.3 410.2 1092.2 410.9 1099.5 412.1C1106.8 413.3 1113.4 415.3 1121.8 417.1C1130.1 419.0 1140.3 421.3 1149.6 423.2C1158.9 425.2 1168.2 426.9 1177.5 428.8C1186.8 430.7 1197.4 432.8 1205.3 434.4C1213.2 436.0 1219.9 437.1 1224.8 438.6C1229.7 440.0 1233.4 441.4 1234.6 443.3C1235.7 445.1 1234.3 448.0 1231.8 449.7C1229.2 451.4 1226.0 452.5 1219.2 453.3C1212.5 454.1 1200.7 454.2 1191.4 454.4C1182.1 454.6 1172.8 454.5 1163.5 454.4C1154.3 454.3 1145.0 454.2 1135.7 453.9C1126.4 453.5 1116.5 453.0 1107.8 452.5C1099.2 451.9 1091.3 451.5 1083.6 450.5C1075.8 449.6 1068.3 448.7 1061.3 446.9C1054.3 445.1 1047.4 442.5 1041.8 439.9C1036.2 437.4 1031.1 434.4 1027.9 431.6C1024.6 428.8 1022.8 425.8 1022.3 423.2Z" fill="#a0776c" stroke="#000" stroke-width="0.9"/>
<path d="M238.3 501.7C238.7 500.4 240.4 498.0 242.4 496.7C244.4 495.4 247.8 494.4 250.4 494.2C253.1 493.9 256.5 494.3 258.5 495.2C260.5 496.1 261.9 497.8 262.5 499.7C263.1 501.7 262.5 504.8 262.0 506.8C261.5 508.8 260.6 510.5 259.5 511.8C258.4 513.2 256.8 514.5 255.5 514.8C254.1 515.2 252.8 514.8 251.4 513.8C250.1 512.8 248.6 510.3 247.4 508.8C246.2 507.3 245.6 505.4 244.4 504.8C243.2 504.1 241.4 505.3 240.4 504.8C239.4 504.3 238.0 503.1 238.3 501.7Z" fill="#673a31" stroke="#000" stroke-width="0.9"/>
<path d="M248.9 523.9C249.4 522.7 250.9 521.2 252.5 520.4C254.0 519.5 256.7 518.8 258.5 518.9C260.3 518.9 262.4 519.7 263.0 520.9C263.7 522.0 263.3 524.6 262.5 525.9C261.8 527.3 260.2 528.3 258.5 528.9C256.8 529.6 254.0 530.2 252.5 529.9C250.9 529.7 250.0 528.4 249.4 527.4C248.8 526.4 248.4 525.1 248.9 523.9Z" fill="#673a31" stroke="#000" stroke-width="0.9"/>
<path d="M283.7 499.7C284.4 497.7 286.9 495.4 288.7 492.7C290.6 490.0 293.1 486.3 294.8 483.6C296.4 480.9 297.6 478.7 298.8 476.6C300.0 474.4 300.6 471.7 301.8 470.5C303.0 469.3 305.0 468.8 305.8 469.5C306.7 470.2 307.3 472.7 306.8 474.5C306.3 476.4 303.3 478.4 302.8 480.6C302.3 482.8 304.3 486.0 303.8 487.6C303.3 489.3 301.3 488.6 299.8 490.7C298.3 492.7 296.4 496.9 294.8 499.7C293.1 502.6 291.2 506.1 289.7 507.8C288.2 509.5 286.6 510.3 285.7 509.8C284.8 509.3 284.5 506.4 284.2 504.8C283.8 503.1 282.9 501.7 283.7 499.7Z" fill="#673a31" stroke="#000" stroke-width="0.9"/>
<path d="M234.3 503.7C233.8 502.7 234.5 499.0 235.3 496.7C236.2 494.3 238.3 490.7 239.4 489.6C240.4 488.6 241.5 489.5 241.9 490.7C242.2 491.8 242.0 494.7 241.4 496.7C240.8 498.7 239.5 501.6 238.3 502.7C237.2 503.9 234.8 504.8 234.3 503.7Z" fill="#673a31" stroke="#000" stroke-width="0.9"/>
<path d="M588.4 422.9C588.3 419.9 588.3 416.0 589.0 412.8C589.7 409.6 590.7 406.6 592.4 403.8C594.1 401.0 596.5 398.3 599.1 395.9C601.8 393.5 605.1 391.0 608.1 389.1C611.1 387.3 614.3 385.8 617.1 384.6C620.0 383.5 622.4 382.8 625.0 382.4C627.7 382.0 629.2 381.9 632.9 382.2C636.7 382.4 642.3 383.4 647.5 384.1C652.8 384.8 659.2 385.7 664.4 386.3C669.7 387.0 674.7 387.8 679.1 388.0C683.4 388.2 686.2 387.9 690.3 387.4C694.4 387.0 698.8 386.1 703.8 385.2C708.9 384.3 715.1 383.4 720.7 381.8C726.3 380.2 731.0 378.2 737.6 375.6C744.2 373.0 753.0 369.4 760.5 366.1C768.0 362.9 775.4 359.4 782.8 356.4C790.2 353.4 797.6 350.3 805.1 348.0C812.5 345.8 819.9 344.0 827.4 343.0C834.8 342.1 842.2 342.1 849.6 342.5C857.1 342.8 866.3 342.9 871.9 345.3C877.5 347.6 880.5 351.8 883.1 356.4C885.6 361.0 886.3 367.1 887.2 373.1C888.2 379.1 887.5 386.6 888.6 392.6C889.8 398.6 890.9 404.2 894.2 409.3C897.4 414.4 903.5 418.1 908.1 423.2C912.8 428.3 917.4 434.4 922.0 439.9C926.7 445.5 931.3 450.6 936.0 456.7C940.6 462.7 945.3 470.1 949.9 476.2C954.5 482.2 959.2 487.8 963.8 492.9C968.5 498.0 972.6 501.7 977.7 506.8C982.8 511.9 988.9 518.4 994.5 523.5C1000.0 528.6 1005.6 533.2 1011.2 537.4C1016.7 541.6 1021.8 545.3 1027.9 548.6C1033.9 551.8 1040.4 554.6 1047.4 556.9C1054.3 559.2 1059.6 560.6 1069.6 562.5C1079.7 564.3 1095.9 566.8 1107.8 568.1C1119.8 569.4 1132.0 568.4 1141.3 570.3C1150.6 572.1 1156.1 575.4 1163.5 579.2C1171.0 583.0 1179.8 588.5 1185.8 593.1C1191.9 597.8 1195.8 602.4 1199.8 607.0C1203.7 611.7 1207.1 615.4 1209.5 621.0C1211.9 626.5 1213.8 634.4 1214.2 640.5C1214.7 646.5 1213.8 652.5 1212.3 657.2C1210.8 661.8 1208.8 665.1 1205.3 668.3C1201.8 671.6 1196.0 674.1 1191.4 676.7C1186.8 679.2 1181.7 682.0 1177.5 683.6C1173.3 685.3 1175.6 685.9 1166.3 686.4C1157.1 686.9 1133.8 687.1 1121.8 686.4C1109.7 685.7 1103.1 684.8 1093.9 682.2C1084.8 679.7 1075.1 674.8 1066.9 671.1C1058.6 667.4 1052.0 663.7 1044.6 660.0C1037.2 656.2 1029.7 652.5 1022.3 648.8C1014.9 645.1 1007.4 641.4 1000.0 637.7C992.6 634.0 985.2 630.7 977.7 626.5C970.3 622.4 962.9 617.7 955.5 612.6C948.0 607.5 940.1 601.0 933.2 595.9C926.2 590.8 920.2 586.2 913.7 582.0C907.2 577.8 899.8 574.1 894.2 570.8C888.6 567.6 885.8 565.3 880.3 562.5C874.7 559.7 867.7 556.7 860.8 554.1C853.8 551.6 845.9 549.3 838.5 547.2C831.1 545.1 822.7 543.2 816.2 541.6C809.7 540.0 804.2 538.9 799.5 537.7C794.9 536.5 792.0 535.7 788.3 534.4C784.5 533.0 780.8 531.5 777.0 529.8C773.2 528.2 769.5 526.3 765.7 524.2C762.0 522.2 758.2 519.7 754.5 517.5C750.7 515.2 747.0 513.2 743.2 510.7C739.5 508.3 735.7 505.3 732.0 502.8C728.2 500.4 724.5 498.1 720.7 496.1C717.0 494.0 713.2 492.3 709.5 490.5C705.7 488.6 701.8 486.1 698.2 484.8C694.6 483.5 691.6 483.5 688.1 482.6C684.5 481.6 680.6 480.3 676.8 479.2C673.1 478.1 669.5 477.1 665.6 475.8C661.6 474.5 657.1 473.0 653.2 471.3C649.2 469.6 645.7 467.4 641.9 465.7C638.2 464.0 634.0 462.7 630.7 461.2C627.3 459.7 624.5 458.2 621.7 456.7C618.8 455.2 616.4 453.7 613.8 452.2C611.1 450.7 608.5 449.2 605.9 447.7C603.3 446.2 600.5 444.9 598.0 443.2C595.6 441.5 592.7 439.6 591.3 437.5C589.8 435.5 590.0 433.2 589.6 430.8C589.1 428.3 588.5 425.9 588.4 422.9Z" fill="#b3f9ab" stroke="#000" stroke-width="0.9"/>
<path d="M1166.3 252.8C1170.3 247.5 1153.8 237.0 1176.1 233.9C1198.4 230.7 1277.7 230.7 1300.0 233.9C1322.3 237.0 1307.8 246.8 1309.8 252.8C1311.7 258.8 1312.2 264.4 1311.7 270.1C1311.2 275.7 1308.9 281.2 1307.0 286.8C1305.0 292.3 1303.0 297.9 1300.0 303.5C1297.0 309.1 1293.0 315.6 1288.9 320.2C1284.7 324.8 1280.1 328.1 1274.9 331.3C1269.8 334.6 1265.7 337.1 1258.2 339.7C1250.8 342.2 1240.6 345.4 1230.4 346.7C1220.2 347.9 1206.7 348.4 1197.0 347.5C1187.2 346.6 1178.9 343.8 1171.9 341.1C1164.9 338.4 1160.1 335.3 1155.2 331.3C1150.3 327.4 1144.9 323.0 1142.7 317.4C1140.4 311.8 1141.6 303.9 1141.8 297.9C1142.1 291.9 1142.3 286.5 1144.1 281.2C1145.8 275.9 1148.7 270.6 1152.4 265.9C1156.1 261.2 1162.4 258.1 1166.3 252.8Z" fill="#b3f9ab" stroke="#000" stroke-width="0.9"/>
<path d="M1543.7 396.8C1544.6 392.1 1546.2 383.6 1550.7 378.7C1555.1 373.8 1562.7 370.6 1570.1 367.5C1577.6 364.5 1586.5 362.8 1595.2 360.6C1603.9 358.3 1614.1 355.4 1622.3 354.2C1630.5 352.9 1637.1 352.9 1644.6 353.1C1652.0 353.2 1659.9 353.5 1666.8 355.0C1673.8 356.5 1680.3 359.0 1686.3 362.0C1692.4 365.0 1698.6 368.9 1703.0 373.1C1707.5 377.3 1710.6 381.9 1712.8 387.0C1715.0 392.1 1716.2 398.6 1716.4 403.7C1716.6 408.8 1715.7 413.0 1714.2 417.7C1712.7 422.3 1710.5 427.4 1707.2 431.6C1704.0 435.8 1699.6 439.7 1694.7 442.7C1689.8 445.7 1684.5 448.1 1678.0 449.7C1671.5 451.3 1664.1 452.2 1655.7 452.5C1647.3 452.7 1636.5 452.2 1627.8 451.1C1619.2 449.9 1611.3 447.8 1603.6 445.5C1595.8 443.2 1588.3 440.4 1581.3 437.2C1574.3 433.9 1566.9 429.3 1561.8 426.0C1556.7 422.8 1553.4 420.9 1550.7 417.7C1547.9 414.4 1546.2 410.0 1545.1 406.5C1543.9 403.0 1542.8 401.4 1543.7 396.8Z" fill="#b3f9ab" stroke="#000" stroke-width="0.9"/>
<path d="M1817.2 540.2C1816.8 536.7 1820.0 533.0 1822.8 530.5C1825.6 527.9 1829.3 525.8 1833.9 524.9C1838.6 524.0 1845.1 524.4 1850.6 524.9C1856.2 525.4 1861.3 526.5 1867.4 527.7C1873.4 528.8 1881.3 529.8 1886.8 531.8C1892.4 533.9 1896.1 537.0 1900.8 540.2C1905.4 543.5 1910.1 547.6 1914.7 551.3C1919.3 555.1 1923.5 558.5 1928.6 562.5C1933.7 566.4 1939.8 570.8 1945.3 575.0C1950.9 579.2 1956.5 583.6 1962.0 587.5C1967.6 591.5 1973.2 595.2 1978.8 598.7C1984.3 602.2 1989.9 605.2 1995.5 608.4C2001.0 611.7 2007.1 615.2 2012.2 618.2C2017.3 621.2 2022.6 623.8 2026.1 626.5C2029.6 629.3 2032.1 631.6 2033.1 634.9C2034.0 638.1 2033.3 642.8 2031.7 646.0C2030.0 649.3 2026.6 652.8 2023.3 654.4C2020.1 656.0 2016.8 656.2 2012.2 655.8C2007.5 655.3 2001.5 653.7 1995.5 651.6C1989.4 649.5 1982.5 646.0 1976.0 643.2C1969.5 640.5 1962.5 637.7 1956.5 634.9C1950.4 632.1 1945.3 629.8 1939.8 626.5C1934.2 623.3 1928.6 618.9 1923.1 615.4C1917.5 611.9 1911.9 608.9 1906.3 605.6C1900.8 602.4 1895.2 599.4 1889.6 595.9C1884.1 592.4 1878.5 588.5 1872.9 584.8C1867.4 581.0 1861.8 577.3 1856.2 573.6C1850.6 569.9 1844.6 566.2 1839.5 562.5C1834.4 558.8 1829.3 555.1 1825.6 551.3C1821.9 547.6 1817.7 543.7 1817.2 540.2Z" fill="#b3f9ab" stroke="#000" stroke-width="0.9"/>
<path d="M675.6 437.2C674.2 433.9 675.3 429.7 677.0 426.0C678.6 422.3 681.6 418.1 685.3 414.9C689.0 411.6 693.7 408.8 699.2 406.5C704.8 404.2 711.8 402.8 718.7 401.0C725.7 399.1 734.1 397.7 741.0 395.4C748.0 393.1 754.5 389.8 760.5 387.0C766.5 384.2 771.2 381.2 777.2 378.7C783.3 376.1 790.2 373.8 796.7 371.7C803.2 369.6 809.3 367.7 816.2 366.1C823.2 364.6 832.0 363.0 838.5 362.5C845.0 362.1 851.0 362.1 855.2 363.4C859.4 364.7 861.9 367.3 863.6 370.3C865.2 373.3 865.9 377.7 865.0 381.5C864.0 385.2 861.5 389.4 858.0 392.6C854.5 395.9 849.6 398.4 844.1 401.0C838.5 403.5 831.1 405.6 824.6 407.9C818.1 410.2 811.1 412.3 805.1 414.9C799.0 417.4 793.9 420.0 788.4 423.2C782.8 426.5 777.2 431.1 771.7 434.4C766.1 437.6 760.5 440.4 754.9 442.7C749.4 445.1 744.3 446.9 738.2 448.3C732.2 449.7 725.2 450.9 718.7 451.1C712.2 451.3 704.8 450.6 699.2 449.7C693.7 448.8 689.3 447.6 685.3 445.5C681.4 443.4 677.0 440.4 675.6 437.2Z" fill="#3ad13e" stroke="#000" stroke-width="0.9"/>
</g>
<g clip-path="url(#lc)">
<path d="M62.8 271.5C65.1 269.5 73.5 270.8 76.7 271.5C80.0 272.2 81.6 274.0 82.3 275.6C83.0 277.3 82.7 280.0 80.9 281.2C79.0 282.5 74.2 282.8 71.1 283.2C68.1 283.5 64.2 285.1 62.8 283.2C61.4 281.2 60.5 273.4 62.8 271.5Z" fill="#e0bdb3" stroke="#000" stroke-width="0.9"/>
<path d="M2086.0 289.6C2086.4 288.1 2090.4 286.1 2092.9 284.0C2095.5 281.9 2098.5 278.7 2101.3 277.0C2104.1 275.4 2106.4 274.5 2109.6 274.2C2112.9 274.0 2119.4 273.8 2120.8 275.6C2122.2 277.5 2119.9 282.8 2118.0 285.4C2116.1 287.9 2112.4 289.6 2109.6 291.0C2106.9 292.3 2104.5 293.4 2101.3 293.7C2098.0 294.1 2092.7 293.6 2090.1 292.9C2087.6 292.2 2085.5 291.0 2086.0 289.6Z" fill="#e0bdb3" stroke="#000" stroke-width="0.9"/>
<path d="M119.9 473.4C121.3 470.1 125.7 465.2 129.6 462.2C133.6 459.2 138.9 456.7 143.5 455.3C148.2 453.9 152.8 455.0 157.5 453.9C162.1 452.7 168.1 448.5 171.4 448.3C174.6 448.1 177.0 450.2 177.0 452.5C177.0 454.8 174.6 460.1 171.4 462.2C168.1 464.3 161.2 464.1 157.5 465.0C153.8 465.9 151.0 465.0 149.1 467.8C147.3 470.6 147.7 478.0 146.3 481.7C144.9 485.4 143.5 489.1 140.8 490.1C138.0 491.0 132.9 488.7 129.6 487.3C126.4 485.9 122.9 484.0 121.3 481.7C119.6 479.4 118.5 476.6 119.9 473.4Z" fill="#b3f9ab" stroke="#000" stroke-width="0.9"/>
<path d="M144.9 523.5C146.1 521.4 149.6 521.2 151.9 522.1C154.2 523.0 157.2 526.5 158.9 529.1C160.5 531.6 161.9 534.9 161.7 537.4C161.4 540.0 159.8 543.2 157.5 544.4C155.2 545.5 149.8 546.0 147.7 544.4C145.6 542.8 145.4 538.1 144.9 534.6C144.5 531.2 143.8 525.6 144.9 523.5Z" fill="#b3f9ab" stroke="#000" stroke-width="0.9"/>
<path d="M174.2 540.2C174.2 537.9 177.4 534.4 179.8 533.2C182.1 532.1 185.8 532.1 188.1 533.2C190.4 534.4 191.8 538.1 193.7 540.2C195.5 542.3 199.7 544.4 199.2 545.8C198.8 547.2 194.1 548.3 190.9 548.6C187.6 548.8 182.5 548.6 179.8 547.2C177.0 545.8 174.2 542.5 174.2 540.2Z" fill="#b3f9ab" stroke="#000" stroke-width="0.9"/>
<path d="M326.0 582.0C327.6 577.1 332.5 577.8 335.7 577.8C339.0 577.8 343.6 579.0 345.5 582.0C347.3 585.0 347.5 591.3 346.8 595.9C346.2 600.5 343.1 605.6 341.3 609.8C339.4 614.0 338.0 618.6 335.7 621.0C333.4 623.3 329.0 626.1 327.4 623.8C325.7 621.4 326.2 614.0 326.0 607.0C325.7 600.1 324.3 586.9 326.0 582.0Z" fill="#b3f9ab" stroke="#000" stroke-width="0.9"/>
<path d="M346.8 550.0C347.5 549.0 351.5 550.9 352.4 552.7C353.3 554.6 353.1 560.2 352.4 561.1C351.7 562.0 349.2 560.2 348.2 558.3C347.3 556.4 346.2 550.9 346.8 550.0Z" fill="#b3f9ab" stroke="#000" stroke-width="0.9"/>
<path d="M2088.8 449.7C2089.9 447.7 2094.6 446.0 2098.5 445.0C2102.4 443.9 2109.2 443.1 2112.4 443.3C2115.7 443.5 2117.0 444.3 2118.0 446.1C2119.0 447.8 2121.3 452.1 2118.6 453.9C2115.8 455.6 2105.8 456.2 2101.3 456.7C2096.8 457.1 2093.6 457.8 2091.5 456.7C2089.5 455.5 2087.6 451.6 2088.8 449.7Z" fill="#b3f9ab" stroke="#000" stroke-width="0.9"/>
<path d="M122.7 476.2C123.4 474.1 127.1 472.4 129.6 472.0C132.2 471.5 136.1 471.7 138.0 473.4C139.8 475.0 141.2 479.4 140.8 481.7C140.3 484.0 137.7 486.8 135.2 487.3C132.6 487.8 127.5 486.4 125.4 484.5C123.4 482.6 122.0 478.2 122.7 476.2Z" fill="#3ad13e" stroke="#000" stroke-width="0.9"/>
<path d="M331.5 593.1C332.9 590.3 336.4 587.5 338.5 587.5C340.6 587.5 343.6 590.3 344.1 593.1C344.5 595.9 342.9 601.5 341.3 604.3C339.7 607.0 336.2 609.8 334.3 609.8C332.5 609.8 330.6 607.0 330.1 604.3C329.7 601.5 330.1 595.9 331.5 593.1Z" fill="#3ad13e" stroke="#000" stroke-width="0.9"/>
<path d="M2108.3 444.1C2109.4 442.9 2115.1 443.0 2116.6 444.1C2118.1 445.3 2118.6 449.8 2117.4 451.1C2116.3 452.3 2111.2 452.8 2109.6 451.6C2108.1 450.5 2107.1 445.4 2108.3 444.1Z" fill="#3ad13e" stroke="#000" stroke-width="0.9"/>
<path d="M125.4 477.5C126.0 476.5 128.5 475.7 129.6 476.2C130.8 476.6 132.4 479.0 132.4 480.3C132.4 481.6 130.7 483.6 129.6 483.9C128.6 484.3 126.7 483.3 126.0 482.3C125.3 481.2 124.8 478.6 125.4 477.5Z" fill="#10a210" stroke="#000" stroke-width="0.9"/>
<path d="M334.3 598.7C334.8 597.2 337.6 595.8 338.5 596.5C339.4 597.2 340.4 601.3 339.9 602.9C339.4 604.4 336.6 606.3 335.7 605.6C334.8 605.0 333.9 600.2 334.3 598.7Z" fill="#10a210" stroke="#000" stroke-width="0.9"/>
</g>
<use href="#L" fill="none" stroke="#000" stroke-width="2.2" stroke-linejoin="round"/>
<use href="#K" fill="none" stroke="#000" stroke-width="1.4" stroke-linejoin="round"/>
<use href="#DT" fill="#000"/>
<use href="#B" fill="none" stroke="#000" stroke-width="2.1" stroke-linejoin="round" stroke-linecap="round"/>
</g>
<g transform="translate(0,560)">
<g stroke="#dcdcdc" stroke-width="2.3" stroke-dasharray="8.5 8.18" fill="none">
<path d="M63.8 307.3H2134.5"/><path d="M63.8 364.7H2134.5"/><path d="M63.8 422.2H2134.5"/><path d="M63.8 479.6H2134.5"/><path d="M63.8 537H2134.5"/><path d="M63.8 594.5H2134.5"/><path d="M63.8 651.9H2134.5"/><path d="M410.4 711.4V249.9"/><path d="M755.2 711.4V249.9"/><path d="M1100.1 711.4V249.9"/><path d="M1444.9 711.4V249.9"/><path d="M1789.7 711.4V249.9"/>
</g>
<g stroke="#dcdcdc" stroke-width="2" fill="none"><path d="M63.6 307.3h-6M2136.5 307.3h6"/><path d="M63.6 364.7h-6M2136.5 364.7h6"/><path d="M63.6 422.2h-6M2136.5 422.2h6"/><path d="M63.6 479.6h-6M2136.5 479.6h6"/><path d="M63.6 537h-6M2136.5 537h6"/><path d="M63.6 594.5h-6M2136.5 594.5h6"/><path d="M63.6 651.9h-6M2136.5 651.9h6"/><path d="M238 711.3v6"/><path d="M410.4 711.3v6"/><path d="M582.8 711.3v6"/><path d="M755.2 711.3v6"/><path d="M927.6 711.3v6"/><path d="M1100.1 711.3v6"/><path d="M1272.5 711.3v6"/><path d="M1444.9 711.3v6"/><path d="M1617.3 711.3v6"/><path d="M1789.7 711.3v6"/><path d="M1962.1 711.3v6"/></g>
<rect x="65.6" y="249.9" width="2068.9" height="459.4" fill="none" stroke="#000" stroke-width="5" stroke-linejoin="round"/>
<g class="dv"><text class="dv e" x="54.8" y="313.5">30°N</text><text class="dv" x="2144.6" y="313.5">30°N</text><text class="dv e" x="54.8" y="370.9">20°N</text><text class="dv" x="2144.6" y="370.9">20°N</text><text class="dv e" x="54.8" y="428.4">10°N</text><text class="dv" x="2144.6" y="428.4">10°N</text><text class="dv e" x="54.8" y="485.8">0°</text><text class="dv" x="2144.6" y="485.8">0°</text><text class="dv e" x="54.8" y="543.2">10°S</text><text class="dv" x="2144.6" y="543.2">10°S</text><text class="dv e" x="54.8" y="600.7">20°S</text><text class="dv" x="2144.6" y="600.7">20°S</text><text class="dv e" x="54.8" y="658.1">30°S</text><text class="dv" x="2144.6" y="658.1">30°S</text><text class="dv m" x="410.4" y="733.6">60°E</text><text class="dv m" x="755.2" y="733.6">120°E</text><text class="dv m" x="1100.1" y="733.6">180°</text><text class="dv m" x="1444.9" y="733.6">120°W</text><text class="dv m" x="1789.7" y="733.6">60°W</text></g>
</g>
<g>
<text class="b m" x="220" y="1323.2" style="font-size:27.6px">Tropical Cyclone (TC)</text><text class="b m" x="220" y="1355.1" style="font-size:27.6px">Formation Probability</text>
<rect x="70" y="1367.5" width="99.8" height="65" fill="url(#hz)" stroke="#c8c8c8" stroke-width="1.1"/><text class="b m" x="116.9" y="1459.9" style="font-size:27.3px">&gt;20%</text><rect x="169.8" y="1367.5" width="99.8" height="65" fill="#ff0000" stroke="#000" stroke-width="1.1"/><text class="b m" x="219.6" y="1459.9" style="font-size:27.3px">&gt;40%</text><rect x="269.6" y="1367.5" width="99.8" height="65" fill="#6e0000" stroke="#000" stroke-width="1.1"/><text class="b m" x="322.3" y="1459.9" style="font-size:27.3px">&gt;60%</text>
<text class="i m" x="220" y="1503.8" style="font-size:24.8px">Tropical Depression (TD)</text><text class="i m" x="220" y="1531.9" style="font-size:24.8px">or greater strength</text>
</g>
<g>
<text class="b m" x="660" y="1323.2" style="font-size:27.6px">Above-Average</text><text class="b m" x="660" y="1355.1" style="font-size:27.6px">Rainfall Probability</text>
<rect x="510" y="1367.5" width="99.8" height="65" fill="#b3f9ab" stroke="#000" stroke-width="1.1"/><text class="b m" x="556.9" y="1459.9" style="font-size:27.3px">&gt;50%</text><rect x="609.8" y="1367.5" width="99.8" height="65" fill="#3ad13e" stroke="#000" stroke-width="1.1"/><text class="b m" x="659.6" y="1459.9" style="font-size:27.3px">&gt;65%</text><rect x="709.6" y="1367.5" width="99.8" height="65" fill="#10a210" stroke="#000" stroke-width="1.1"/><text class="b m" x="762.3" y="1459.9" style="font-size:27.3px">&gt;80%</text>
<text class="i m" x="660" y="1503.8" style="font-size:24.8px">Weekly total rainfall in the</text><text class="i m" x="660" y="1531.9" style="font-size:24.8px">Upper third of the historical range</text>
</g>
<g>
<text class="b m" x="1100" y="1323.2" style="font-size:27.6px">Below-Average</text><text class="b m" x="1100" y="1355.1" style="font-size:27.6px">Rainfall Probability</text>
<rect x="950" y="1367.5" width="99.8" height="65" fill="#e0bdb3" stroke="#000" stroke-width="1.1"/><text class="b m" x="996.9" y="1459.9" style="font-size:27.3px">&gt;50%</text><rect x="1049.8" y="1367.5" width="99.8" height="65" fill="#a0776c" stroke="#000" stroke-width="1.1"/><text class="b m" x="1099.6" y="1459.9" style="font-size:27.3px">&gt;65%</text><rect x="1149.6" y="1367.5" width="99.8" height="65" fill="#673a31" stroke="#000" stroke-width="1.1"/><text class="b m" x="1202.3" y="1459.9" style="font-size:27.3px">&gt;80%</text>
<text class="i m" x="1100" y="1503.8" style="font-size:24.8px">Weekly total rainfall in the</text><text class="i m" x="1100" y="1531.9" style="font-size:24.8px">Lower third of the historical range</text>
</g>
<g>
<text class="b m" x="1540" y="1323.2" style="font-size:27.6px">Above-Average</text><text class="b m" x="1540" y="1355.1" style="font-size:27.6px">Temperatures Probability</text>
<rect x="1390" y="1367.5" width="99.8" height="65" fill="#fff8a8" stroke="#000" stroke-width="1.1"/><text class="b m" x="1436.9" y="1459.9" style="font-size:27.3px">&gt;50%</text><rect x="1489.8" y="1367.5" width="99.8" height="65" fill="#ffbe3e" stroke="#000" stroke-width="1.1"/><text class="b m" x="1539.6" y="1459.9" style="font-size:27.3px">&gt;65%</text><rect x="1589.6" y="1367.5" width="99.8" height="65" fill="#ff6400" stroke="#000" stroke-width="1.1"/><text class="b m" x="1642.3" y="1459.9" style="font-size:27.3px">&gt;80%</text>
<text class="i m" x="1540" y="1503.8" style="font-size:24.8px">7-day mean temperatures in the</text><text class="i m" x="1540" y="1531.9" style="font-size:24.8px">Upper third of the historical range</text>
</g>
<g>
<text class="b m" x="1980" y="1323.2" style="font-size:27.6px">Below-Average</text><text class="b m" x="1980" y="1355.1" style="font-size:27.6px">Temperatures Probability</text>
<rect x="1830" y="1367.5" width="99.8" height="65" fill="#96d2fa" stroke="#000" stroke-width="1.1"/><text class="b m" x="1876.9" y="1459.9" style="font-size:27.3px">&gt;50%</text><rect x="1929.8" y="1367.5" width="99.8" height="65" fill="#3e94f6" stroke="#000" stroke-width="1.1"/><text class="b m" x="1979.6" y="1459.9" style="font-size:27.3px">&gt;65%</text><rect x="2029.6" y="1367.5" width="99.8" height="65" fill="#1665d4" stroke="#000" stroke-width="1.1"/><text class="b m" x="2082.3" y="1459.9" style="font-size:27.3px">&gt;80%</text>
<text class="i m" x="1980" y="1503.8" style="font-size:24.8px">7-day mean temperatures in the</text><text class="i m" x="1980" y="1531.9" style="font-size:24.8px">Lower third of the historical range</text>
</g>
<text class="b" x="51.3" y="1604" style="font-size:39px">Issued: 11/11/2025</text>
<text class="b" x="51.3" y="1655.8" style="font-size:39px">Forecaster: Long</text>
<text class="b e" x="2165.8" y="1595.8" style="font-size:25.02px;fill:#ff0000">This product is updated once per week and targets broad scale conditions integrated over a 7-day period for US interests only.</text>
<text class="b e" x="2165.8" y="1624.4" style="font-size:25.02px;fill:#ff0000">Consult your local responsible forecast agency.</text>
</svg>
</body></html>
